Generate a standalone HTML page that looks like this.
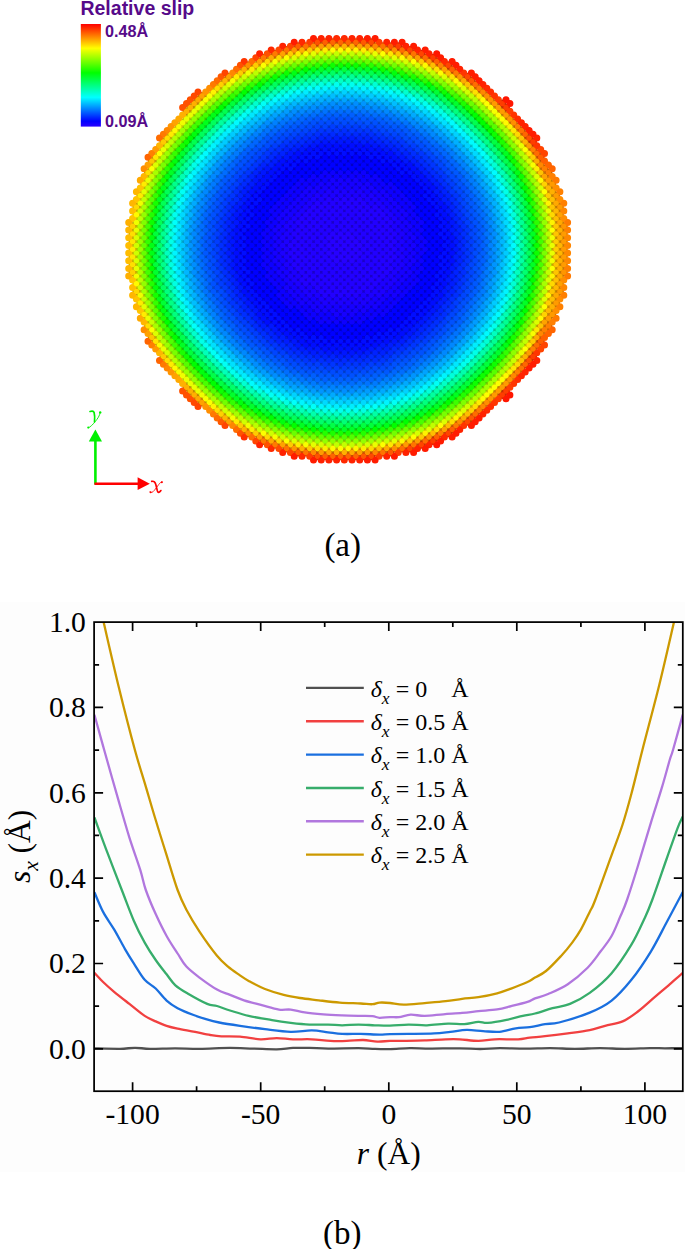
<!DOCTYPE html>
<html><head><meta charset="utf-8"><style>
html,body{margin:0;padding:0;background:#fff;}
body{width:685px;height:1249px;overflow:hidden;}
svg{display:block;}

</style></head><body>
<svg width="685" height="1249" viewBox="0 0 685 1249">
<defs><linearGradient id="cb" x1="0" y1="0" x2="0" y2="1"><stop offset="0" stop-color="#ff0000"/><stop offset="0.236" stop-color="#ffff00"/><stop offset="0.476" stop-color="#00ff00"/><stop offset="0.715" stop-color="#00ffff"/><stop offset="0.947" stop-color="#0000ff"/><stop offset="1" stop-color="#2800ff"/></linearGradient><filter id="bl" x="-5%" y="-5%" width="110%" height="110%"><feGaussianBlur stdDeviation="0.6"/></filter></defs><text x="80.45" y="14.9" font-family="Liberation Sans, sans-serif" font-weight="bold" font-size="19.5" fill="#560a8a">Relative slip</text><rect x="80.8" y="24" width="20.1" height="102.6" fill="url(#cb)"/><text x="105.1" y="37.15" font-family="Liberation Sans, sans-serif" font-weight="bold" font-size="16.2" fill="#560a8a">0.48&#197;</text><text x="105.1" y="126.8" font-family="Liberation Sans, sans-serif" font-weight="bold" font-size="16.2" fill="#560a8a">0.09&#197;</text><g filter="url(#bl)"><g stroke-width="8.0" stroke-linecap="round" fill="none"><path stroke="#1f00c6" d="M328.9 237.8h0M328.9 245.4h0M340.5 233.9h0M359.7 245.4h0M328.9 253.1h0M340.5 241.6h0M359.7 253.1h0M340.5 249.3h0M340.5 256.9h0M336.6 237.8h0M336.6 245.4h0M336.6 253.1h0M355.9 241.6h0M344.3 253.1h0M355.9 249.3h0M344.3 260.8h0M355.9 256.9h0M348.2 233.9h0M348.2 241.6h0M352.0 237.8h0M348.2 249.3h0M332.8 233.9h0M352.0 245.4h0M348.2 256.9h0M332.8 241.6h0M352.0 253.1h0M332.8 249.3h0M352.0 260.8h0M332.8 256.9h0M344.3 237.8h0M344.3 245.4h0M336.6 260.8h0"/><path stroke="#1b00c6" d="M359.7 222.4h0M328.9 230.1h0M363.6 272.3h0M325.1 295.2h0M348.2 203.3h0M375.1 245.4h0M336.6 268.4h0M359.7 230.1h0M363.6 279.9h0M352.0 199.4h0M348.2 210.9h0M375.1 253.1h0M336.6 276.1h0M359.7 237.8h0M363.6 287.6h0M352.0 207.1h0M379.0 210.9h0M348.2 218.6h0M336.6 283.7h0M332.8 203.3h0M321.2 268.4h0M317.4 279.9h0M379.0 218.6h0M336.6 291.4h0M363.6 203.3h0M332.8 210.9h0M294.2 233.9h0M321.2 276.1h0M317.4 287.6h0M379.0 226.3h0M363.6 210.9h0M332.8 218.6h0M294.2 241.6h0M359.7 260.8h0M321.2 283.7h0M390.5 268.4h0M363.6 218.6h0M332.8 226.3h0M325.1 241.6h0M294.2 249.3h0M321.2 291.4h0M313.5 253.1h0M336.6 214.8h0M340.5 264.6h0M363.6 226.3h0M325.1 249.3h0M294.2 256.9h0M313.5 260.8h0M336.6 222.4h0M340.5 272.3h0M363.6 233.9h0M325.1 256.9h0M294.2 264.6h0M371.2 279.9h0M313.5 268.4h0M375.1 207.1h0M394.4 241.6h0M336.6 230.1h0M340.5 279.9h0M382.8 253.1h0M328.9 199.4h0M325.1 264.6h0M317.4 226.3h0M371.2 287.6h0M313.5 276.1h0M394.4 249.3h0M298.1 260.8h0M305.8 260.8h0M382.8 260.8h0M359.7 199.4h0M321.2 222.4h0M325.1 272.3h0M317.4 233.9h0M313.5 283.7h0M394.4 256.9h0M298.1 268.4h0M305.8 268.4h0M382.8 268.4h0M359.7 207.1h0M321.2 230.1h0M325.1 279.9h0M317.4 241.6h0M340.5 203.3h0M355.9 287.6h0M305.8 276.1h0M386.7 226.3h0M382.8 276.1h0M359.7 214.8h0M321.2 237.8h0M290.4 245.4h0M325.1 287.6h0M367.4 260.8h0M317.4 249.3h0M390.5 222.4h0M340.5 210.9h0M302.0 233.9h0M309.7 233.9h0M355.9 295.2h0M305.8 283.7h0M386.7 233.9h0M321.2 245.4h0M290.4 253.1h0M313.5 207.1h0M367.4 268.4h0M317.4 256.9h0M390.5 230.1h0M340.5 218.6h0M302.0 241.6h0M309.7 241.6h0M386.7 241.6h0M325.1 203.3h0M321.2 253.1h0M313.5 214.8h0M367.4 276.1h0M317.4 264.6h0M390.5 237.8h0M340.5 226.3h0M302.0 249.3h0M309.7 249.3h0M386.7 249.3h0M325.1 210.9h0M321.2 260.8h0M371.2 233.9h0M313.5 222.4h0M367.4 283.7h0M317.4 272.3h0M390.5 245.4h0M352.0 268.4h0M302.0 256.9h0M309.7 256.9h0M386.7 256.9h0M348.2 279.9h0M325.1 218.6h0M371.2 241.6h0M313.5 230.1h0M367.4 291.4h0M305.8 214.8h0M390.5 253.1h0M352.0 276.1h0M302.0 264.6h0M309.7 264.6h0M382.8 214.8h0M386.7 264.6h0M348.2 287.6h0M325.1 226.3h0M371.2 249.3h0M313.5 237.8h0M336.6 199.4h0M298.1 222.4h0M305.8 222.4h0M390.5 260.8h0M352.0 283.7h0M302.0 272.3h0M309.7 272.3h0M382.8 222.4h0M386.7 272.3h0M348.2 295.2h0M325.1 233.9h0M367.4 207.1h0M371.2 256.9h0M313.5 245.4h0M332.8 279.9h0M336.6 207.1h0M298.1 230.1h0M305.8 230.1h0M352.0 291.4h0M302.0 279.9h0M309.7 279.9h0M382.8 230.1h0M367.4 214.8h0M317.4 203.3h0M371.2 264.6h0M332.8 287.6h0M298.1 237.8h0M305.8 237.8h0M382.8 237.8h0M367.4 222.4h0M317.4 210.9h0M371.2 272.3h0M332.8 295.2h0M394.4 233.9h0M298.1 245.4h0M305.8 245.4h0M382.8 245.4h0M375.1 260.8h0M344.3 268.4h0M321.2 207.1h0M367.4 230.1h0M317.4 218.6h0M352.0 214.8h0M355.9 264.6h0M298.1 253.1h0M305.8 253.1h0M348.2 226.3h0M375.1 268.4h0M344.3 276.1h0M321.2 214.8h0M367.4 237.8h0M328.9 260.8h0M352.0 222.4h0M309.7 210.9h0M355.9 272.3h0M375.1 276.1h0M344.3 283.7h0M367.4 245.4h0M328.9 268.4h0M352.0 230.1h0M302.0 218.6h0M309.7 218.6h0M355.9 279.9h0M386.7 218.6h0M379.0 233.9h0M375.1 283.7h0M344.3 291.4h0M367.4 253.1h0M359.7 268.4h0M328.9 276.1h0M302.0 226.3h0M309.7 226.3h0M344.3 199.4h0M379.0 241.6h0M371.2 210.9h0M359.7 276.1h0M328.9 283.7h0M344.3 207.1h0M379.0 249.3h0M371.2 218.6h0M359.7 283.7h0M328.9 291.4h0M355.9 203.3h0M344.3 214.8h0M379.0 256.9h0M348.2 264.6h0M371.2 226.3h0M363.6 241.6h0M359.7 291.4h0M355.9 210.9h0M375.1 214.8h0M344.3 222.4h0M379.0 264.6h0M348.2 272.3h0M340.5 287.6h0M328.9 207.1h0M363.6 249.3h0M355.9 218.6h0M375.1 222.4h0M344.3 230.1h0M379.0 272.3h0M340.5 295.2h0M328.9 214.8h0M363.6 256.9h0M332.8 264.6h0M355.9 226.3h0M375.1 230.1h0M379.0 279.9h0M328.9 222.4h0M363.6 264.6h0M332.8 272.3h0M355.9 233.9h0M375.1 237.8h0"/><path stroke="#1700c6" d="M352.0 191.8h0M402.1 264.6h0M286.6 256.9h0M290.4 260.8h0M325.1 302.9h0M379.0 203.3h0M398.2 222.4h0M286.6 264.6h0M332.8 195.6h0M290.4 268.4h0M398.2 230.1h0M363.6 195.6h0M290.4 276.1h0M398.2 237.8h0M398.2 245.4h0M282.7 237.8h0M336.6 299.1h0M317.4 295.2h0M344.3 191.8h0M282.7 245.4h0M386.7 279.9h0M390.5 276.1h0M302.0 287.6h0M309.7 287.6h0M386.7 287.6h0M321.2 299.1h0M375.1 199.4h0M390.5 283.7h0M309.7 295.2h0M328.9 191.8h0M359.7 191.8h0M290.4 222.4h0M294.2 272.3h0M286.6 226.3h0M290.4 230.1h0M294.2 279.9h0M371.2 295.2h0M340.5 195.6h0M290.4 237.8h0M313.5 291.4h0M390.5 214.8h0M394.4 264.6h0M298.1 276.1h0M344.3 299.1h0M394.4 272.3h0M298.1 283.7h0M382.8 283.7h0M325.1 195.6h0M394.4 279.9h0M355.9 302.9h0M305.8 291.4h0M382.8 291.4h0M294.2 218.6h0M382.8 207.1h0M294.2 226.3h0M336.6 191.8h0M298.1 214.8h0M367.4 299.1h0M379.0 287.6h0M317.4 195.6h0M394.4 218.6h0M379.0 295.2h0M348.2 302.9h0M394.4 226.3h0M352.0 299.1h0M321.2 199.4h0M363.6 295.2h0M332.8 302.9h0M309.7 203.3h0M363.6 302.9h0M302.0 210.9h0M386.7 210.9h0M371.2 195.6h0M398.2 253.1h0M371.2 203.3h0M398.2 260.8h0M282.7 253.1h0M375.1 291.4h0M313.5 199.4h0M355.9 195.6h0M398.2 268.4h0M328.9 299.1h0M402.1 233.9h0M359.7 299.1h0M305.8 207.1h0M402.1 241.6h0M286.6 233.9h0M402.1 249.3h0M286.6 241.6h0M340.5 302.9h0M367.4 199.4h0M348.2 195.6h0M402.1 256.9h0M286.6 249.3h0"/><path stroke="#1300c6" d="M379.0 195.6h0M398.2 214.8h0M332.8 187.9h0M402.1 272.3h0M394.4 287.6h0M405.9 260.8h0M282.7 222.4h0M286.6 272.3h0M405.9 268.4h0M282.7 230.1h0M290.4 283.7h0M344.3 184.1h0M409.8 241.6h0M317.4 302.9h0M355.9 187.9h0M375.1 191.8h0M409.8 249.3h0M402.1 218.6h0M302.0 295.2h0M386.7 295.2h0M290.4 214.8h0M321.2 306.7h0M402.1 226.3h0M286.6 218.6h0M390.5 291.4h0M340.5 187.9h0M405.9 230.1h0M371.2 302.9h0M405.9 237.8h0M313.5 299.1h0M344.3 306.7h0M405.9 245.4h0M298.1 291.4h0M294.2 210.9h0M405.9 253.1h0M382.8 199.4h0M305.8 299.1h0M363.6 187.9h0M328.9 306.7h0M394.4 210.9h0M321.2 191.8h0M348.2 310.6h0M278.9 233.9h0M309.7 195.6h0M352.0 306.7h0M278.9 241.6h0M302.0 203.3h0M386.7 203.3h0M286.6 279.9h0M278.9 249.3h0M278.9 256.9h0M390.5 207.1h0M336.6 306.7h0M313.5 191.8h0M325.1 187.9h0M282.7 260.8h0M375.1 299.1h0M398.2 276.1h0M282.7 268.4h0M305.8 199.4h0M398.2 283.7h0M298.1 207.1h0M367.4 191.8h0M294.2 287.6h0M359.7 306.7h0M348.2 187.9h0M340.5 310.6h0"/><path stroke="#0f00c6" d="M278.9 218.6h0M313.5 306.7h0M282.7 214.8h0M382.8 299.1h0M325.1 310.6h0M394.4 295.2h0M405.9 276.1h0M290.4 291.4h0M409.8 233.9h0M367.4 306.7h0M355.9 180.3h0M402.1 210.9h0M328.9 184.1h0M290.4 207.1h0M317.4 310.6h0M286.6 210.9h0M359.7 184.1h0M409.8 256.9h0M352.0 314.4h0M302.0 302.9h0M309.7 302.9h0M405.9 214.8h0M409.8 264.6h0M405.9 222.4h0M409.8 272.3h0M413.6 260.8h0M332.8 180.3h0M294.2 203.3h0M375.1 306.7h0M344.3 314.4h0M355.9 310.6h0M298.1 299.1h0M336.6 184.1h0M275.0 253.1h0M394.4 203.3h0M317.4 187.9h0M409.8 226.3h0M275.0 260.8h0M321.2 184.1h0M278.9 226.3h0M309.7 187.9h0M379.0 302.9h0M302.0 195.6h0M386.7 195.6h0M413.6 237.8h0M402.1 279.9h0M340.5 180.3h0M413.6 245.4h0M371.2 187.9h0M332.8 310.6h0M390.5 199.4h0M413.6 253.1h0M286.6 287.6h0M363.6 310.6h0M278.9 264.6h0M336.6 314.4h0M278.9 272.3h0M275.0 230.1h0M305.8 191.8h0M382.8 191.8h0M275.0 237.8h0M298.1 199.4h0M282.7 276.1h0M367.4 184.1h0M275.0 245.4h0M348.2 180.3h0M398.2 291.4h0M294.2 295.2h0M352.0 184.1h0M398.2 207.1h0"/><path stroke="#0b00c6" d="M294.2 302.9h0M282.7 207.1h0M340.5 318.2h0M271.2 241.6h0M313.5 314.4h0M271.2 249.3h0M382.8 306.7h0M371.2 180.3h0M271.2 256.9h0M344.3 176.5h0M271.2 264.6h0M405.9 283.7h0M375.1 184.1h0M402.1 203.3h0M328.9 176.5h0M290.4 299.1h0M367.4 314.4h0M286.6 203.3h0M359.7 176.5h0M267.3 237.8h0M267.3 245.4h0M405.9 207.1h0M386.7 302.9h0M267.3 253.1h0M390.5 299.1h0M309.7 310.6h0M398.2 199.4h0M413.6 268.4h0M294.2 195.6h0M271.2 226.3h0M371.2 310.6h0M413.6 276.1h0M271.2 233.9h0M278.9 279.9h0M417.5 233.9h0M363.6 180.3h0M336.6 176.5h0M417.5 241.6h0M409.8 210.9h0M394.4 195.6h0M355.9 318.2h0M305.8 306.7h0M417.5 249.3h0M317.4 180.3h0M409.8 218.6h0M328.9 314.4h0M417.5 256.9h0M359.7 314.4h0M417.5 264.6h0M275.0 268.4h0M413.6 222.4h0M290.4 199.4h0M275.0 276.1h0M302.0 187.9h0M386.7 187.9h0M413.6 230.1h0M379.0 310.6h0M348.2 318.2h0M390.5 191.8h0M402.1 287.6h0M313.5 184.1h0M332.8 318.2h0M286.6 295.2h0M325.1 180.3h0M275.0 214.8h0M275.0 222.4h0M305.8 184.1h0M298.1 191.8h0M321.2 314.4h0M282.7 283.7h0M409.8 279.9h0M352.0 176.5h0M282.7 291.4h0M278.9 210.9h0M379.0 187.9h0"/><path stroke="#0700c6" d="M302.0 180.3h0M309.7 180.3h0M325.1 318.2h0M394.4 302.9h0M305.8 314.4h0M382.8 314.4h0M355.9 172.6h0M375.1 176.5h0M402.1 195.6h0M267.3 222.4h0M271.2 272.3h0M286.6 195.6h0M267.3 230.1h0M271.2 279.9h0M405.9 291.4h0M317.4 318.2h0M348.2 172.6h0M352.0 322.1h0M302.0 310.6h0M386.7 310.6h0M271.2 210.9h0M398.2 191.8h0M390.5 306.7h0M309.7 318.2h0M294.2 187.9h0M271.2 218.6h0M379.0 180.3h0M332.8 172.6h0M282.7 199.4h0M363.6 172.6h0M371.2 318.2h0M413.6 283.7h0M409.8 203.3h0M278.9 287.6h0M375.1 314.4h0M344.3 322.1h0M278.9 295.2h0M298.1 306.7h0M321.2 176.5h0M421.3 260.8h0M328.9 322.1h0M413.6 214.8h0M290.4 191.8h0M421.3 268.4h0M359.7 322.1h0M417.5 272.3h0M417.5 279.9h0M405.9 199.4h0M275.0 283.7h0M390.5 184.1h0M340.5 172.6h0M425.2 241.6h0M313.5 176.5h0M425.2 249.3h0M263.5 233.9h0M402.1 295.2h0M325.1 172.6h0M275.0 207.1h0M263.5 241.6h0M363.6 318.2h0M263.5 249.3h0M417.5 218.6h0M286.6 302.9h0M421.3 222.4h0M290.4 306.7h0M298.1 184.1h0M263.5 256.9h0M382.8 184.1h0M417.5 226.3h0M336.6 322.1h0M421.3 230.1h0M263.5 264.6h0M367.4 176.5h0M421.3 237.8h0M394.4 187.9h0M421.3 245.4h0M267.3 260.8h0M321.2 322.1h0M278.9 203.3h0M421.3 253.1h0M267.3 268.4h0M413.6 207.1h0M398.2 299.1h0M267.3 276.1h0M409.8 287.6h0M282.7 299.1h0"/><path stroke="#0300c6" d="M267.3 283.7h0M409.8 295.2h0M259.6 253.1h0M425.2 226.3h0M267.3 291.4h0M294.2 310.6h0M409.8 302.9h0M263.5 210.9h0M340.5 325.9h0M371.2 172.6h0M425.2 233.9h0M313.5 322.1h0M263.5 218.6h0M344.3 168.8h0M355.9 165.0h0M263.5 226.3h0M375.1 168.8h0M402.1 187.9h0M429.0 230.1h0M298.1 314.4h0M275.0 199.4h0M267.3 214.8h0M325.1 325.9h0M286.6 187.9h0M429.0 237.8h0M394.4 310.6h0M305.8 322.1h0M382.8 322.1h0M328.9 168.8h0M421.3 207.1h0M429.0 245.4h0M359.7 168.8h0M429.0 253.1h0M405.9 299.1h0M367.4 322.1h0M429.0 260.8h0M417.5 287.6h0M348.2 165.0h0M348.2 325.9h0M271.2 203.3h0M398.2 184.1h0M379.0 172.6h0M352.0 329.7h0M302.0 318.2h0M386.7 318.2h0M332.8 165.0h0M282.7 191.8h0M363.6 165.0h0M409.8 195.6h0M336.6 168.8h0M371.2 325.9h0M413.6 291.4h0M413.6 299.1h0M375.1 322.1h0M321.2 168.8h0M344.3 329.7h0M267.3 207.1h0M278.9 302.9h0M355.9 325.9h0M290.4 184.1h0M398.2 306.7h0M328.9 329.7h0M386.7 180.3h0M398.2 314.4h0M282.7 306.7h0M405.9 191.8h0M421.3 276.1h0M359.7 329.7h0M390.5 176.5h0M340.5 165.0h0M259.6 260.8h0M421.3 283.7h0M259.6 268.4h0M313.5 168.8h0M275.0 291.4h0M259.6 276.1h0M379.0 318.2h0M325.1 165.0h0M275.0 299.1h0M417.5 203.3h0M294.2 180.3h0M425.2 256.9h0M417.5 210.9h0M402.1 302.9h0M421.3 214.8h0M425.2 264.6h0M332.8 325.9h0M298.1 176.5h0M305.8 176.5h0M382.8 176.5h0M402.1 310.6h0M425.2 272.3h0M271.2 287.6h0M363.6 325.9h0M286.6 310.6h0M367.4 168.8h0M425.2 279.9h0M271.2 295.2h0M290.4 314.4h0M405.9 306.7h0M394.4 180.3h0M429.0 268.4h0M336.6 329.7h0M317.4 325.9h0M259.6 222.4h0M263.5 272.3h0M255.8 233.9h0M317.4 172.6h0M278.9 195.6h0M352.0 168.8h0M259.6 230.1h0M413.6 199.4h0M263.5 279.9h0M255.8 241.6h0M259.6 237.8h0M255.8 249.3h0M390.5 314.4h0M302.0 172.6h0M309.7 172.6h0M259.6 245.4h0M432.9 249.3h0M255.8 256.9h0M425.2 218.6h0"/><path stroke="#0000c6" d="M263.5 203.3h0M432.9 256.9h0M255.8 264.6h0M371.2 165.0h0M344.3 161.1h0M429.0 214.8h0M432.9 264.6h0M251.9 222.4h0M275.0 184.1h0M267.3 299.1h0M294.2 318.2h0M409.8 310.6h0M355.9 157.3h0M371.2 333.6h0M375.1 161.1h0M402.1 180.3h0M429.0 222.4h0M432.9 272.3h0M251.9 230.1h0M421.3 191.8h0M275.0 191.8h0M294.2 325.9h0M313.5 329.7h0M286.6 180.3h0M432.9 279.9h0M251.9 237.8h0M413.6 306.7h0M328.9 161.1h0M421.3 199.4h0M298.1 322.1h0M325.1 333.6h0M394.4 318.2h0M305.8 329.7h0M382.8 329.7h0M255.8 210.9h0M394.4 325.9h0M271.2 187.9h0M259.6 207.1h0M348.2 157.3h0M432.9 210.9h0M255.8 218.6h0M248.1 233.9h0M271.2 195.6h0M367.4 329.7h0M398.2 176.5h0M432.9 218.6h0M248.1 241.6h0M417.5 295.2h0M352.0 161.1h0M379.0 165.0h0M282.7 176.5h0M432.9 226.3h0M248.1 249.3h0M417.5 302.9h0M332.8 157.3h0M348.2 333.6h0M275.0 306.7h0M282.7 184.1h0M432.9 233.9h0M248.1 256.9h0M363.6 157.3h0M248.1 264.6h0M352.0 337.4h0M302.0 325.9h0M309.7 325.9h0M409.8 187.9h0M332.8 333.6h0M336.6 161.1h0M429.0 207.1h0M436.7 253.1h0M267.3 191.8h0M425.2 287.6h0M436.7 260.8h0M267.3 199.4h0M425.2 295.2h0M286.6 172.6h0M436.7 268.4h0M290.4 176.5h0M263.5 287.6h0M375.1 329.7h0M344.3 337.4h0M405.9 176.5h0M278.9 310.6h0M263.5 295.2h0M355.9 333.6h0M359.7 161.1h0M405.9 184.1h0M390.5 168.8h0M340.5 157.3h0M440.6 241.6h0M328.9 337.4h0M440.6 249.3h0M255.8 272.3h0M398.2 322.1h0M282.7 314.4h0M313.5 161.1h0M359.7 337.4h0M417.5 187.9h0M255.8 279.9h0M325.1 157.3h0M340.5 333.6h0M421.3 291.4h0M417.5 195.6h0M255.8 287.6h0M294.2 172.6h0M421.3 299.1h0M436.7 222.4h0M259.6 283.7h0M251.9 245.4h0M379.0 325.9h0M298.1 168.8h0M305.8 168.8h0M382.8 168.8h0M436.7 230.1h0M259.6 291.4h0M251.9 253.1h0M409.8 180.3h0M436.7 237.8h0M251.9 260.8h0M367.4 161.1h0M394.4 172.6h0M436.7 245.4h0M251.9 268.4h0M402.1 318.2h0M278.9 180.3h0M363.6 333.6h0M259.6 214.8h0M413.6 184.1h0M255.8 226.3h0M251.9 276.1h0M286.6 318.2h0M317.4 165.0h0M278.9 187.9h0M271.2 302.9h0M290.4 322.1h0M405.9 314.4h0M413.6 191.8h0M429.0 276.1h0M321.2 161.1h0M336.6 337.4h0M317.4 333.6h0M429.0 283.7h0M425.2 203.3h0M321.2 329.7h0M302.0 165.0h0M309.7 165.0h0M386.7 165.0h0M432.9 241.6h0M429.0 291.4h0M386.7 325.9h0M425.2 210.9h0M263.5 195.6h0M386.7 172.6h0M390.5 322.1h0M309.7 333.6h0"/><path stroke="#0005c6" d="M240.4 241.6h0M444.4 222.4h0M321.2 345.1h0M344.3 153.5h0M251.9 214.8h0M429.0 306.7h0M248.1 279.9h0M390.5 329.7h0M309.7 341.2h0M275.0 176.5h0M240.4 249.3h0M444.4 230.1h0M355.9 149.6h0M417.5 180.3h0M436.7 199.4h0M248.1 287.6h0M390.5 337.4h0M421.3 184.1h0M240.4 256.9h0M444.4 237.8h0M240.4 264.6h0M444.4 245.4h0M267.3 306.7h0M409.8 318.2h0M371.2 341.2h0M305.8 153.5h0M244.2 253.1h0M240.4 272.3h0M444.4 253.1h0M409.8 325.9h0M313.5 337.4h0M255.8 195.6h0M244.2 260.8h0M413.6 314.4h0M259.6 191.8h0M432.9 195.6h0M255.8 203.3h0M244.2 268.4h0M355.9 341.2h0M298.1 329.7h0M413.6 322.1h0M367.4 153.5h0M278.9 325.9h0M259.6 199.4h0M398.2 161.1h0M348.2 149.6h0M432.9 203.3h0M244.2 276.1h0M298.1 337.4h0M305.8 337.4h0M382.8 337.4h0M278.9 172.6h0M398.2 168.8h0M244.2 283.7h0M394.4 333.6h0M352.0 153.5h0M379.0 157.3h0M282.7 168.8h0M332.8 149.6h0M367.4 337.4h0M363.6 149.6h0M367.4 345.1h0M440.6 279.9h0M417.5 310.6h0M379.0 333.6h0M348.2 341.2h0M421.3 314.4h0M275.0 314.4h0M429.0 191.8h0M244.2 214.8h0M440.6 287.6h0M417.5 318.2h0M379.0 341.2h0M275.0 322.1h0M429.0 199.4h0M244.2 222.4h0M248.1 272.3h0M352.0 345.1h0M267.3 184.1h0M332.8 341.2h0M402.1 165.0h0M244.2 230.1h0M290.4 161.1h0M363.6 341.2h0M375.1 153.5h0M402.1 172.6h0M286.6 165.0h0M244.2 237.8h0M290.4 168.8h0M244.2 245.4h0M328.9 153.5h0M405.9 168.8h0M425.2 302.9h0M248.1 203.3h0M436.7 276.1h0M359.7 153.5h0M425.2 310.6h0M340.5 149.6h0M248.1 210.9h0M440.6 233.9h0M436.7 283.7h0M375.1 337.4h0M344.3 345.1h0M278.9 318.2h0M248.1 218.6h0M263.5 302.9h0M436.7 291.4h0M271.2 180.3h0M313.5 153.5h0M248.1 226.3h0M263.5 310.6h0M325.1 149.6h0M328.9 345.1h0M436.7 207.1h0M440.6 256.9h0M398.2 329.7h0M294.2 165.0h0M282.7 322.1h0M359.7 345.1h0M382.8 153.5h0M436.7 214.8h0M440.6 264.6h0M340.5 341.2h0M282.7 329.7h0M267.3 314.4h0M294.2 333.6h0M298.1 161.1h0M305.8 161.1h0M382.8 161.1h0M440.6 272.3h0M432.9 287.6h0M255.8 295.2h0M409.8 172.6h0M421.3 306.7h0M444.4 260.8h0M432.9 295.2h0M255.8 302.9h0M325.1 341.2h0M444.4 268.4h0M394.4 165.0h0M336.6 153.5h0M259.6 299.1h0M317.4 149.6h0M444.4 276.1h0M413.6 176.5h0M259.6 306.7h0M317.4 157.3h0M448.2 233.9h0M402.1 325.9h0M321.2 153.5h0M425.2 187.9h0M448.2 241.6h0M440.6 210.9h0M251.9 283.7h0M286.6 325.9h0M425.2 195.6h0M448.2 249.3h0M271.2 310.6h0M290.4 329.7h0M405.9 322.1h0M302.0 157.3h0M309.7 157.3h0M386.7 157.3h0M440.6 218.6h0M251.9 291.4h0M336.6 345.1h0M240.4 226.3h0M448.2 256.9h0M271.2 318.2h0M317.4 341.2h0M263.5 187.9h0M440.6 226.3h0M251.9 199.4h0M240.4 233.9h0M321.2 337.4h0M448.2 264.6h0M390.5 161.1h0M251.9 207.1h0M429.0 299.1h0M302.0 333.6h0M371.2 157.3h0M386.7 333.6h0"/><path stroke="#000ac6" d="M448.2 272.3h0M417.5 172.6h0M302.0 341.2h0M421.3 176.5h0M386.7 341.2h0M248.1 295.2h0M298.1 153.5h0M255.8 187.9h0M259.6 184.1h0M367.4 145.8h0M236.5 230.1h0M313.5 345.1h0M278.9 165.0h0M236.5 237.8h0M448.2 218.6h0M355.9 348.9h0M236.5 245.4h0M448.2 226.3h0M352.0 145.8h0M379.0 149.6h0M282.7 161.1h0M305.8 345.1h0M425.2 180.3h0M452.1 237.8h0M244.2 291.4h0M452.1 245.4h0M240.4 218.6h0M263.5 180.3h0M429.0 184.1h0M452.1 253.1h0M251.9 191.8h0M244.2 207.1h0M348.2 348.9h0M267.3 176.5h0M344.3 145.8h0M440.6 295.2h0M259.6 314.4h0M332.8 348.9h0M402.1 333.6h0M328.9 145.8h0M363.6 348.9h0M359.7 145.8h0M286.6 333.6h0M251.9 299.1h0M432.9 187.9h0M271.2 172.6h0M375.1 345.1h0M436.7 299.1h0M294.2 157.3h0M263.5 318.2h0M398.2 337.4h0M409.8 165.0h0M340.5 348.9h0M240.4 279.9h0M267.3 322.1h0M394.4 157.3h0M336.6 145.8h0M413.6 168.8h0M432.9 302.9h0M325.1 348.9h0M321.2 145.8h0M236.5 253.1h0M444.4 283.7h0M440.6 203.3h0M236.5 260.8h0M309.7 149.6h0M236.5 268.4h0M444.4 207.1h0M290.4 337.4h0M390.5 153.5h0M405.9 329.7h0M452.1 260.8h0M371.2 149.6h0M444.4 214.8h0M275.0 168.8h0"/><path stroke="#000fc6" d="M355.9 142.0h0M436.7 191.8h0M309.7 348.9h0M456.0 241.6h0M255.8 180.3h0M236.5 214.8h0M259.6 176.5h0M456.0 249.3h0M248.1 302.9h0M236.5 222.4h0M371.2 348.9h0M448.2 210.9h0M348.2 142.0h0M344.3 352.7h0M452.1 222.4h0M413.6 329.7h0M278.9 333.6h0M452.1 230.1h0M298.1 345.1h0M436.7 306.7h0M332.8 142.0h0M382.8 345.1h0M240.4 210.9h0M263.5 172.6h0M267.3 168.8h0M232.7 241.6h0M232.7 249.3h0M421.3 322.1h0M402.1 157.3h0M417.5 325.9h0M232.7 256.9h0M275.0 329.7h0M375.1 145.8h0M286.6 157.3h0M352.0 352.7h0M232.7 264.6h0M405.9 161.1h0M248.1 195.6h0M340.5 142.0h0M251.9 306.7h0M425.2 318.2h0M325.1 142.0h0M448.2 279.9h0M429.0 314.4h0M328.9 352.7h0M359.7 352.7h0M244.2 199.4h0M232.7 233.9h0M294.2 341.2h0M409.8 333.6h0M240.4 287.6h0M255.8 310.6h0M440.6 195.6h0M432.9 310.6h0M290.4 153.5h0M394.4 341.2h0M444.4 291.4h0M302.0 149.6h0M386.7 149.6h0M236.5 276.1h0M336.6 352.7h0M271.2 325.9h0M317.4 348.9h0M452.1 268.4h0M313.5 145.8h0"/><path stroke="#0015c6" d="M452.1 276.1h0M321.2 352.7h0M456.0 233.9h0M452.1 283.7h0M302.0 348.9h0M386.7 348.9h0M236.5 207.1h0M305.8 145.8h0M382.8 145.8h0M390.5 345.1h0M448.2 203.3h0M456.0 256.9h0M278.9 157.3h0M452.1 214.8h0M456.0 264.6h0M352.0 138.1h0M425.2 172.6h0M240.4 203.3h0M363.6 142.0h0M429.0 176.5h0M251.9 184.1h0M244.2 299.1h0M444.4 199.4h0M367.4 352.7h0M344.3 138.1h0M379.0 348.9h0M255.8 318.2h0M348.2 356.6h0M456.0 226.3h0M440.6 302.9h0M248.1 187.9h0M259.6 322.1h0M232.7 272.3h0M402.1 341.2h0M432.9 180.3h0M271.2 165.0h0M286.6 341.2h0M228.8 237.8h0M228.8 245.4h0M398.2 153.5h0M294.2 149.6h0M228.8 253.1h0M448.2 287.6h0M232.7 218.6h0M244.2 191.8h0M263.5 325.9h0M232.7 226.3h0M394.4 149.6h0M336.6 138.1h0M282.7 337.4h0M413.6 161.1h0M340.5 356.6h0M317.4 142.0h0M313.5 352.7h0M440.6 187.9h0M240.4 295.2h0M444.4 299.1h0M371.2 142.0h0M275.0 161.1h0M236.5 283.7h0M405.9 337.4h0M417.5 165.0h0M436.7 184.1h0M421.3 168.8h0"/><path stroke="#001ac6" d="M236.5 291.4h0M271.2 333.6h0M317.4 356.6h0M417.5 333.6h0M255.8 172.6h0M298.1 145.8h0M259.6 168.8h0M452.1 291.4h0M448.2 195.6h0M367.4 138.1h0M248.1 310.6h0M379.0 142.0h0M456.0 272.3h0M240.4 195.6h0M228.8 260.8h0M459.8 260.8h0M456.0 279.9h0M355.9 356.6h0M413.6 337.4h0M228.8 268.4h0M263.5 165.0h0M278.9 341.2h0M251.9 176.5h0M305.8 352.7h0M436.7 314.4h0M444.4 191.8h0M286.6 149.6h0M456.0 218.6h0M421.3 329.7h0M328.9 138.1h0M275.0 337.4h0M440.6 310.6h0M359.7 138.1h0M228.8 222.4h0M332.8 356.6h0M228.8 230.1h0M459.8 230.1h0M232.7 279.9h0M363.6 356.6h0M459.8 237.8h0M452.1 207.1h0M459.8 245.4h0M251.9 314.4h0M459.8 253.1h0M425.2 325.9h0M282.7 153.5h0M375.1 352.7h0M232.7 210.9h0M429.0 322.1h0M409.8 157.3h0M448.2 295.2h0M398.2 345.1h0M267.3 329.7h0M294.2 348.9h0M321.2 138.1h0M325.1 356.6h0M309.7 142.0h0M432.9 318.2h0M405.9 153.5h0M382.8 352.7h0M390.5 145.8h0M244.2 306.7h0M290.4 345.1h0"/><path stroke="#001fc6" d="M405.9 345.1h0M236.5 299.1h0M309.7 356.6h0M390.5 352.7h0M232.7 287.6h0M348.2 134.3h0M371.2 356.6h0M425.2 165.0h0M240.4 187.9h0M332.8 134.3h0M344.3 360.4h0M459.8 268.4h0M429.0 168.8h0M298.1 352.7h0M228.8 276.1h0M459.8 276.1h0M328.9 360.4h0M463.7 241.6h0M402.1 149.6h0M456.0 210.9h0M421.3 161.1h0M463.7 249.3h0M355.9 134.3h0M375.1 138.1h0M463.7 256.9h0M248.1 180.3h0M379.0 356.6h0M255.8 325.9h0M236.5 199.4h0M228.8 214.8h0M225.0 226.3h0M352.0 360.4h0M459.8 222.4h0M225.0 233.9h0M432.9 172.6h0M259.6 329.7h0M271.2 157.3h0M225.0 241.6h0M444.4 306.7h0M452.1 199.4h0M225.0 249.3h0M398.2 145.8h0M336.6 360.4h0M225.0 256.9h0M232.7 203.3h0M225.0 264.6h0M244.2 184.1h0M363.6 134.3h0M448.2 302.9h0M267.3 161.1h0M359.7 360.4h0M440.6 180.3h0M282.7 345.1h0M409.8 341.2h0M290.4 145.8h0M240.4 302.9h0M302.0 142.0h0M386.7 142.0h0M456.0 287.6h0M394.4 348.9h0M340.5 134.3h0M275.0 153.5h0M417.5 157.3h0M436.7 176.5h0M313.5 138.1h0M325.1 134.3h0"/><path stroke="#0024c6" d="M290.4 352.7h0M305.8 138.1h0M382.8 138.1h0M448.2 187.9h0M321.2 360.4h0M302.0 356.6h0M386.7 356.6h0M452.1 299.1h0M278.9 149.6h0M413.6 153.5h0M232.7 295.2h0M248.1 318.2h0M225.0 272.3h0M375.1 360.4h0M444.4 184.1h0M263.5 333.6h0M436.7 322.1h0M228.8 283.7h0M459.8 283.7h0M344.3 130.5h0M456.0 203.3h0M221.1 253.1h0M221.1 260.8h0M236.5 191.8h0M459.8 214.8h0M463.7 264.6h0M421.3 337.4h0M463.7 272.3h0M440.6 318.2h0M402.1 348.9h0M444.4 314.4h0M294.2 142.0h0M286.6 348.9h0M282.7 145.8h0M271.2 341.2h0M251.9 322.1h0M409.8 149.6h0M425.2 333.6h0M394.4 142.0h0M429.0 329.7h0M463.7 226.3h0M221.1 237.8h0M317.4 134.3h0M463.7 233.9h0M221.1 245.4h0M340.5 364.2h0M267.3 337.4h0M313.5 360.4h0M228.8 207.1h0M225.0 218.6h0M240.4 310.6h0M456.0 295.2h0M432.9 325.9h0M371.2 134.3h0M244.2 314.4h0M367.4 360.4h0"/><path stroke="#002ac6" d="M298.1 138.1h0M259.6 161.1h0M417.5 341.2h0M367.4 130.5h0M440.6 172.6h0M425.2 157.3h0M240.4 180.3h0M352.0 130.5h0M379.0 134.3h0M232.7 302.9h0M444.4 176.5h0M309.7 134.3h0M263.5 157.3h0M251.9 168.8h0M225.0 279.9h0M355.9 364.2h0M413.6 345.1h0M278.9 348.9h0M456.0 195.6h0M402.1 142.0h0M421.3 153.5h0M398.2 352.7h0M228.8 291.4h0M459.8 291.4h0M286.6 142.0h0M328.9 130.5h0M221.1 268.4h0M255.8 165.0h0M359.7 130.5h0M348.2 364.2h0M432.9 165.0h0M271.2 149.6h0M275.0 345.1h0M452.1 191.8h0M463.7 279.9h0M332.8 364.2h0M363.6 364.2h0M232.7 195.6h0M244.2 176.5h0M221.1 222.4h0M236.5 306.7h0M429.0 161.1h0M463.7 218.6h0M221.1 230.1h0M336.6 130.5h0M267.3 153.5h0M452.1 306.7h0M448.2 310.6h0M321.2 130.5h0M467.5 230.1h0M228.8 199.4h0M225.0 210.9h0M294.2 356.6h0M248.1 172.6h0M467.5 237.8h0M405.9 145.8h0M459.8 207.1h0M467.5 245.4h0M325.1 364.2h0M390.5 138.1h0M467.5 253.1h0M305.8 360.4h0M382.8 360.4h0M436.7 168.8h0M467.5 260.8h0"/><path stroke="#002fc6" d="M405.9 352.7h0M317.4 364.2h0M352.0 368.1h0M348.2 126.6h0M413.6 145.8h0M309.7 364.2h0M463.7 287.6h0M390.5 360.4h0M371.2 364.2h0M248.1 325.9h0M217.2 226.3h0M302.0 134.3h0M344.3 368.1h0M425.2 341.2h0M225.0 287.6h0M275.0 145.8h0M328.9 368.1h0M263.5 341.2h0M436.7 329.7h0M355.9 126.6h0M359.7 368.1h0M375.1 130.5h0M282.7 352.7h0M236.5 184.1h0M228.8 299.1h0M448.2 180.3h0M221.1 276.1h0M452.1 184.1h0M379.0 364.2h0M255.8 333.6h0M221.1 283.7h0M398.2 138.1h0M467.5 268.4h0M259.6 337.4h0M440.6 325.9h0M232.7 187.9h0M467.5 276.1h0M444.4 322.1h0M332.8 126.6h0M336.6 368.1h0M221.1 214.8h0M471.4 241.6h0M463.7 210.9h0M471.4 249.3h0M251.9 329.7h0M236.5 314.4h0M471.4 256.9h0M429.0 337.4h0M467.5 222.4h0M290.4 138.1h0M225.0 203.3h0M459.8 199.4h0M409.8 348.9h0M386.7 134.3h0M217.2 233.9h0M267.3 345.1h0M217.2 241.6h0M340.5 126.6h0M298.1 360.4h0M217.2 249.3h0M240.4 318.2h0M417.5 149.6h0M456.0 302.9h0M432.9 333.6h0M394.4 356.6h0M313.5 130.5h0M217.2 256.9h0M217.2 264.6h0M244.2 322.1h0"/><path stroke="#0035c6" d="M217.2 272.3h0M305.8 130.5h0M367.4 368.1h0M382.8 130.5h0M471.4 233.9h0M217.2 279.9h0M213.4 237.8h0M394.4 134.3h0M278.9 142.0h0M417.5 348.9h0M213.4 245.4h0M275.0 352.7h0M440.6 165.0h0M302.0 364.2h0M317.4 126.6h0M386.7 364.2h0M213.4 253.1h0M463.7 295.2h0M444.4 168.8h0M217.2 218.6h0M263.5 149.6h0M251.9 161.1h0M232.7 310.6h0M456.0 187.9h0M371.2 126.6h0M225.0 295.2h0M236.5 176.5h0M459.8 299.1h0M255.8 157.3h0M228.8 306.7h0M259.6 153.5h0M432.9 157.3h0M421.3 345.1h0M294.2 134.3h0M240.4 172.6h0M282.7 138.1h0M402.1 356.6h0M221.1 207.1h0M244.2 168.8h0M467.5 283.7h0M286.6 356.6h0M409.8 142.0h0M463.7 203.3h0M290.4 360.4h0M429.0 153.5h0M363.6 126.6h0M271.2 348.9h0M321.2 368.1h0M467.5 214.8h0M471.4 264.6h0M225.0 195.6h0M471.4 272.3h0M452.1 314.4h0M228.8 191.8h0M459.8 191.8h0M448.2 318.2h0M248.1 165.0h0M313.5 368.1h0M436.7 161.1h0M456.0 310.6h0M325.1 126.6h0M471.4 226.3h0"/><path stroke="#003ac6" d="M213.4 222.4h0M298.1 130.5h0M244.2 329.7h0M213.4 230.1h0M348.2 371.9h0M467.5 207.1h0M475.2 253.1h0M425.2 149.6h0M352.0 122.8h0M475.2 260.8h0M440.6 333.6h0M217.2 210.9h0M309.7 126.6h0M375.1 368.1h0M402.1 134.3h0M344.3 122.8h0M355.9 371.9h0M421.3 145.8h0M413.6 352.7h0M278.9 356.6h0M286.6 134.3h0M225.0 302.9h0M328.9 122.8h0M436.7 337.4h0M398.2 360.4h0M359.7 122.8h0M448.2 172.6h0M459.8 306.7h0M452.1 176.5h0M475.2 230.1h0M271.2 142.0h0M475.2 237.8h0M475.2 245.4h0M255.8 341.2h0M221.1 291.4h0M240.4 325.9h0M221.1 199.4h0M332.8 371.9h0M379.0 126.6h0M259.6 345.1h0M463.7 195.6h0M363.6 371.9h0M444.4 329.7h0M467.5 291.4h0M217.2 287.6h0M336.6 122.8h0M456.0 180.3h0M267.3 145.8h0M251.9 337.4h0M236.5 322.1h0M321.2 122.8h0M228.8 184.1h0M213.4 260.8h0M213.4 268.4h0M471.4 279.9h0M405.9 138.1h0M248.1 333.6h0M340.5 371.9h0M294.2 364.2h0M390.5 130.5h0M409.8 356.6h0M325.1 371.9h0M305.8 368.1h0M232.7 180.3h0M382.8 368.1h0M471.4 218.6h0"/><path stroke="#003fc6" d="M228.8 314.4h0M367.4 122.8h0M278.9 134.3h0M317.4 371.9h0M413.6 138.1h0M440.6 157.3h0M467.5 199.4h0M352.0 375.7h0M217.2 203.3h0M221.1 299.1h0M309.7 371.9h0M444.4 161.1h0M251.9 153.5h0M475.2 268.4h0M463.7 302.9h0M302.0 126.6h0M475.2 276.1h0M371.2 371.9h0M232.7 318.2h0M479.1 241.6h0M275.0 138.1h0M344.3 375.7h0M425.2 348.9h0M479.1 249.3h0M236.5 168.8h0M375.1 122.8h0M255.8 149.6h0M263.5 348.9h0M475.2 222.4h0M471.4 287.6h0M282.7 360.4h0M398.2 130.5h0M348.2 119.0h0M240.4 165.0h0M421.3 352.7h0M432.9 341.2h0M463.7 187.9h0M244.2 161.1h0M209.6 233.9h0M332.8 119.0h0M209.6 241.6h0M209.6 249.3h0M336.6 375.7h0M286.6 364.2h0M405.9 360.4h0M209.6 256.9h0M467.5 299.1h0M209.6 264.6h0M225.0 187.9h0M290.4 130.5h0M459.8 184.1h0M248.1 157.3h0M429.0 345.1h0M390.5 368.1h0M386.7 126.6h0M452.1 322.1h0M213.4 276.1h0M448.2 325.9h0M213.4 283.7h0M340.5 119.0h0M267.3 352.7h0M417.5 142.0h0M313.5 122.8h0M471.4 210.9h0M298.1 368.1h0M221.1 191.8h0M209.6 226.3h0M394.4 364.2h0M213.4 214.8h0M456.0 318.2h0"/><path stroke="#0044c6" d="M459.8 314.4h0M394.4 126.6h0M367.4 375.7h0M467.5 191.8h0M244.2 337.4h0M425.2 142.0h0M317.4 119.0h0M217.2 195.6h0M417.5 356.6h0M275.0 360.4h0M302.0 371.9h0M263.5 142.0h0M221.1 306.7h0M463.7 310.6h0M479.1 233.9h0M475.2 283.7h0M371.2 119.0h0M436.7 153.5h0M251.9 345.1h0M355.9 119.0h0M479.1 256.9h0M328.9 375.7h0M475.2 214.8h0M479.1 264.6h0M448.2 165.0h0M259.6 145.8h0M225.0 310.6h0M359.7 375.7h0M432.9 149.6h0M452.1 168.8h0M479.1 272.3h0M471.4 295.2h0M379.0 371.9h0M282.7 130.5h0M240.4 333.6h0M409.8 134.3h0M429.0 145.8h0M363.6 119.0h0M402.1 364.2h0M456.0 172.6h0M479.1 226.3h0M267.3 138.1h0M290.4 368.1h0M225.0 180.3h0M217.2 295.2h0M271.2 356.6h0M228.8 176.5h0M459.8 176.5h0M321.2 375.7h0M209.6 272.3h0M386.7 371.9h0M236.5 329.7h0M405.9 130.5h0M205.7 237.8h0M205.7 245.4h0M205.7 253.1h0M248.1 341.2h0M213.4 291.4h0M471.4 203.3h0M232.7 172.6h0M209.6 218.6h0M325.1 119.0h0M294.2 126.6h0M213.4 207.1h0M305.8 122.8h0M382.8 122.8h0"/><path stroke="#004ac6" d="M456.0 325.9h0M479.1 279.9h0M228.8 322.1h0M459.8 322.1h0M348.2 379.5h0M352.0 115.1h0M309.7 119.0h0M332.8 379.5h0M440.6 341.2h0M344.3 115.1h0M482.9 230.1h0M475.2 291.4h0M421.3 138.1h0M236.5 161.1h0M232.7 325.9h0M482.9 237.8h0M375.1 375.7h0M213.4 199.4h0M482.9 245.4h0M475.2 207.1h0M209.6 279.9h0M355.9 379.5h0M328.9 115.1h0M278.9 364.2h0M482.9 253.1h0M209.6 287.6h0M482.9 260.8h0M263.5 356.6h0M436.7 345.1h0M398.2 368.1h0M225.0 318.2h0M448.2 333.6h0M205.7 260.8h0M240.4 157.3h0M205.7 268.4h0M379.0 119.0h0M255.8 348.9h0M432.9 348.9h0M479.1 218.6h0M259.6 352.7h0M336.6 115.1h0M444.4 337.4h0M402.1 126.6h0M467.5 306.7h0M217.2 302.9h0M286.6 126.6h0M248.1 149.6h0M205.7 222.4h0M205.7 230.1h0M359.7 115.1h0M429.0 352.7h0M390.5 122.8h0M452.1 329.7h0M271.2 134.3h0M417.5 134.3h0M471.4 195.6h0M340.5 379.5h0M294.2 371.9h0M409.8 364.2h0M313.5 375.7h0M209.6 210.9h0M221.1 184.1h0M463.7 180.3h0M413.6 360.4h0M325.1 379.5h0M244.2 153.5h0M305.8 375.7h0M298.1 122.8h0"/><path stroke="#004fc6" d="M467.5 184.1h0M482.9 268.4h0M367.4 115.1h0M413.6 130.5h0M440.6 149.6h0M479.1 287.6h0M217.2 187.9h0M321.2 115.1h0M251.9 145.8h0M302.0 119.0h0M386.7 119.0h0M221.1 314.4h0M436.7 145.8h0M482.9 222.4h0M275.0 130.5h0M463.7 318.2h0M201.9 241.6h0M425.2 356.6h0M255.8 142.0h0M448.2 157.3h0M201.9 249.3h0M452.1 161.1h0M201.9 256.9h0M282.7 368.1h0M398.2 122.8h0M471.4 302.9h0M267.3 360.4h0M205.7 276.1h0M444.4 153.5h0M479.1 210.9h0M456.0 165.0h0M363.6 379.5h0M228.8 168.8h0M405.9 368.1h0M317.4 379.5h0M205.7 214.8h0M290.4 122.8h0M475.2 199.4h0M371.2 379.5h0M209.6 203.3h0M232.7 165.0h0M213.4 299.1h0M382.8 375.7h0M394.4 371.9h0"/><path stroke="#0055c6" d="M482.9 276.1h0M244.2 345.1h0M421.3 360.4h0M486.8 249.3h0M352.0 383.4h0M417.5 364.2h0M486.8 256.9h0M309.7 379.5h0M213.4 191.8h0M201.9 233.9h0M375.1 115.1h0M475.2 299.1h0M467.5 314.4h0M344.3 383.4h0M232.7 333.6h0M259.6 138.1h0M432.9 142.0h0M209.6 295.2h0M201.9 264.6h0M278.9 126.6h0M348.2 111.3h0M486.8 241.6h0M479.1 203.3h0M332.8 111.3h0M379.0 379.5h0M263.5 134.3h0M429.0 138.1h0M205.7 283.7h0M240.4 341.2h0M482.9 214.8h0M402.1 371.9h0M225.0 172.6h0M336.6 383.4h0M459.8 168.8h0M286.6 371.9h0M201.9 226.3h0M271.2 364.2h0M217.2 310.6h0M236.5 337.4h0M390.5 375.7h0M340.5 111.3h0M471.4 187.9h0M313.5 115.1h0M221.1 176.5h0M248.1 348.9h0M463.7 172.6h0M409.8 126.6h0M298.1 375.7h0"/><path stroke="#0059c6" d="M394.4 119.0h0M436.7 352.7h0M225.0 325.9h0M367.4 383.4h0M482.9 283.7h0M479.1 295.2h0M228.8 329.7h0M459.8 329.7h0M275.0 368.1h0M302.0 379.5h0M486.8 264.6h0M440.6 348.9h0M355.9 111.3h0M251.9 352.7h0M328.9 383.4h0M359.7 383.4h0M217.2 180.3h0M201.9 272.3h0M448.2 341.2h0M486.8 226.3h0M425.2 134.3h0M282.7 122.8h0M486.8 233.9h0M471.4 310.6h0M213.4 306.7h0M363.6 111.3h0M255.8 356.6h0M205.7 291.4h0M267.3 130.5h0M456.0 333.6h0M201.9 218.6h0M205.7 207.1h0M290.4 375.7h0M444.4 345.1h0M475.2 191.8h0M405.9 122.8h0M321.2 383.4h0M209.6 195.6h0M452.1 337.4h0M325.1 111.3h0M294.2 119.0h0M305.8 115.1h0M382.8 115.1h0M413.6 368.1h0M467.5 176.5h0"/><path stroke="#005fc6" d="M225.0 165.0h0M205.7 199.4h0M228.8 161.1h0M317.4 111.3h0M201.9 279.9h0M482.9 291.4h0M198.0 253.1h0M198.0 260.8h0M471.4 180.3h0M371.2 111.3h0M259.6 360.4h0M221.1 322.1h0M486.8 272.3h0M421.3 130.5h0M236.5 153.5h0M213.4 184.1h0M463.7 325.9h0M448.2 149.6h0M467.5 322.1h0M375.1 383.4h0M278.9 371.9h0M429.0 360.4h0M486.8 218.6h0M209.6 302.9h0M263.5 364.2h0M240.4 149.6h0M398.2 375.7h0M198.0 230.1h0M479.1 195.6h0M444.4 145.8h0M198.0 237.8h0M251.9 138.1h0M198.0 245.4h0M482.9 207.1h0M432.9 356.6h0M201.9 210.9h0M286.6 119.0h0M248.1 142.0h0M452.1 153.5h0M386.7 379.5h0M390.5 115.1h0M217.2 318.2h0M271.2 126.6h0M232.7 157.3h0M244.2 145.8h0M409.8 371.9h0M313.5 383.4h0M475.2 306.7h0M298.1 115.1h0"/><path stroke="#0064c6" d="M336.6 107.5h0M440.6 142.0h0M490.6 253.1h0M394.4 379.5h0M201.9 287.6h0M479.1 302.9h0M348.2 387.2h0M309.7 111.3h0M436.7 138.1h0M332.8 387.2h0M275.0 122.8h0M198.0 268.4h0M344.3 107.5h0M417.5 126.6h0M198.0 276.1h0M486.8 279.9h0M255.8 134.3h0M425.2 364.2h0M486.8 210.9h0M198.0 222.4h0M340.5 387.2h0M282.7 375.7h0M352.0 107.5h0M379.0 111.3h0M294.2 379.5h0M267.3 368.1h0M471.4 318.2h0M213.4 314.4h0M456.0 157.3h0M482.9 199.4h0M240.4 348.9h0M490.6 260.8h0M205.7 299.1h0M459.8 161.1h0M402.1 119.0h0M475.2 184.1h0M328.9 107.5h0M359.7 107.5h0M209.6 187.9h0M236.5 345.1h0M221.1 168.8h0M463.7 165.0h0M490.6 230.1h0M232.7 341.2h0M490.6 237.8h0M355.9 387.2h0M325.1 387.2h0M490.6 245.4h0M305.8 383.4h0"/><path stroke="#006ac6" d="M382.8 383.4h0M413.6 122.8h0M205.7 191.8h0M194.2 233.9h0M225.0 333.6h0M321.2 107.5h0M228.8 337.4h0M302.0 111.3h0M459.8 337.4h0M386.7 111.3h0M482.9 299.1h0M421.3 368.1h0M471.4 172.6h0M213.4 176.5h0M221.1 329.7h0M486.8 287.6h0M259.6 130.5h0M278.9 119.0h0M217.2 172.6h0M198.0 214.8h0M398.2 115.1h0M479.1 187.9h0M209.6 310.6h0M448.2 348.9h0M263.5 126.6h0M429.0 130.5h0M201.9 203.3h0M363.6 387.2h0M490.6 268.4h0M290.4 115.1h0M456.0 341.2h0M194.2 241.6h0M490.6 276.1h0M244.2 352.7h0M194.2 249.3h0M444.4 352.7h0M405.9 375.7h0M317.4 387.2h0M194.2 256.9h0M432.9 134.3h0M271.2 371.9h0M371.2 387.2h0M490.6 222.4h0M452.1 345.1h0M248.1 356.6h0M467.5 168.8h0M475.2 314.4h0M367.4 107.5h0"/><path stroke="#006ec6" d="M225.0 157.3h0M228.8 153.5h0M194.2 226.3h0M436.7 360.4h0M201.9 295.2h0M479.1 310.6h0M379.0 387.2h0M352.0 391.0h0M417.5 371.9h0M275.0 375.7h0M205.7 306.7h0M440.6 356.6h0M402.1 379.5h0M355.9 103.6h0M286.6 379.5h0M198.0 283.7h0M344.3 391.0h0M486.8 203.3h0M467.5 329.7h0M251.9 360.4h0M198.0 207.1h0M240.4 142.0h0M348.2 103.6h0M425.2 126.6h0M332.8 103.6h0M482.9 191.8h0M201.9 195.6h0M267.3 122.8h0M255.8 364.2h0M475.2 176.5h0M236.5 145.8h0M375.1 107.5h0M336.6 391.0h0M494.5 233.9h0M209.6 180.3h0M494.5 241.6h0M194.2 264.6h0M340.5 103.6h0M494.5 249.3h0M232.7 149.6h0M309.7 387.2h0M194.2 272.3h0M217.2 325.9h0M494.5 256.9h0M390.5 383.4h0M313.5 107.5h0M490.6 214.8h0M294.2 111.3h0M463.7 333.6h0M486.8 295.2h0M409.8 119.0h0M298.1 383.4h0"/><path stroke="#0074c6" d="M413.6 375.7h0M459.8 153.5h0M494.5 226.3h0M482.9 306.7h0M421.3 122.8h0M490.6 207.1h0M259.6 368.1h0M448.2 142.0h0M198.0 291.4h0M305.8 107.5h0M217.2 165.0h0M328.9 391.0h0M479.1 180.3h0M359.7 391.0h0M282.7 115.1h0M444.4 138.1h0M456.0 149.6h0M363.6 103.6h0M471.4 325.9h0M213.4 322.1h0M432.9 364.2h0M248.1 134.3h0M405.9 115.1h0M452.1 145.8h0M290.4 383.4h0M490.6 283.7h0M321.2 391.0h0M221.1 161.1h0M463.7 157.3h0M494.5 264.6h0M325.1 103.6h0M244.2 138.1h0M494.5 272.3h0M190.3 245.4h0M382.8 107.5h0M394.4 111.3h0M205.7 184.1h0M194.2 218.6h0"/><path stroke="#0079c6" d="M278.9 379.5h0M317.4 103.6h0M494.5 218.6h0M225.0 341.2h0M367.4 391.0h0M201.9 302.9h0M228.8 345.1h0M436.7 130.5h0M371.2 103.6h0M213.4 168.8h0M417.5 119.0h0M298.1 107.5h0M467.5 161.1h0M486.8 195.6h0M236.5 352.7h0M429.0 368.1h0M263.5 371.9h0M398.2 383.4h0M251.9 130.5h0M209.6 318.2h0M409.8 379.5h0M190.3 260.8h0M286.6 111.3h0M490.6 291.4h0M271.2 119.0h0M198.0 199.4h0M302.0 387.2h0M386.7 387.2h0M190.3 230.1h0M194.2 279.9h0M190.3 237.8h0M190.3 253.1h0M313.5 391.0h0M194.2 210.9h0M232.7 348.9h0M440.6 134.3h0M475.2 322.1h0"/><path stroke="#007fc6" d="M309.7 103.6h0M209.6 172.6h0M471.4 165.0h0M348.2 394.9h0M390.5 107.5h0M459.8 345.1h0M479.1 318.2h0M275.0 115.1h0M490.6 199.4h0M498.3 237.8h0M498.3 245.4h0M255.8 126.6h0M205.7 314.4h0M498.3 253.1h0M221.1 337.4h0M198.0 299.1h0M375.1 391.0h0M425.2 371.9h0M217.2 333.6h0M194.2 287.6h0M352.0 99.8h0M379.0 103.6h0M482.9 184.1h0M201.9 187.9h0M340.5 394.9h0M294.2 387.2h0M448.2 356.6h0M267.3 375.7h0M190.3 268.4h0M475.2 168.8h0M402.1 111.3h0M344.3 99.8h0M240.4 356.6h0M456.0 348.9h0M432.9 126.6h0M244.2 360.4h0M190.3 222.4h0M498.3 260.8h0M494.5 279.9h0M452.1 352.7h0M463.7 341.2h0M486.8 302.9h0M336.6 99.8h0"/><path stroke="#0084c6" d="M305.8 391.0h0M382.8 391.0h0M494.5 210.9h0M290.4 107.5h0M498.3 230.1h0M201.9 310.6h0M421.3 375.7h0M482.9 314.4h0M332.8 394.9h0M363.6 394.9h0M440.6 364.2h0M259.6 122.8h0M444.4 360.4h0M467.5 337.4h0M251.9 368.1h0M429.0 122.8h0M282.7 383.4h0M494.5 287.6h0M325.1 394.9h0M471.4 333.6h0M190.3 276.1h0M213.4 329.7h0M394.4 387.2h0M328.9 99.8h0M486.8 187.9h0M359.7 99.8h0M198.0 191.8h0M405.9 383.4h0M232.7 142.0h0M490.6 299.1h0M479.1 172.6h0M194.2 203.3h0M498.3 268.4h0M205.7 176.5h0M248.1 364.2h0M413.6 115.1h0M228.8 145.8h0M355.9 394.9h0"/><path stroke="#0089c6" d="M494.5 203.3h0M475.2 329.7h0M298.1 391.0h0M321.2 99.8h0M436.7 368.1h0M302.0 103.6h0M386.7 103.6h0M498.3 222.4h0M417.5 379.5h0M255.8 371.9h0M286.6 387.2h0M217.2 157.3h0M367.4 99.8h0M278.9 111.3h0M240.4 134.3h0M398.2 107.5h0M425.2 119.0h0M482.9 176.5h0M194.2 295.2h0M263.5 119.0h0M456.0 142.0h0M209.6 325.9h0M236.5 138.1h0M190.3 283.7h0M317.4 394.9h0M190.3 214.8h0M221.1 153.5h0M271.2 379.5h0M186.5 233.9h0M186.5 241.6h0M186.5 249.3h0M409.8 111.3h0M186.5 256.9h0M371.2 394.9h0M186.5 264.6h0M225.0 149.6h0M498.3 276.1h0M486.8 310.6h0M459.8 145.8h0"/><path stroke="#008ec6" d="M502.2 241.6h0M248.1 126.6h0M502.2 249.3h0M502.2 256.9h0M471.4 157.3h0M498.3 214.8h0M190.3 207.1h0M213.4 161.1h0M490.6 191.8h0M313.5 99.8h0M479.1 325.9h0M275.0 383.4h0M448.2 134.3h0M259.6 375.7h0M402.1 387.2h0M467.5 153.5h0M205.7 322.1h0M502.2 233.9h0M444.4 130.5h0M201.9 180.3h0M267.3 115.1h0M186.5 272.3h0M494.5 295.2h0M375.1 99.8h0M432.9 371.9h0M452.1 138.1h0M186.5 226.3h0M463.7 149.6h0M294.2 103.6h0M309.7 394.9h0M244.2 130.5h0M390.5 391.0h0M194.2 195.6h0M198.0 306.7h0"/><path stroke="#0094c6" d="M498.3 283.7h0M232.7 356.6h0M413.6 383.4h0M209.6 165.0h0M502.2 264.6h0M225.0 348.9h0M186.5 218.6h0M421.3 115.1h0M379.0 394.9h0M228.8 352.7h0M352.0 398.7h0M355.9 96.0h0M201.9 318.2h0M305.8 99.8h0M382.8 99.8h0M440.6 126.6h0M502.2 226.3h0M348.2 96.0h0M490.6 306.7h0M282.7 107.5h0M217.2 341.2h0M236.5 360.4h0M328.9 398.7h0M251.9 122.8h0M332.8 96.0h0M429.0 375.7h0M359.7 398.7h0M498.3 207.1h0M194.2 302.9h0M475.2 161.1h0M405.9 107.5h0M190.3 291.4h0M486.8 180.3h0M198.0 184.1h0M271.2 111.3h0M336.6 398.7h0M340.5 96.0h0M290.4 391.0h0M325.1 96.0h0M482.9 322.1h0M221.1 345.1h0M394.4 103.6h0M344.3 398.7h0M494.5 195.6h0"/><path stroke="#0099c6" d="M198.0 314.4h0M486.8 318.2h0M182.6 237.8h0M498.3 291.4h0M278.9 387.2h0M182.6 245.4h0M190.3 199.4h0M186.5 210.9h0M436.7 122.8h0M367.4 398.7h0M490.6 184.1h0M502.2 272.3h0M417.5 111.3h0M459.8 352.7h0M471.4 341.2h0M502.2 218.6h0M425.2 379.5h0M467.5 345.1h0M363.6 96.0h0M263.5 379.5h0M398.2 391.0h0M452.1 360.4h0M448.2 364.2h0M409.8 387.2h0M186.5 279.9h0M286.6 103.6h0M213.4 337.4h0M255.8 119.0h0M182.6 253.1h0M240.4 364.2h0M182.6 260.8h0M456.0 356.6h0M244.2 368.1h0M479.1 165.0h0M321.2 398.7h0M302.0 394.9h0M386.7 394.9h0M205.7 168.8h0M463.7 348.9h0M317.4 96.0h0"/><path stroke="#009ec6" d="M182.6 230.1h0M475.2 337.4h0M390.5 99.8h0M232.7 134.3h0M371.2 96.0h0M209.6 333.6h0M275.0 107.5h0M221.1 145.8h0M502.2 279.9h0M259.6 115.1h0M298.1 99.8h0M444.4 368.1h0M375.1 398.7h0M482.9 168.8h0M498.3 199.4h0M506.0 253.1h0M313.5 398.7h0M402.1 103.6h0M267.3 383.4h0M494.5 302.9h0M186.5 287.6h0M432.9 119.0h0M190.3 299.1h0M182.6 268.4h0M201.9 172.6h0M194.2 187.9h0M506.0 237.8h0M506.0 245.4h0M225.0 142.0h0M228.8 138.1h0M248.1 371.9h0"/><path stroke="#00a3c6" d="M309.7 96.0h0M186.5 203.3h0M348.2 402.5h0M421.3 383.4h0M467.5 145.8h0M440.6 371.9h0M217.2 149.6h0M502.2 210.9h0M205.7 329.7h0M413.6 107.5h0M352.0 92.1h0M379.0 96.0h0M490.6 314.4h0M251.9 375.7h0M429.0 115.1h0M456.0 134.3h0M213.4 153.5h0M340.5 402.5h0M282.7 391.0h0M194.2 310.6h0M506.0 260.8h0M294.2 394.9h0M236.5 130.5h0M344.3 92.1h0M486.8 172.6h0M394.4 394.9h0M198.0 176.5h0M240.4 126.6h0M463.7 142.0h0M182.6 276.1h0M405.9 391.0h0M479.1 333.6h0M506.0 230.1h0M336.6 92.1h0M494.5 187.9h0M459.8 138.1h0M182.6 222.4h0"/><path stroke="#00a9c6" d="M290.4 99.8h0M355.9 402.5h0M305.8 398.7h0M498.3 299.1h0M302.0 96.0h0M209.6 157.3h0M471.4 149.6h0M190.3 191.8h0M490.6 176.5h0M436.7 375.7h0M178.8 241.6h0M178.8 249.3h0M255.8 379.5h0M332.8 402.5h0M363.6 402.5h0M278.9 103.6h0M425.2 111.3h0M271.2 387.2h0M263.5 111.3h0M506.0 268.4h0M325.1 402.5h0M448.2 126.6h0M382.8 398.7h0M186.5 295.2h0M452.1 130.5h0M328.9 92.1h0M359.7 92.1h0M398.2 99.8h0M506.0 222.4h0M502.2 287.6h0M244.2 122.8h0M417.5 387.2h0M201.9 325.9h0M482.9 329.7h0M182.6 214.8h0M475.2 153.5h0"/><path stroke="#00aec6" d="M248.1 119.0h0M321.2 92.1h0M198.0 322.1h0M232.7 364.2h0M486.8 325.9h0M298.1 398.7h0M386.7 96.0h0M178.8 233.9h0M225.0 356.6h0M194.2 180.3h0M178.8 256.9h0M502.2 203.3h0M178.8 264.6h0M367.4 92.1h0M286.6 394.9h0M444.4 122.8h0M498.3 191.8h0M217.2 348.9h0M506.0 276.1h0M494.5 310.6h0M213.4 345.1h0M432.9 379.5h0M190.3 306.7h0M479.1 157.3h0M506.0 214.8h0M317.4 402.5h0M182.6 283.7h0M228.8 360.4h0M409.8 103.6h0M205.7 161.1h0M267.3 107.5h0M221.1 352.7h0M371.2 402.5h0"/><path stroke="#00b4c6" d="M463.7 356.6h0M190.3 184.1h0M413.6 391.0h0M186.5 195.6h0M498.3 306.7h0M313.5 92.1h0M209.6 341.2h0M471.4 348.9h0M275.0 391.0h0M259.6 383.4h0M402.1 394.9h0M178.8 272.3h0M440.6 119.0h0M494.5 180.3h0M251.9 115.1h0M490.6 322.1h0M467.5 352.7h0M236.5 368.1h0M429.0 383.4h0M178.8 226.3h0M421.3 107.5h0M194.2 318.2h0M375.1 92.1h0M509.9 233.9h0M506.0 283.7h0M509.9 241.6h0M509.9 249.3h0M240.4 371.9h0M509.9 256.9h0M456.0 364.2h0M294.2 96.0h0M482.9 161.1h0M282.7 99.8h0M459.8 360.4h0M201.9 165.0h0M502.2 295.2h0M309.7 402.5h0M390.5 398.7h0M182.6 207.1h0"/><path stroke="#00b8c6" d="M344.3 406.4h0M405.9 99.8h0M475.2 345.1h0M436.7 115.1h0M263.5 387.2h0M221.1 138.1h0M379.0 402.5h0M352.0 406.4h0M502.2 195.6h0M305.8 92.1h0M382.8 92.1h0M217.2 142.0h0M336.6 406.4h0M348.2 88.3h0M205.7 337.4h0M332.8 88.3h0M178.8 218.6h0M452.1 368.1h0M448.2 371.9h0M355.9 88.3h0M509.9 226.3h0M486.8 165.0h0M255.8 111.3h0M198.0 168.8h0M186.5 302.9h0M271.2 103.6h0M340.5 88.3h0M506.0 207.1h0M509.9 264.6h0M290.4 398.7h0M244.2 375.7h0M182.6 291.4h0M479.1 341.2h0M225.0 134.3h0M394.4 96.0h0"/><path stroke="#00bec6" d="M509.9 218.6h0M186.5 187.9h0M425.2 387.2h0M209.6 149.6h0M174.9 260.8h0M490.6 168.8h0M328.9 406.4h0M278.9 394.9h0M232.7 126.6h0M417.5 103.6h0M463.7 134.3h0M325.1 88.3h0M194.2 172.6h0M467.5 138.1h0M178.8 279.9h0M190.3 314.4h0M174.9 237.8h0M444.4 375.7h0M498.3 184.1h0M174.9 245.4h0M174.9 253.1h0M178.8 210.9h0M213.4 145.8h0M359.7 406.4h0M398.2 398.7h0M409.8 394.9h0M248.1 379.5h0M432.9 111.3h0M494.5 318.2h0M506.0 291.4h0M509.9 272.3h0M321.2 406.4h0M302.0 402.5h0M386.7 402.5h0M182.6 199.4h0M502.2 302.9h0M201.9 333.6h0M363.6 88.3h0M482.9 337.4h0M228.8 130.5h0"/><path stroke="#00c3c6" d="M471.4 142.0h0M198.0 329.7h0M486.8 333.6h0M174.9 268.4h0M390.5 92.1h0M371.2 88.3h0M506.0 199.4h0M298.1 92.1h0M421.3 391.0h0M205.7 153.5h0M494.5 172.6h0M174.9 230.1h0M509.9 279.9h0M182.6 299.1h0M251.9 383.4h0M275.0 99.8h0M236.5 122.8h0M402.1 96.0h0M286.6 96.0h0M452.1 122.8h0M267.3 391.0h0M259.6 107.5h0M498.3 314.4h0M479.1 149.6h0M240.4 119.0h0M513.7 245.4h0M367.4 406.4h0M513.7 253.1h0M456.0 126.6h0M475.2 145.8h0M459.8 130.5h0M440.6 379.5h0M317.4 88.3h0M178.8 287.6h0"/><path stroke="#00c6c4" d="M190.3 176.5h0M375.1 406.4h0M309.7 88.3h0M502.2 187.9h0M174.9 222.4h0M413.6 99.8h0M490.6 329.7h0M217.2 356.6h0M282.7 398.7h0M294.2 402.5h0M313.5 406.4h0M194.2 325.9h0M513.7 237.8h0M186.5 310.6h0M482.9 153.5h0M201.9 157.3h0M513.7 260.8h0M429.0 107.5h0M509.9 210.9h0M221.1 360.4h0"/><path stroke="#00c6bf" d="M174.9 276.1h0M436.7 383.4h0M225.0 364.2h0M209.6 348.9h0M182.6 191.8h0M255.8 387.2h0M506.0 299.1h0M379.0 88.3h0M263.5 103.6h0M271.2 394.9h0M178.8 203.3h0M198.0 161.1h0M448.2 119.0h0M513.7 230.1h0M394.4 402.5h0M213.4 352.7h0M244.2 115.1h0M405.9 398.7h0M228.8 368.1h0"/><path stroke="#00c6ba" d="M186.5 180.3h0M463.7 364.2h0M355.9 410.2h0M232.7 371.9h0M467.5 360.4h0M348.2 410.2h0M471.4 356.6h0M174.9 214.8h0M332.8 410.2h0M278.9 96.0h0M425.2 103.6h0M444.4 115.1h0M498.3 176.5h0M352.0 84.5h0M205.7 345.1h0M513.7 268.4h0M509.9 287.6h0M344.3 84.5h0M340.5 410.2h0M486.8 157.3h0M513.7 222.4h0M305.8 406.4h0M382.8 406.4h0M494.5 325.9h0M336.6 84.5h0M502.2 310.6h0M248.1 111.3h0M290.4 92.1h0"/><path stroke="#00c6b4" d="M178.8 295.2h0M302.0 88.3h0M506.0 191.8h0M194.2 165.0h0M432.9 387.2h0M190.3 322.1h0M182.6 306.7h0M236.5 375.7h0M328.9 84.5h0M325.1 410.2h0M359.7 84.5h0M475.2 352.7h0M398.2 92.1h0M409.8 96.0h0M459.8 368.1h0M417.5 394.9h0M479.1 348.9h0M201.9 341.2h0M171.1 241.6h0M509.9 203.3h0M171.1 249.3h0M171.1 256.9h0"/><path stroke="#00c6b0" d="M171.1 264.6h0M386.7 88.3h0M490.6 161.1h0M174.9 283.7h0M440.6 111.3h0M367.4 84.5h0M363.6 410.2h0M240.4 379.5h0M259.6 391.0h0M286.6 402.5h0M513.7 276.1h0M456.0 371.9h0M171.1 233.9h0M267.3 99.8h0M482.9 345.1h0M321.2 84.5h0"/><path stroke="#00c6aa" d="M209.6 142.0h0M513.7 214.8h0M221.1 130.5h0M198.0 337.4h0M217.2 134.3h0M174.9 207.1h0M171.1 226.3h0M402.1 402.5h0M251.9 107.5h0M178.8 195.6h0M213.4 138.1h0M509.9 295.2h0M421.3 99.8h0M429.0 391.0h0M517.6 249.3h0M452.1 375.7h0M502.2 180.3h0M298.1 406.4h0M186.5 318.2h0M498.3 322.1h0M317.4 410.2h0M225.0 126.6h0M275.0 398.7h0M371.2 410.2h0"/><path stroke="#00c6a5" d="M171.1 272.3h0M436.7 107.5h0M413.6 398.7h0M313.5 84.5h0M448.2 379.5h0M182.6 184.1h0M205.7 145.8h0M494.5 165.0h0M506.0 306.7h0M513.7 283.7h0M517.6 241.6h0M517.6 256.9h0M375.1 84.5h0M486.8 341.2h0M294.2 88.3h0M282.7 92.1h0M244.2 383.4h0M228.8 122.8h0M517.6 233.9h0M390.5 406.4h0M190.3 168.8h0"/><path stroke="#00c6a0" d="M405.9 92.1h0M178.8 302.9h0M232.7 119.0h0M463.7 126.6h0M263.5 394.9h0M174.9 291.4h0M467.5 130.5h0M171.1 218.6h0M394.4 88.3h0M471.4 134.3h0M490.6 337.4h0M255.8 103.6h0M517.6 264.6h0M194.2 333.6h0M271.2 96.0h0M479.1 142.0h0M201.9 149.6h0M475.2 138.1h0M309.7 410.2h0M509.9 195.6h0"/><path stroke="#00c69b" d="M344.3 414.0h0M506.0 184.1h0M425.2 394.9h0M340.5 80.7h0M417.5 96.0h0M305.8 84.5h0M379.0 410.2h0M348.2 80.7h0M498.3 168.8h0M336.6 414.0h0M290.4 406.4h0M444.4 383.4h0M236.5 115.1h0M182.6 314.4h0M432.9 103.6h0M248.1 387.2h0M171.1 279.9h0M482.9 145.8h0M456.0 119.0h0M517.6 226.3h0M459.8 122.8h0M502.2 318.2h0M186.5 172.6h0M513.7 207.1h0"/><path stroke="#00c695" d="M328.9 414.0h0M278.9 402.5h0M359.7 414.0h0M167.2 245.4h0M398.2 406.4h0M167.2 253.1h0M382.8 84.5h0M494.5 333.6h0M213.4 360.4h0M178.8 187.9h0M190.3 329.7h0M513.7 291.4h0M509.9 302.9h0M486.8 149.6h0M217.2 364.2h0M198.0 153.5h0M355.9 80.7h0M409.8 402.5h0M174.9 199.4h0M517.6 272.3h0M332.8 80.7h0M352.0 414.0h0M440.6 387.2h0"/><path stroke="#00c691" d="M221.1 368.1h0M205.7 352.7h0M167.2 237.8h0M194.2 157.3h0M325.1 80.7h0M171.1 210.9h0M209.6 356.6h0M321.2 414.0h0M251.9 391.0h0M286.6 88.3h0M502.2 172.6h0M452.1 115.1h0M259.6 99.8h0M267.3 398.7h0M240.4 111.3h0M167.2 260.8h0M225.0 371.9h0M517.6 218.6h0M363.6 80.7h0M302.0 410.2h0M386.7 410.2h0"/><path stroke="#00c68b" d="M178.8 310.6h0M167.2 230.1h0M467.5 368.1h0M182.6 176.5h0M174.9 299.1h0M298.1 84.5h0M421.3 398.7h0M471.4 364.2h0M506.0 314.4h0M186.5 325.9h0M490.6 153.5h0M275.0 92.1h0M402.1 88.3h0M448.2 111.3h0M517.6 279.9h0M171.1 287.6h0M475.2 360.4h0M498.3 329.7h0M367.4 414.0h0M429.0 99.8h0M167.2 268.4h0M509.9 187.9h0M228.8 375.7h0M317.4 80.7h0M201.9 348.9h0M513.7 199.4h0"/><path stroke="#00c686" d="M521.4 245.4h0M167.2 222.4h0M521.4 253.1h0M390.5 84.5h0M463.7 371.9h0M232.7 379.5h0M198.0 345.1h0M436.7 391.0h0M282.7 406.4h0M494.5 157.3h0M413.6 92.1h0M190.3 161.1h0M371.2 80.7h0M313.5 414.0h0M244.2 107.5h0M517.6 210.9h0M459.8 375.7h0M479.1 356.6h0M482.9 352.7h0M521.4 237.8h0"/><path stroke="#00c681" d="M506.0 176.5h0M375.1 414.0h0M521.4 260.8h0M171.1 203.3h0M255.8 394.9h0M444.4 107.5h0M263.5 96.0h0M405.9 406.4h0M271.2 402.5h0M513.7 299.1h0M236.5 383.4h0M174.9 191.8h0M294.2 410.2h0M486.8 348.9h0M394.4 410.2h0M456.0 379.5h0M167.2 276.1h0M521.4 230.1h0M502.2 325.9h0"/><path stroke="#00c67c" d="M221.1 122.8h0M194.2 341.2h0M425.2 96.0h0M498.3 161.1h0M432.9 394.9h0M186.5 165.0h0M309.7 80.7h0M213.4 130.5h0M509.9 310.6h0M182.6 322.1h0M490.6 345.1h0M340.5 417.9h0M217.2 126.6h0M521.4 268.4h0M305.8 414.0h0M517.6 287.6h0M178.8 180.3h0M379.0 80.7h0M417.5 402.5h0M248.1 103.6h0M209.6 134.3h0"/><path stroke="#00c676" d="M167.2 214.8h0M355.9 417.9h0M205.7 138.1h0M225.0 119.0h0M348.2 417.9h0M440.6 103.6h0M278.9 88.3h0M332.8 417.9h0M352.0 76.8h0M240.4 387.2h0M259.6 398.7h0M190.3 337.4h0M344.3 76.8h0M452.1 383.4h0M163.4 249.3h0M382.8 414.0h0M171.1 295.2h0M201.9 142.0h0M517.6 203.3h0M174.9 306.7h0M336.6 76.8h0M521.4 222.4h0M513.7 191.8h0M290.4 84.5h0"/><path stroke="#00c671" d="M178.8 318.2h0M467.5 122.8h0M448.2 387.2h0M494.5 341.2h0M251.9 99.8h0M363.6 417.9h0M471.4 126.6h0M506.0 322.1h0M286.6 410.2h0M302.0 80.7h0M429.0 398.7h0M328.9 76.8h0M163.4 233.9h0M359.7 76.8h0M163.4 241.6h0M479.1 134.3h0M325.1 417.9h0M163.4 256.9h0M398.2 84.5h0M521.4 276.1h0M409.8 88.3h0M509.9 180.3h0M475.2 130.5h0M267.3 92.1h0M228.8 115.1h0M167.2 283.7h0M275.0 406.4h0M198.0 145.8h0"/><path stroke="#00c66c" d="M386.7 80.7h0M463.7 119.0h0M171.1 195.6h0M182.6 168.8h0M521.4 214.8h0M517.6 295.2h0M402.1 410.2h0M186.5 333.6h0M421.3 92.1h0M502.2 165.0h0M174.9 184.1h0M513.7 306.7h0M298.1 414.0h0M413.6 406.4h0M482.9 138.1h0M163.4 264.6h0M498.3 337.4h0M317.4 417.9h0M244.2 391.0h0M486.8 142.0h0M321.2 76.8h0M167.2 207.1h0"/><path stroke="#00c666" d="M371.2 417.9h0M232.7 111.3h0M205.7 360.4h0M194.2 149.6h0M263.5 402.5h0M525.2 241.6h0M367.4 76.8h0M209.6 364.2h0M213.4 368.1h0M436.7 99.8h0M444.4 391.0h0M390.5 414.0h0M217.2 371.9h0M521.4 283.7h0M171.1 302.9h0M163.4 272.3h0M525.2 249.3h0M525.2 256.9h0M459.8 115.1h0M163.4 226.3h0"/><path stroke="#00c662" d="M506.0 168.8h0M221.1 375.7h0M425.2 402.5h0M313.5 76.8h0M525.2 233.9h0M190.3 153.5h0M490.6 145.8h0M236.5 107.5h0M255.8 96.0h0M509.9 318.2h0M182.6 329.7h0M502.2 333.6h0M248.1 394.9h0M517.6 195.6h0M282.7 84.5h0M456.0 111.3h0M225.0 379.5h0M174.9 314.4h0M525.2 264.6h0M167.2 291.4h0M309.7 417.9h0M201.9 356.6h0"/><path stroke="#00c65c" d="M440.6 394.9h0M344.3 421.7h0M278.9 410.2h0M525.2 226.3h0M294.2 80.7h0M467.5 375.7h0M494.5 149.6h0M521.4 207.1h0M379.0 417.9h0M471.4 371.9h0M290.4 414.0h0M375.1 76.8h0M432.9 96.0h0M271.2 88.3h0M178.8 172.6h0M198.0 352.7h0M475.2 368.1h0M513.7 184.1h0M228.8 383.4h0M163.4 218.6h0M479.1 364.2h0M482.9 360.4h0M405.9 84.5h0"/><path stroke="#00c657" d="M417.5 88.3h0M463.7 379.5h0M171.1 187.9h0M251.9 398.7h0M328.9 421.7h0M359.7 421.7h0M398.2 414.0h0M394.4 80.7h0M194.2 348.9h0M186.5 157.3h0M517.6 302.9h0M167.2 199.4h0M163.4 279.9h0M336.6 421.7h0M409.8 410.2h0M240.4 103.6h0M267.3 406.4h0M486.8 356.6h0M521.4 291.4h0M352.0 421.7h0M525.2 272.3h0M452.1 107.5h0"/><path stroke="#00c652" d="M340.5 73.0h0M525.2 218.6h0M178.8 325.9h0M513.7 314.4h0M305.8 76.8h0M436.7 398.7h0M509.9 172.6h0M421.3 406.4h0M506.0 329.7h0M159.5 253.1h0M190.3 345.1h0M321.2 421.7h0M159.5 260.8h0M259.6 92.1h0M490.6 352.7h0M498.3 153.5h0M348.2 73.0h0M232.7 387.2h0M159.5 237.8h0M159.5 245.4h0M459.8 383.4h0M163.4 210.9h0M302.0 417.9h0M386.7 417.9h0M167.2 299.1h0"/><path stroke="#00c64d" d="M182.6 161.1h0M244.2 99.8h0M382.8 76.8h0M521.4 199.4h0M255.8 402.5h0M494.5 348.9h0M163.4 287.6h0M456.0 387.2h0M448.2 103.6h0M174.9 176.5h0M355.9 73.0h0M236.5 391.0h0M429.0 92.1h0M332.8 73.0h0M171.1 310.6h0M159.5 230.1h0M367.4 421.7h0M525.2 279.9h0"/><path stroke="#00c647" d="M375.1 421.7h0M517.6 187.9h0M325.1 73.0h0M205.7 130.5h0M509.9 325.9h0M282.7 414.0h0M209.6 126.6h0M432.9 402.5h0M213.4 122.8h0M186.5 341.2h0M405.9 414.0h0M275.0 84.5h0M271.2 410.2h0M502.2 157.3h0M286.6 80.7h0M159.5 268.4h0M217.2 119.0h0M294.2 417.9h0M313.5 421.7h0M529.1 245.4h0M452.1 391.0h0M529.1 253.1h0M201.9 134.3h0M363.6 73.0h0M498.3 345.1h0"/><path stroke="#00c643" d="M221.1 115.1h0M525.2 210.9h0M298.1 76.8h0M413.6 84.5h0M529.1 260.8h0M167.2 191.8h0M517.6 310.6h0M240.4 394.9h0M402.1 80.7h0M159.5 276.1h0M529.1 237.8h0M444.4 99.8h0M394.4 417.9h0M159.5 222.4h0M521.4 299.1h0M513.7 176.5h0M163.4 203.3h0M174.9 322.1h0M198.0 138.1h0M417.5 410.2h0"/><path stroke="#00c63d" d="M390.5 76.8h0M479.1 126.6h0M171.1 180.3h0M194.2 142.0h0M205.7 368.1h0M225.0 111.3h0M448.2 394.9h0M317.4 73.0h0M209.6 371.9h0M529.1 268.4h0M263.5 88.3h0M471.4 119.0h0M163.4 295.2h0M371.2 73.0h0M167.2 306.7h0M529.1 230.1h0M182.6 337.4h0M502.2 341.2h0M340.5 425.5h0M482.9 130.5h0M178.8 165.0h0M305.8 421.7h0M475.2 122.8h0M348.2 425.5h0M486.8 134.3h0M248.1 96.0h0M506.0 161.1h0M525.2 287.6h0M259.6 406.4h0"/><path stroke="#00c638" d="M201.9 364.2h0M355.9 425.5h0M467.5 115.1h0M521.4 191.8h0M217.2 379.5h0M513.7 322.1h0M440.6 96.0h0M228.8 107.5h0M425.2 88.3h0M190.3 145.8h0M490.6 138.1h0M332.8 425.5h0M213.4 375.7h0M286.6 417.9h0M529.1 222.4h0M429.0 406.4h0M159.5 214.8h0M382.8 421.7h0M198.0 360.4h0M171.1 318.2h0M244.2 398.7h0"/><path stroke="#00c633" d="M525.2 203.3h0M463.7 111.3h0M221.1 383.4h0M494.5 142.0h0M509.9 165.0h0M278.9 80.7h0M194.2 356.6h0M529.1 276.1h0M309.7 73.0h0M363.6 425.5h0M402.1 417.9h0M155.7 241.6h0M506.0 337.4h0M155.7 249.3h0M444.4 398.7h0M155.7 256.9h0M482.9 368.1h0M159.5 283.7h0M325.1 425.5h0M413.6 414.0h0M379.0 73.0h0M178.8 333.6h0M475.2 375.7h0M275.0 414.0h0M479.1 371.9h0"/><path stroke="#00c62e" d="M232.7 103.6h0M371.2 425.5h0M517.6 180.3h0M409.8 80.7h0M467.5 383.4h0M490.6 360.4h0M263.5 410.2h0M459.8 107.5h0M186.5 149.6h0M471.4 379.5h0M155.7 233.9h0M317.4 425.5h0M344.3 69.2h0M174.9 168.8h0M190.3 352.7h0M155.7 264.6h0M390.5 421.7h0M525.2 295.2h0M498.3 145.8h0M248.1 402.5h0M298.1 421.7h0M251.9 92.1h0M486.8 364.2h0M267.3 84.5h0M521.4 306.7h0M163.4 195.6h0M225.0 387.2h0M290.4 76.8h0"/><path stroke="#00c628" d="M440.6 402.5h0M425.2 410.2h0M509.9 333.6h0M167.2 184.1h0M352.0 69.2h0M155.7 226.3h0M529.1 283.7h0M494.5 356.6h0M517.6 318.2h0M436.7 92.1h0M186.5 348.9h0M163.4 302.9h0M529.1 214.8h0M398.2 76.8h0M159.5 207.1h0M463.7 387.2h0M336.6 69.2h0M174.9 329.7h0M228.8 391.0h0"/><path stroke="#00c623" d="M182.6 153.5h0M251.9 406.4h0M278.9 417.9h0M379.0 425.5h0M302.0 73.0h0M386.7 73.0h0M533.0 241.6h0M290.4 421.7h0M533.0 249.3h0M421.3 84.5h0M502.2 149.6h0M533.0 256.9h0M328.9 69.2h0M155.7 272.3h0M359.7 69.2h0M167.2 314.4h0M159.5 291.4h0M456.0 103.6h0M232.7 394.9h0M513.7 168.8h0M236.5 99.8h0M498.3 352.7h0M459.8 391.0h0M309.7 425.5h0"/><path stroke="#00c61e" d="M525.2 195.6h0M344.3 429.4h0M521.4 184.1h0M398.2 421.7h0M182.6 345.1h0M367.4 69.2h0M513.7 329.7h0M267.3 414.0h0M533.0 233.9h0M336.6 429.4h0M171.1 172.6h0M255.8 88.3h0M533.0 264.6h0M525.2 302.9h0M502.2 348.9h0M409.8 417.9h0M155.7 218.6h0M436.7 406.4h0M321.2 69.2h0M352.0 429.4h0"/><path stroke="#00c618" d="M328.9 429.4h0M155.7 279.9h0M236.5 398.7h0M529.1 291.4h0M456.0 394.9h0M240.4 96.0h0M178.8 157.3h0M282.7 76.8h0M533.0 226.3h0M171.1 325.9h0M521.4 314.4h0M529.1 207.1h0M506.0 153.5h0M452.1 99.8h0M421.3 414.0h0M302.0 425.5h0"/><path stroke="#00c614" d="M271.2 80.7h0M201.9 126.6h0M159.5 199.4h0M205.7 122.8h0M359.7 429.4h0M209.6 119.0h0M386.7 425.5h0M533.0 272.3h0M163.4 187.9h0M432.9 88.3h0"/><path stroke="#00c60e" d="M517.6 172.6h0M313.5 69.2h0M294.2 73.0h0M151.8 253.1h0M213.4 115.1h0M255.8 410.2h0M417.5 80.7h0M506.0 345.1h0M163.4 310.6h0M375.1 69.2h0M321.2 429.4h0M151.8 245.4h0M159.5 299.1h0M452.1 398.7h0M178.8 341.2h0M367.4 429.4h0M198.0 130.5h0M405.9 76.8h0"/><path stroke="#00c609" d="M201.9 371.9h0M205.7 375.7h0M509.9 157.3h0M155.7 287.6h0M394.4 73.0h0M282.7 421.7h0M167.2 176.5h0M151.8 260.8h0M432.9 410.2h0M240.4 402.5h0M517.6 325.9h0M194.2 134.3h0M174.9 161.1h0M448.2 96.0h0M217.2 111.3h0M151.8 237.8h0M155.7 210.9h0M533.0 218.6h0M209.6 379.5h0"/><path stroke="#00c604" d="M479.1 119.0h0M244.2 92.1h0M190.3 138.1h0M194.2 364.2h0M213.4 383.4h0M405.9 421.7h0M271.2 417.9h0M259.6 84.5h0M533.0 279.9h0M167.2 322.1h0M482.9 122.8h0M294.2 425.5h0M313.5 429.4h0M198.0 368.1h0M486.8 126.6h0"/><path stroke="#00c600" d="M375.1 429.4h0M305.8 69.2h0M217.2 387.2h0M509.9 341.2h0M448.2 402.5h0M490.6 130.5h0M151.8 268.4h0M525.2 187.9h0M529.1 299.1h0M151.8 230.1h0M525.2 310.6h0M429.0 84.5h0M475.2 115.1h0M394.4 425.5h0M529.1 199.4h0M417.5 417.9h0M174.9 337.4h0M221.1 107.5h0"/><path stroke="#06c600" d="M259.6 414.0h0M340.5 65.3h0M221.1 391.0h0M190.3 360.4h0M494.5 134.3h0M382.8 69.2h0M490.6 368.1h0M186.5 142.0h0M471.4 111.3h0M244.2 406.4h0M479.1 379.5h0M482.9 375.7h0M348.2 65.3h0M444.4 92.1h0M486.8 371.9h0M475.2 383.4h0M536.8 245.4h0M536.8 253.1h0"/><path stroke="#0ac600" d="M159.5 191.8h0M521.4 176.5h0M225.0 103.6h0M533.0 287.6h0M513.7 161.1h0M429.0 414.0h0M159.5 306.7h0M151.8 276.1h0M171.1 165.0h0M275.0 76.8h0M494.5 364.2h0M186.5 356.6h0M521.4 322.1h0M355.9 65.3h0M467.5 107.5h0M151.8 222.4h0M536.8 260.8h0M498.3 138.1h0M533.0 210.9h0M332.8 65.3h0M305.8 429.4h0M536.8 237.8h0M286.6 73.0h0M471.4 387.2h0"/><path stroke="#10c600" d="M444.4 406.4h0M325.1 65.3h0M155.7 295.2h0M340.5 433.2h0M513.7 337.4h0M171.1 333.6h0M182.6 145.8h0M498.3 360.4h0M155.7 203.3h0M382.8 429.4h0M163.4 180.3h0M248.1 88.3h0M348.2 433.2h0M225.0 394.9h0"/><path stroke="#15c600" d="M463.7 103.6h0M286.6 425.5h0M355.9 433.2h0M228.8 99.8h0M467.5 391.0h0M413.6 76.8h0M182.6 352.7h0M502.2 142.0h0M163.4 318.2h0M536.8 268.4h0M263.5 80.7h0M363.6 65.3h0M536.8 230.1h0M402.1 73.0h0M332.8 433.2h0M275.0 421.7h0"/><path stroke="#1ac600" d="M390.5 69.2h0M402.1 425.5h0M298.1 69.2h0M440.6 88.3h0M263.5 417.9h0M151.8 283.7h0M363.6 433.2h0M151.8 214.8h0M178.8 149.6h0M502.2 356.6h0M248.1 410.2h0M325.1 433.2h0M463.7 394.9h0M413.6 421.7h0M529.1 191.8h0M228.8 398.7h0"/><path stroke="#1fc600" d="M517.6 165.0h0M440.6 410.2h0M529.1 306.7h0M148.0 249.3h0M459.8 99.8h0M167.2 168.8h0M533.0 295.2h0M317.4 65.3h0M506.0 145.8h0M371.2 65.3h0M517.6 333.6h0M536.8 276.1h0M425.2 80.7h0M533.0 203.3h0M298.1 429.4h0M178.8 348.9h0M536.8 222.4h0"/><path stroke="#25c600" d="M506.0 352.7h0M148.0 241.6h0M425.2 417.9h0M148.0 256.9h0M525.2 180.3h0M317.4 433.2h0M390.5 429.4h0M371.2 433.2h0M167.2 329.7h0M525.2 318.2h0M232.7 402.5h0M459.8 398.7h0M232.7 96.0h0"/><path stroke="#2ac600" d="M159.5 184.1h0M148.0 233.9h0M251.9 414.0h0M148.0 264.6h0M155.7 302.9h0M159.5 314.4h0M278.9 73.0h0M155.7 195.6h0M251.9 84.5h0M174.9 153.5h0"/><path stroke="#2fc600" d="M174.9 345.1h0M509.9 149.6h0M509.9 348.9h0M309.7 65.3h0M436.7 84.5h0M151.8 291.4h0M151.8 207.1h0M456.0 402.5h0M309.7 433.2h0M536.8 283.7h0M456.0 96.0h0M379.0 65.3h0M278.9 425.5h0M267.3 76.8h0M536.8 214.8h0M290.4 69.2h0"/><path stroke="#34c600" d="M201.9 119.0h0M148.0 226.3h0M205.7 115.1h0M521.4 168.8h0M409.8 73.0h0M163.4 172.6h0M236.5 406.4h0M267.3 421.7h0M194.2 126.6h0M290.4 429.4h0M521.4 329.7h0M398.2 69.2h0M201.9 379.5h0M540.7 241.6h0M409.8 425.5h0M540.7 249.3h0M540.7 256.9h0M236.5 92.1h0M198.0 375.7h0M198.0 122.8h0M436.7 414.0h0M148.0 272.3h0M379.0 433.2h0"/><path stroke="#39c600" d="M540.7 233.9h0M205.7 383.4h0M163.4 325.9h0M513.7 153.5h0M190.3 130.5h0M398.2 429.4h0M533.0 302.9h0M209.6 111.3h0M194.2 371.9h0M171.1 157.3h0M421.3 76.8h0M344.3 61.5h0M533.0 195.6h0M540.7 264.6h0M336.6 61.5h0M209.6 387.2h0M421.3 421.7h0"/><path stroke="#3fc600" d="M255.8 417.9h0M529.1 314.4h0M344.3 437.0h0M190.3 368.1h0M186.5 134.3h0M452.1 406.4h0M513.7 345.1h0M302.0 65.3h0M213.4 391.0h0M336.6 437.0h0M148.0 218.6h0M255.8 80.7h0M171.1 341.2h0M352.0 61.5h0M213.4 107.5h0M529.1 184.1h0M452.1 92.1h0M148.0 279.9h0M352.0 437.0h0"/><path stroke="#43c600" d="M482.9 115.1h0M540.7 226.3h0M536.8 207.1h0M328.9 437.0h0M359.7 437.0h0M490.6 375.7h0M490.6 122.8h0M155.7 310.6h0M386.7 65.3h0M240.4 410.2h0M151.8 199.4h0M494.5 371.9h0M494.5 126.6h0M186.5 364.2h0M328.9 61.5h0M217.2 103.6h0M302.0 433.2h0M386.7 433.2h0M240.4 88.3h0M155.7 187.9h0M482.9 383.4h0M536.8 291.4h0M540.7 272.3h0M486.8 119.0h0M486.8 379.5h0M479.1 111.3h0M359.7 61.5h0"/><path stroke="#49c600" d="M151.8 299.1h0M217.2 394.9h0M182.6 360.4h0M321.2 61.5h0M525.2 172.6h0M182.6 138.1h0M432.9 417.9h0M498.3 368.1h0M321.2 437.0h0M498.3 130.5h0M479.1 387.2h0M525.2 325.9h0M475.2 107.5h0M475.2 391.0h0M432.9 80.7h0M517.6 157.3h0"/><path stroke="#4ec600" d="M144.1 253.1h0M517.6 341.2h0M167.2 161.1h0M367.4 61.5h0M282.7 429.4h0M448.2 410.2h0M159.5 322.1h0M144.1 245.4h0M148.0 210.9h0M448.2 88.3h0M271.2 425.5h0M282.7 69.2h0M167.2 337.4h0M502.2 364.2h0M221.1 398.7h0M502.2 134.3h0M367.4 437.0h0M148.0 287.6h0M221.1 99.8h0M271.2 73.0h0M159.5 176.5h0"/><path stroke="#53c600" d="M417.5 425.5h0M471.4 394.9h0M540.7 218.6h0M144.1 260.8h0M313.5 61.5h0M244.2 84.5h0M294.2 65.3h0M471.4 103.6h0M294.2 433.2h0M533.0 310.6h0M144.1 237.8h0M417.5 73.0h0M259.6 76.8h0M405.9 429.4h0M244.2 414.0h0M178.8 142.0h0M533.0 187.9h0M178.8 356.6h0M540.7 279.9h0M405.9 69.2h0"/><path stroke="#58c600" d="M259.6 421.7h0M144.1 268.4h0M506.0 360.4h0M225.0 96.0h0M536.8 199.4h0M375.1 437.0h0M394.4 65.3h0M467.5 398.7h0M506.0 138.1h0M144.1 230.1h0M375.1 61.5h0M467.5 99.8h0M313.5 437.0h0M536.8 299.1h0M394.4 433.2h0M225.0 402.5h0"/><path stroke="#5ec600" d="M174.9 352.7h0M151.8 306.7h0M544.5 245.4h0M444.4 414.0h0M529.1 322.1h0M163.4 165.0h0M544.5 253.1h0M163.4 333.6h0M429.0 421.7h0M521.4 161.1h0M521.4 337.4h0M444.4 84.5h0M429.0 76.8h0M529.1 176.5h0M174.9 145.8h0M151.8 191.8h0"/><path stroke="#63c600" d="M540.7 210.9h0M228.8 406.4h0M509.9 142.0h0M144.1 276.1h0M544.5 237.8h0M305.8 61.5h0M228.8 92.1h0M544.5 260.8h0M144.1 222.4h0M509.9 356.6h0M155.7 318.2h0M148.0 203.3h0M540.7 287.6h0M155.7 180.3h0M463.7 402.5h0M305.8 437.0h0M148.0 295.2h0M463.7 96.0h0"/><path stroke="#68c600" d="M340.5 57.7h0M275.0 429.4h0M544.5 230.1h0M382.8 61.5h0M340.5 440.9h0M171.1 149.6h0M275.0 69.2h0M171.1 348.9h0M348.2 57.7h0M248.1 417.9h0M382.8 437.0h0M544.5 268.4h0M248.1 80.7h0M286.6 65.3h0M348.2 440.9h0"/><path stroke="#6dc600" d="M459.8 406.4h0M332.8 440.9h0M402.1 433.2h0M440.6 417.9h0M286.6 433.2h0M513.7 145.8h0M440.6 80.7h0M459.8 92.1h0M413.6 69.2h0M263.5 425.5h0M525.2 165.0h0M513.7 352.7h0M355.9 57.7h0M263.5 73.0h0M332.8 57.7h0M525.2 333.6h0M355.9 440.9h0M413.6 429.4h0M402.1 65.3h0"/><path stroke="#72c600" d="M533.0 180.3h0M201.9 111.3h0M544.5 222.4h0M363.6 440.9h0M325.1 57.7h0M536.8 191.8h0M144.1 283.7h0M425.2 425.5h0M144.1 214.8h0M533.0 318.2h0M325.1 440.9h0M159.5 329.7h0M194.2 119.0h0M194.2 379.5h0M540.7 295.2h0M425.2 73.0h0M201.9 387.2h0M363.6 57.7h0M536.8 306.7h0M232.7 410.2h0M198.0 115.1h0M544.5 276.1h0M198.0 383.4h0M232.7 88.3h0M159.5 168.8h0M540.7 203.3h0"/><path stroke="#78c600" d="M205.7 107.5h0M298.1 61.5h0M517.6 348.9h0M186.5 371.9h0M205.7 391.0h0M186.5 126.6h0M190.3 375.7h0M190.3 122.8h0M390.5 61.5h0M140.3 241.6h0M140.3 249.3h0M140.3 256.9h0M167.2 153.5h0M390.5 437.0h0M167.2 345.1h0M298.1 437.0h0M517.6 149.6h0"/><path stroke="#7cc600" d="M148.0 302.9h0M151.8 314.4h0M251.9 421.7h0M317.4 57.7h0M209.6 103.6h0M182.6 368.1h0M148.0 195.6h0M371.2 57.7h0M182.6 130.5h0M140.3 233.9h0M317.4 440.9h0M456.0 410.2h0M140.3 264.6h0M456.0 88.3h0M251.9 76.8h0M371.2 440.9h0M236.5 84.5h0M151.8 184.1h0M209.6 394.9h0"/><path stroke="#82c600" d="M482.9 107.5h0M544.5 214.8h0M144.1 291.4h0M529.1 329.7h0M144.1 207.1h0M490.6 115.1h0M236.5 414.0h0M490.6 383.4h0M436.7 76.8h0M494.5 119.0h0M213.4 398.7h0M494.5 379.5h0M498.3 375.7h0M498.3 122.8h0M278.9 65.3h0M482.9 391.0h0M213.4 99.8h0M529.1 168.8h0M486.8 111.3h0M278.9 433.2h0M544.5 283.7h0M486.8 387.2h0M436.7 421.7h0M155.7 325.9h0M155.7 172.6h0"/><path stroke="#87c600" d="M409.8 65.3h0M163.4 157.3h0M163.4 341.2h0M309.7 57.7h0M409.8 433.2h0M452.1 414.0h0M267.3 429.4h0M521.4 153.5h0M290.4 437.0h0M178.8 134.3h0M521.4 345.1h0M309.7 440.9h0M140.3 272.3h0M479.1 394.9h0M502.2 371.9h0M267.3 69.2h0M502.2 126.6h0M290.4 61.5h0M140.3 226.3h0M452.1 84.5h0M178.8 364.2h0M479.1 103.6h0M548.4 249.3h0"/><path stroke="#8cc600" d="M421.3 429.4h0M536.8 184.1h0M475.2 99.8h0M506.0 368.1h0M506.0 130.5h0M398.2 437.0h0M217.2 402.5h0M536.8 314.4h0M421.3 69.2h0M217.2 96.0h0M540.7 302.9h0M398.2 61.5h0M174.9 360.4h0M379.0 57.7h0M174.9 138.1h0M475.2 398.7h0M548.4 241.6h0M540.7 195.6h0M379.0 440.9h0M548.4 256.9h0"/><path stroke="#91c600" d="M548.4 264.6h0M255.8 425.5h0M509.9 134.3h0M548.4 233.9h0M221.1 92.1h0M509.9 364.2h0M544.5 207.1h0M255.8 73.0h0M240.4 417.9h0M240.4 80.7h0M140.3 279.9h0M140.3 218.6h0M544.5 291.4h0"/><path stroke="#97c600" d="M148.0 310.6h0M548.4 272.3h0M471.4 402.5h0M344.3 444.7h0M144.1 199.4h0M336.6 53.8h0M471.4 96.0h0M525.2 157.3h0M548.4 226.3h0M302.0 57.7h0M171.1 142.0h0M148.0 187.9h0M448.2 417.9h0M533.0 325.9h0M525.2 341.2h0M159.5 337.4h0M344.3 53.8h0M432.9 425.5h0M336.6 444.7h0M171.1 356.6h0M302.0 440.9h0M352.0 53.8h0M221.1 406.4h0M144.1 299.1h0M448.2 80.7h0M432.9 73.0h0M159.5 161.1h0M533.0 172.6h0M352.0 444.7h0"/><path stroke="#9cc600" d="M513.7 138.1h0M151.8 322.1h0M328.9 444.7h0M359.7 444.7h0M386.7 57.7h0M513.7 360.4h0M386.7 440.9h0M151.8 176.5h0M328.9 53.8h0M359.7 53.8h0"/><path stroke="#a1c600" d="M244.2 76.8h0M225.0 88.3h0M271.2 433.2h0M321.2 53.8h0M467.5 406.4h0M140.3 287.6h0M282.7 437.0h0M467.5 92.1h0M244.2 421.7h0M282.7 61.5h0M136.4 245.4h0M136.4 253.1h0M140.3 210.9h0M271.2 65.3h0M225.0 410.2h0"/><path stroke="#a6c600" d="M548.4 279.9h0M259.6 429.4h0M517.6 356.6h0M529.1 337.4h0M548.4 218.6h0M167.2 352.7h0M136.4 260.8h0M417.5 65.3h0M259.6 69.2h0M167.2 145.8h0M405.9 437.0h0M540.7 310.6h0M321.2 444.7h0M367.4 53.8h0M417.5 433.2h0M136.4 237.8h0M529.1 161.1h0M405.9 61.5h0M540.7 187.9h0M367.4 444.7h0M517.6 142.0h0"/><path stroke="#abc600" d="M294.2 57.7h0M536.8 176.5h0M444.4 421.7h0M294.2 440.9h0M544.5 199.4h0M536.8 322.1h0M444.4 76.8h0M463.7 410.2h0M155.7 165.0h0M544.5 299.1h0M463.7 88.3h0M155.7 333.6h0"/><path stroke="#b1c600" d="M313.5 53.8h0M228.8 84.5h0M394.4 57.7h0M429.0 429.4h0M136.4 268.4h0M394.4 440.9h0M144.1 191.8h0M228.8 414.0h0M136.4 230.1h0M429.0 69.2h0M313.5 444.7h0M144.1 306.7h0"/><path stroke="#b5c600" d="M194.2 387.2h0M148.0 318.2h0M163.4 149.6h0M186.5 379.5h0M190.3 115.1h0M375.1 444.7h0M548.4 210.9h0M190.3 383.4h0M163.4 348.9h0M148.0 180.3h0M194.2 111.3h0M552.2 245.4h0M521.4 145.8h0M552.2 253.1h0M186.5 119.0h0M521.4 352.7h0M548.4 287.6h0M198.0 107.5h0M375.1 53.8h0M198.0 391.0h0"/><path stroke="#bbc600" d="M459.8 84.5h0M248.1 73.0h0M140.3 295.2h0M182.6 375.7h0M182.6 122.8h0M552.2 237.8h0M248.1 425.5h0M136.4 276.1h0M552.2 260.8h0M459.8 414.0h0M136.4 222.4h0M201.9 394.9h0M140.3 203.3h0M201.9 103.6h0"/><path stroke="#c0c600" d="M275.0 437.0h0M205.7 398.7h0M232.7 80.7h0M275.0 61.5h0M205.7 99.8h0M494.5 111.3h0M305.8 53.8h0M305.8 444.7h0M232.7 417.9h0M178.8 371.9h0M533.0 165.0h0M178.8 126.6h0M533.0 333.6h0"/><path stroke="#c5c600" d="M209.6 402.5h0M552.2 268.4h0M382.8 53.8h0M494.5 387.2h0M286.6 440.9h0M413.6 61.5h0M151.8 329.7h0M209.6 96.0h0M525.2 149.6h0M544.5 191.8h0M490.6 391.0h0M552.2 230.1h0M525.2 348.9h0M382.8 444.7h0M159.5 345.1h0M486.8 394.9h0M498.3 115.1h0M440.6 73.0h0M498.3 383.4h0M490.6 107.5h0M263.5 65.3h0M440.6 425.5h0M151.8 168.8h0M502.2 119.0h0M486.8 103.6h0M502.2 379.5h0M413.6 437.0h0M286.6 57.7h0M159.5 153.5h0M263.5 433.2h0M544.5 306.7h0"/><path stroke="#c6c300" d="M332.8 448.5h0M456.0 80.7h0M402.1 440.9h0M506.0 375.7h0M506.0 122.8h0M540.7 180.3h0M340.5 448.5h0M136.4 283.7h0M456.0 417.9h0M425.2 65.3h0M136.4 214.8h0M348.2 50.0h0M540.7 318.2h0M174.9 368.1h0M332.8 50.0h0M482.9 398.7h0M174.9 130.5h0M402.1 57.7h0M348.2 448.5h0M340.5 50.0h0M482.9 99.8h0"/><path stroke="#c6bd00" d="M509.9 126.6h0M213.4 406.4h0M552.2 276.1h0M548.4 203.3h0M552.2 222.4h0M509.9 371.9h0M355.9 50.0h0M213.4 92.1h0M548.4 295.2h0M355.9 448.5h0M425.2 433.2h0"/><path stroke="#c6b800" d="M536.8 168.8h0M325.1 50.0h0M363.6 448.5h0M251.9 429.4h0M132.6 249.3h0M171.1 134.3h0M236.5 421.7h0M140.3 302.9h0M325.1 448.5h0M298.1 53.8h0M144.1 184.1h0M171.1 364.2h0M251.9 69.2h0M479.1 402.5h0M363.6 50.0h0M140.3 195.6h0M236.5 76.8h0M298.1 444.7h0M144.1 314.4h0M479.1 96.0h0"/><path stroke="#c6b300" d="M513.7 368.1h0M155.7 341.2h0M513.7 130.5h0M529.1 153.5h0M132.6 241.6h0M529.1 345.1h0M132.6 256.9h0M390.5 53.8h0M536.8 329.7h0M390.5 444.7h0M155.7 157.3h0"/><path stroke="#c6ad00" d="M475.2 92.1h0M132.6 233.9h0M317.4 50.0h0M148.0 172.6h0M436.7 69.2h0M217.2 410.2h0M132.6 264.6h0M167.2 360.4h0M452.1 421.7h0M217.2 88.3h0M475.2 406.4h0M167.2 138.1h0M317.4 448.5h0M148.0 325.9h0M452.1 76.8h0M436.7 429.4h0"/><path stroke="#c6a800" d="M267.3 61.5h0M552.2 283.7h0M517.6 364.2h0M552.2 214.8h0M517.6 134.3h0M371.2 50.0h0M267.3 437.0h0M136.4 291.4h0M278.9 57.7h0M136.4 207.1h0M371.2 448.5h0M278.9 440.9h0"/><path stroke="#c6a300" d="M471.4 410.2h0M544.5 184.1h0M221.1 84.5h0M132.6 272.3h0M132.6 226.3h0M544.5 314.4h0M471.4 88.3h0M221.1 414.0h0"/><path stroke="#c69e00" d="M533.0 341.2h0M421.3 437.0h0M163.4 142.0h0M255.8 433.2h0M409.8 57.7h0M240.4 425.5h0M548.4 195.6h0M556.1 241.6h0M556.1 249.3h0M290.4 53.8h0M556.1 256.9h0M309.7 50.0h0M163.4 356.6h0M409.8 440.9h0M290.4 444.7h0M309.7 448.5h0M548.4 302.9h0M421.3 61.5h0M255.8 65.3h0M533.0 157.3h0M240.4 73.0h0"/><path stroke="#c69800" d="M379.0 448.5h0M398.2 53.8h0M552.2 291.4h0M151.8 337.4h0M540.7 172.6h0M556.1 264.6h0M398.2 444.7h0M556.1 272.3h0M521.4 138.1h0M556.1 226.3h0M556.1 233.9h0M379.0 50.0h0M540.7 325.9h0M521.4 360.4h0M552.2 207.1h0M151.8 161.1h0"/><path stroke="#c69300" d="M552.2 299.1h0M556.1 279.9h0M448.2 425.5h0M467.5 84.5h0M432.9 433.2h0M556.1 218.6h0M552.2 199.4h0M448.2 73.0h0M432.9 65.3h0M467.5 414.0h0"/><path stroke="#c68d00" d="M225.0 417.9h0M225.0 80.7h0M548.4 187.9h0M556.1 287.6h0M556.1 210.9h0M559.9 245.4h0M559.9 253.1h0M548.4 310.6h0"/><path stroke="#c68900" d="M244.2 69.2h0M194.2 394.9h0M336.6 46.2h0M186.5 387.2h0M552.2 306.7h0M190.3 391.0h0M302.0 50.0h0M194.2 103.6h0M559.9 268.4h0M525.2 356.6h0M186.5 111.3h0M336.6 452.4h0M190.3 107.5h0M552.2 191.8h0M244.2 429.4h0M525.2 142.0h0M559.9 230.1h0M302.0 448.5h0M352.0 46.2h0M559.9 237.8h0M559.9 260.8h0M344.3 452.4h0M344.3 46.2h0"/><path stroke="#c68300" d="M536.8 161.1h0M556.1 295.2h0M352.0 452.4h0M198.0 99.8h0M271.2 440.9h0M386.7 50.0h0M463.7 80.7h0M559.9 276.1h0M556.1 203.3h0M536.8 337.4h0M559.9 222.4h0M386.7 448.5h0M463.7 417.9h0M328.9 452.4h0M328.9 46.2h0M271.2 57.7h0M198.0 398.7h0"/><path stroke="#c67e00" d="M282.7 53.8h0M228.8 76.8h0M259.6 437.0h0M444.4 429.4h0M544.5 176.5h0M359.7 452.4h0M282.7 444.7h0M559.9 283.7h0M259.6 61.5h0M444.4 69.2h0M544.5 322.1h0M228.8 421.7h0M201.9 402.5h0M359.7 46.2h0M201.9 96.0h0M559.9 214.8h0"/><path stroke="#c67800" d="M556.1 302.9h0M529.1 145.8h0M494.5 394.9h0M506.0 115.1h0M506.0 383.4h0M321.2 46.2h0M405.9 53.8h0M529.1 352.7h0M417.5 57.7h0M502.2 387.2h0M556.1 195.6h0M494.5 103.6h0M563.8 241.6h0M559.9 291.4h0M548.4 180.3h0M563.8 249.3h0M563.8 256.9h0M563.8 264.6h0M552.2 184.1h0M405.9 444.7h0M498.3 391.0h0M321.2 452.4h0M417.5 440.9h0M502.2 111.3h0M548.4 318.2h0M563.8 233.9h0M552.2 314.4h0M498.3 107.5h0M559.9 207.1h0"/><path stroke="#c67400" d="M509.9 379.5h0M294.2 50.0h0M429.0 61.5h0M459.8 76.8h0M429.0 437.0h0M294.2 448.5h0M490.6 398.7h0M509.9 119.0h0M367.4 452.4h0M367.4 46.2h0M563.8 272.3h0M490.6 99.8h0M563.8 226.3h0"/><path stroke="#c66e00" d="M513.7 122.8h0M394.4 50.0h0M248.1 65.3h0M313.5 46.2h0M248.1 433.2h0M394.4 448.5h0M486.8 402.5h0M459.8 421.7h0M486.8 96.0h0"/><path stroke="#c66900" d="M513.7 375.7h0M540.7 165.0h0M375.1 452.4h0M540.7 333.6h0M313.5 452.4h0M482.9 406.4h0M375.1 46.2h0M482.9 92.1h0"/><path stroke="#c66300" d="M533.0 348.9h0M517.6 371.9h0M544.5 168.8h0M517.6 126.6h0M548.4 172.6h0M440.6 65.3h0M544.5 329.7h0M440.6 433.2h0M548.4 325.9h0M533.0 149.6h0"/><path stroke="#c65f00" d="M456.0 73.0h0M275.0 444.7h0M275.0 53.8h0M456.0 425.5h0M263.5 57.7h0M479.1 410.2h0M479.1 88.3h0M263.5 440.9h0"/><path stroke="#c65900" d="M286.6 448.5h0M521.4 368.1h0M521.4 130.5h0M382.8 452.4h0M305.8 46.2h0M382.8 46.2h0M413.6 53.8h0M286.6 50.0h0M305.8 452.4h0M413.6 444.7h0"/><path stroke="#c65400" d="M475.2 84.5h0M402.1 448.5h0M536.8 153.5h0M536.8 345.1h0M475.2 414.0h0M425.2 57.7h0M402.1 50.0h0M425.2 440.9h0"/><path stroke="#c64e00" d="M348.2 456.2h0M332.8 456.2h0M340.5 456.2h0M355.9 42.3h0M525.2 364.2h0M348.2 42.3h0M525.2 134.3h0M332.8 42.3h0M355.9 456.2h0M340.5 42.3h0"/><path stroke="#c64a00" d="M540.7 157.3h0M436.7 61.5h0M540.7 341.2h0M452.1 429.4h0M325.1 456.2h0M325.1 42.3h0M298.1 46.2h0M452.1 69.2h0M298.1 452.4h0M436.7 437.0h0"/><path stroke="#c64400" d="M363.6 456.2h0M363.6 42.3h0M471.4 417.9h0M390.5 46.2h0M471.4 80.7h0M390.5 452.4h0"/><path stroke="#c63f00" d="M529.1 138.1h0M317.4 42.3h0M317.4 456.2h0M529.1 360.4h0"/><path stroke="#c63900" d="M371.2 42.3h0M467.5 76.8h0M371.2 456.2h0M467.5 421.7h0"/><path stroke="#c63500" d="M448.2 433.2h0M409.8 50.0h0M421.3 444.7h0M409.8 448.5h0M421.3 53.8h0M448.2 65.3h0"/><path stroke="#c62f00" d="M533.0 356.6h0M432.9 440.9h0M506.0 107.5h0M506.0 391.0h0M502.2 394.9h0M502.2 103.6h0M432.9 57.7h0M533.0 142.0h0M398.2 46.2h0"/></g><g stroke-width="7.0" stroke-linecap="round" fill="none"><path stroke="#ffc400" d="M140.3 310.6h0M136.4 299.1h0M132.6 218.6h0M140.3 187.9h0M136.4 199.4h0M132.6 279.9h0"/><path stroke="#ffbd00" d="M132.6 287.6h0M128.7 260.8h0M128.7 237.8h0M128.7 245.4h0M128.7 253.1h0M132.6 210.9h0"/><path stroke="#ffb600" d="M132.6 295.2h0M159.5 352.7h0M128.7 268.4h0M136.4 306.7h0M159.5 145.8h0M128.7 230.1h0M132.6 203.3h0M144.1 176.5h0M144.1 322.1h0M136.4 191.8h0"/><path stroke="#ffb000" d="M128.7 276.1h0M182.6 115.1h0M128.7 222.4h0M182.6 383.4h0"/><path stroke="#ffa900" d="M140.3 180.3h0M140.3 318.2h0M178.8 379.5h0M178.8 119.0h0"/><path stroke="#ffa200" d="M148.0 165.0h0M148.0 333.6h0M174.9 375.7h0M174.9 122.8h0"/><path stroke="#ff9b00" d="M155.7 348.9h0M155.7 149.6h0"/><path stroke="#ff9500" d="M205.7 92.1h0M171.1 371.9h0M171.1 126.6h0M205.7 406.4h0"/><path stroke="#ff8e00" d="M209.6 410.2h0M556.1 310.6h0M209.6 88.3h0M144.1 168.8h0M559.9 299.1h0M563.8 279.9h0M563.8 218.6h0M556.1 187.9h0M144.1 329.7h0M559.9 199.4h0"/><path stroke="#ff8700" d="M232.7 73.0h0M567.6 237.8h0M567.6 245.4h0M567.6 253.1h0M167.2 368.1h0M167.2 130.5h0M563.8 287.6h0M563.8 210.9h0M232.7 425.5h0M567.6 260.8h0"/><path stroke="#ff8000" d="M567.6 268.4h0M151.8 345.1h0M567.6 230.1h0M563.8 295.2h0M559.9 306.7h0M552.2 176.5h0M151.8 153.5h0M563.8 203.3h0M559.9 191.8h0M552.2 322.1h0"/><path stroke="#ff7a00" d="M163.4 134.3h0M567.6 276.1h0M556.1 318.2h0M213.4 414.0h0M567.6 222.4h0M163.4 364.2h0M213.4 84.5h0M556.1 180.3h0"/><path stroke="#ff6c00" d="M159.5 138.1h0M251.9 437.0h0M236.5 429.4h0M217.2 417.9h0M251.9 61.5h0M236.5 69.2h0M217.2 80.7h0"/><path stroke="#ff6500" d="M159.5 360.4h0M548.4 165.0h0M552.2 168.8h0M148.0 157.3h0M148.0 341.2h0M548.4 333.6h0M552.2 329.7h0"/><path stroke="#ff5f00" d="M544.5 161.1h0M544.5 337.4h0"/><path stroke="#ff5800" d="M221.1 76.8h0M221.1 421.7h0"/><path stroke="#ff5100" d="M267.3 53.8h0M240.4 433.2h0M186.5 394.9h0M190.3 398.7h0M182.6 107.5h0M182.6 391.0h0M267.3 444.7h0M186.5 103.6h0M190.3 99.8h0M240.4 65.3h0"/><path stroke="#ff4a00" d="M194.2 402.5h0M194.2 96.0h0M278.9 50.0h0M278.9 448.5h0"/><path stroke="#ff4400" d="M255.8 440.9h0M198.0 92.1h0M540.7 149.6h0M290.4 46.2h0M540.7 348.9h0M225.0 73.0h0M198.0 406.4h0M544.5 153.5h0M290.4 452.4h0M225.0 425.5h0M544.5 345.1h0M255.8 57.7h0"/><path stroke="#ff3d00" d="M379.0 456.2h0M509.9 387.2h0M309.7 42.3h0M509.9 111.3h0M379.0 42.3h0M498.3 398.7h0M309.7 456.2h0M498.3 99.8h0M398.2 452.4h0"/><path stroke="#ff3600" d="M513.7 383.4h0M494.5 402.5h0M463.7 73.0h0M536.8 145.8h0M494.5 96.0h0M513.7 115.1h0M536.8 352.7h0M463.7 425.5h0M244.2 61.5h0"/><path stroke="#ff2f00" d="M517.6 119.0h0M517.6 379.5h0M490.6 92.1h0M244.2 437.0h0M490.6 406.4h0"/><path stroke="#ff2900" d="M336.6 38.5h0M486.8 88.3h0M271.2 448.5h0M444.4 437.0h0M302.0 42.3h0M444.4 61.5h0M486.8 410.2h0M302.0 456.2h0M344.3 38.5h0M344.3 460.0h0M271.2 50.0h0"/><path stroke="#ff2200" d="M282.7 46.2h0M429.0 53.8h0M459.8 69.2h0M259.6 444.7h0M336.6 460.0h0M536.8 360.4h0M321.2 38.5h0M405.9 452.4h0M405.9 46.2h0M386.7 42.3h0M521.4 375.7h0M536.8 138.1h0M417.5 50.0h0M521.4 122.8h0M359.7 460.0h0M429.0 444.7h0M525.2 371.9h0M525.2 126.6h0M352.0 38.5h0M352.0 460.0h0M321.2 460.0h0M417.5 448.5h0M386.7 456.2h0M459.8 429.4h0M482.9 414.0h0M259.6 53.8h0M328.9 38.5h0M328.9 460.0h0M359.7 38.5h0M482.9 84.5h0M282.7 452.4h0"/><path stroke="#ff1b00" d="M456.0 65.3h0M529.1 130.5h0M475.2 76.8h0M394.4 42.3h0M533.0 364.2h0M471.4 425.5h0M456.0 433.2h0M313.5 38.5h0M294.2 456.2h0M313.5 460.0h0M452.1 437.0h0M440.6 57.7h0M394.4 456.2h0M413.6 46.2h0M425.2 50.0h0M367.4 38.5h0M367.4 460.0h0M475.2 421.7h0M471.4 73.0h0M402.1 42.3h0M479.1 417.9h0M440.6 440.9h0M452.1 61.5h0M375.1 38.5h0M533.0 134.3h0M375.1 460.0h0M479.1 80.7h0M425.2 448.5h0M413.6 452.4h0M529.1 368.1h0M294.2 42.3h0"/><path stroke="#ff1400" d="M436.7 444.7h0M509.9 394.9h0M509.9 103.6h0M506.0 99.8h0M436.7 53.8h0M506.0 398.7h0"/></g><g stroke-width="5.4" stroke-linecap="round" fill="none"><path stroke="#2800ff" d="M328.9 237.8h0M328.9 245.4h0M340.5 233.9h0M359.7 245.4h0M328.9 253.1h0M340.5 241.6h0M359.7 253.1h0M340.5 249.3h0M340.5 256.9h0M336.6 237.8h0M336.6 245.4h0M336.6 253.1h0M355.9 241.6h0M344.3 253.1h0M355.9 249.3h0M344.3 260.8h0M355.9 256.9h0M348.2 233.9h0M348.2 241.6h0M352.0 237.8h0M348.2 249.3h0M332.8 233.9h0M352.0 245.4h0M348.2 256.9h0M332.8 241.6h0M352.0 253.1h0M332.8 249.3h0M352.0 260.8h0M332.8 256.9h0M344.3 237.8h0M344.3 245.4h0M336.6 260.8h0"/><path stroke="#2300ff" d="M359.7 222.4h0M328.9 230.1h0M363.6 272.3h0M325.1 295.2h0M348.2 203.3h0M375.1 245.4h0M336.6 268.4h0M359.7 230.1h0M363.6 279.9h0M352.0 199.4h0M348.2 210.9h0M375.1 253.1h0M336.6 276.1h0M359.7 237.8h0M363.6 287.6h0M352.0 207.1h0M379.0 210.9h0M348.2 218.6h0M336.6 283.7h0M332.8 203.3h0M321.2 268.4h0M317.4 279.9h0M379.0 218.6h0M336.6 291.4h0M363.6 203.3h0M332.8 210.9h0M294.2 233.9h0M321.2 276.1h0M317.4 287.6h0M379.0 226.3h0M363.6 210.9h0M332.8 218.6h0M294.2 241.6h0M359.7 260.8h0M321.2 283.7h0M390.5 268.4h0M363.6 218.6h0M332.8 226.3h0M325.1 241.6h0M294.2 249.3h0M321.2 291.4h0M313.5 253.1h0M336.6 214.8h0M340.5 264.6h0M363.6 226.3h0M325.1 249.3h0M294.2 256.9h0M313.5 260.8h0M336.6 222.4h0M340.5 272.3h0M363.6 233.9h0M325.1 256.9h0M294.2 264.6h0M371.2 279.9h0M313.5 268.4h0M375.1 207.1h0M394.4 241.6h0M336.6 230.1h0M340.5 279.9h0M382.8 253.1h0M328.9 199.4h0M325.1 264.6h0M317.4 226.3h0M371.2 287.6h0M313.5 276.1h0M394.4 249.3h0M298.1 260.8h0M305.8 260.8h0M382.8 260.8h0M359.7 199.4h0M321.2 222.4h0M325.1 272.3h0M317.4 233.9h0M313.5 283.7h0M394.4 256.9h0M298.1 268.4h0M305.8 268.4h0M382.8 268.4h0M359.7 207.1h0M321.2 230.1h0M325.1 279.9h0M317.4 241.6h0M340.5 203.3h0M355.9 287.6h0M305.8 276.1h0M386.7 226.3h0M382.8 276.1h0M359.7 214.8h0M321.2 237.8h0M290.4 245.4h0M325.1 287.6h0M367.4 260.8h0M317.4 249.3h0M390.5 222.4h0M340.5 210.9h0M302.0 233.9h0M309.7 233.9h0M355.9 295.2h0M305.8 283.7h0M386.7 233.9h0M321.2 245.4h0M290.4 253.1h0M313.5 207.1h0M367.4 268.4h0M317.4 256.9h0M390.5 230.1h0M340.5 218.6h0M302.0 241.6h0M309.7 241.6h0M386.7 241.6h0M325.1 203.3h0M321.2 253.1h0M313.5 214.8h0M367.4 276.1h0M317.4 264.6h0M390.5 237.8h0M340.5 226.3h0M302.0 249.3h0M309.7 249.3h0M386.7 249.3h0M325.1 210.9h0M321.2 260.8h0M371.2 233.9h0M313.5 222.4h0M367.4 283.7h0M317.4 272.3h0M390.5 245.4h0M352.0 268.4h0M302.0 256.9h0M309.7 256.9h0M386.7 256.9h0M348.2 279.9h0M325.1 218.6h0M371.2 241.6h0M313.5 230.1h0M367.4 291.4h0M305.8 214.8h0M390.5 253.1h0M352.0 276.1h0M302.0 264.6h0M309.7 264.6h0M382.8 214.8h0M386.7 264.6h0M348.2 287.6h0M325.1 226.3h0M371.2 249.3h0M313.5 237.8h0M336.6 199.4h0M298.1 222.4h0M305.8 222.4h0M390.5 260.8h0M352.0 283.7h0M302.0 272.3h0M309.7 272.3h0M382.8 222.4h0M386.7 272.3h0M348.2 295.2h0M325.1 233.9h0M367.4 207.1h0M371.2 256.9h0M313.5 245.4h0M332.8 279.9h0M336.6 207.1h0M298.1 230.1h0M305.8 230.1h0M352.0 291.4h0M302.0 279.9h0M309.7 279.9h0M382.8 230.1h0M367.4 214.8h0M317.4 203.3h0M371.2 264.6h0M332.8 287.6h0M298.1 237.8h0M305.8 237.8h0M382.8 237.8h0M367.4 222.4h0M317.4 210.9h0M371.2 272.3h0M332.8 295.2h0M394.4 233.9h0M298.1 245.4h0M305.8 245.4h0M382.8 245.4h0M375.1 260.8h0M344.3 268.4h0M321.2 207.1h0M367.4 230.1h0M317.4 218.6h0M352.0 214.8h0M355.9 264.6h0M298.1 253.1h0M305.8 253.1h0M348.2 226.3h0M375.1 268.4h0M344.3 276.1h0M321.2 214.8h0M367.4 237.8h0M328.9 260.8h0M352.0 222.4h0M309.7 210.9h0M355.9 272.3h0M375.1 276.1h0M344.3 283.7h0M367.4 245.4h0M328.9 268.4h0M352.0 230.1h0M302.0 218.6h0M309.7 218.6h0M355.9 279.9h0M386.7 218.6h0M379.0 233.9h0M375.1 283.7h0M344.3 291.4h0M367.4 253.1h0M359.7 268.4h0M328.9 276.1h0M302.0 226.3h0M309.7 226.3h0M344.3 199.4h0M379.0 241.6h0M371.2 210.9h0M359.7 276.1h0M328.9 283.7h0M344.3 207.1h0M379.0 249.3h0M371.2 218.6h0M359.7 283.7h0M328.9 291.4h0M355.9 203.3h0M344.3 214.8h0M379.0 256.9h0M348.2 264.6h0M371.2 226.3h0M363.6 241.6h0M359.7 291.4h0M355.9 210.9h0M375.1 214.8h0M344.3 222.4h0M379.0 264.6h0M348.2 272.3h0M340.5 287.6h0M328.9 207.1h0M363.6 249.3h0M355.9 218.6h0M375.1 222.4h0M344.3 230.1h0M379.0 272.3h0M340.5 295.2h0M328.9 214.8h0M363.6 256.9h0M332.8 264.6h0M355.9 226.3h0M375.1 230.1h0M379.0 279.9h0M328.9 222.4h0M363.6 264.6h0M332.8 272.3h0M355.9 233.9h0M375.1 237.8h0"/><path stroke="#1e00ff" d="M352.0 191.8h0M402.1 264.6h0M286.6 256.9h0M290.4 260.8h0M325.1 302.9h0M379.0 203.3h0M398.2 222.4h0M286.6 264.6h0M332.8 195.6h0M290.4 268.4h0M398.2 230.1h0M363.6 195.6h0M290.4 276.1h0M398.2 237.8h0M398.2 245.4h0M282.7 237.8h0M336.6 299.1h0M317.4 295.2h0M344.3 191.8h0M282.7 245.4h0M386.7 279.9h0M390.5 276.1h0M302.0 287.6h0M309.7 287.6h0M386.7 287.6h0M321.2 299.1h0M375.1 199.4h0M390.5 283.7h0M309.7 295.2h0M328.9 191.8h0M359.7 191.8h0M290.4 222.4h0M294.2 272.3h0M286.6 226.3h0M290.4 230.1h0M294.2 279.9h0M371.2 295.2h0M340.5 195.6h0M290.4 237.8h0M313.5 291.4h0M390.5 214.8h0M394.4 264.6h0M298.1 276.1h0M344.3 299.1h0M394.4 272.3h0M298.1 283.7h0M382.8 283.7h0M325.1 195.6h0M394.4 279.9h0M355.9 302.9h0M305.8 291.4h0M382.8 291.4h0M294.2 218.6h0M382.8 207.1h0M294.2 226.3h0M336.6 191.8h0M298.1 214.8h0M367.4 299.1h0M379.0 287.6h0M317.4 195.6h0M394.4 218.6h0M379.0 295.2h0M348.2 302.9h0M394.4 226.3h0M352.0 299.1h0M321.2 199.4h0M363.6 295.2h0M332.8 302.9h0M309.7 203.3h0M363.6 302.9h0M302.0 210.9h0M386.7 210.9h0M371.2 195.6h0M398.2 253.1h0M371.2 203.3h0M398.2 260.8h0M282.7 253.1h0M375.1 291.4h0M313.5 199.4h0M355.9 195.6h0M398.2 268.4h0M328.9 299.1h0M402.1 233.9h0M359.7 299.1h0M305.8 207.1h0M402.1 241.6h0M286.6 233.9h0M402.1 249.3h0M286.6 241.6h0M340.5 302.9h0M367.4 199.4h0M348.2 195.6h0M402.1 256.9h0M286.6 249.3h0"/><path stroke="#1900ff" d="M379.0 195.6h0M398.2 214.8h0M332.8 187.9h0M402.1 272.3h0M394.4 287.6h0M405.9 260.8h0M282.7 222.4h0M286.6 272.3h0M405.9 268.4h0M282.7 230.1h0M290.4 283.7h0M344.3 184.1h0M409.8 241.6h0M317.4 302.9h0M355.9 187.9h0M375.1 191.8h0M409.8 249.3h0M402.1 218.6h0M302.0 295.2h0M386.7 295.2h0M290.4 214.8h0M321.2 306.7h0M402.1 226.3h0M286.6 218.6h0M390.5 291.4h0M340.5 187.9h0M405.9 230.1h0M371.2 302.9h0M405.9 237.8h0M313.5 299.1h0M344.3 306.7h0M405.9 245.4h0M298.1 291.4h0M294.2 210.9h0M405.9 253.1h0M382.8 199.4h0M305.8 299.1h0M363.6 187.9h0M328.9 306.7h0M394.4 210.9h0M321.2 191.8h0M348.2 310.6h0M278.9 233.9h0M309.7 195.6h0M352.0 306.7h0M278.9 241.6h0M302.0 203.3h0M386.7 203.3h0M286.6 279.9h0M278.9 249.3h0M278.9 256.9h0M390.5 207.1h0M336.6 306.7h0M313.5 191.8h0M325.1 187.9h0M282.7 260.8h0M375.1 299.1h0M398.2 276.1h0M282.7 268.4h0M305.8 199.4h0M398.2 283.7h0M298.1 207.1h0M367.4 191.8h0M294.2 287.6h0M359.7 306.7h0M348.2 187.9h0M340.5 310.6h0"/><path stroke="#1400ff" d="M278.9 218.6h0M313.5 306.7h0M282.7 214.8h0M382.8 299.1h0M325.1 310.6h0M394.4 295.2h0M405.9 276.1h0M290.4 291.4h0M409.8 233.9h0M367.4 306.7h0M355.9 180.3h0M402.1 210.9h0M328.9 184.1h0M290.4 207.1h0M317.4 310.6h0M286.6 210.9h0M359.7 184.1h0M409.8 256.9h0M352.0 314.4h0M302.0 302.9h0M309.7 302.9h0M405.9 214.8h0M409.8 264.6h0M405.9 222.4h0M409.8 272.3h0M413.6 260.8h0M332.8 180.3h0M294.2 203.3h0M375.1 306.7h0M344.3 314.4h0M355.9 310.6h0M298.1 299.1h0M336.6 184.1h0M275.0 253.1h0M394.4 203.3h0M317.4 187.9h0M409.8 226.3h0M275.0 260.8h0M321.2 184.1h0M278.9 226.3h0M309.7 187.9h0M379.0 302.9h0M302.0 195.6h0M386.7 195.6h0M413.6 237.8h0M402.1 279.9h0M340.5 180.3h0M413.6 245.4h0M371.2 187.9h0M332.8 310.6h0M390.5 199.4h0M413.6 253.1h0M286.6 287.6h0M363.6 310.6h0M278.9 264.6h0M336.6 314.4h0M278.9 272.3h0M275.0 230.1h0M305.8 191.8h0M382.8 191.8h0M275.0 237.8h0M298.1 199.4h0M282.7 276.1h0M367.4 184.1h0M275.0 245.4h0M348.2 180.3h0M398.2 291.4h0M294.2 295.2h0M352.0 184.1h0M398.2 207.1h0"/><path stroke="#0f00ff" d="M294.2 302.9h0M282.7 207.1h0M340.5 318.2h0M271.2 241.6h0M313.5 314.4h0M271.2 249.3h0M382.8 306.7h0M371.2 180.3h0M271.2 256.9h0M344.3 176.5h0M271.2 264.6h0M405.9 283.7h0M375.1 184.1h0M402.1 203.3h0M328.9 176.5h0M290.4 299.1h0M367.4 314.4h0M286.6 203.3h0M359.7 176.5h0M267.3 237.8h0M267.3 245.4h0M405.9 207.1h0M386.7 302.9h0M267.3 253.1h0M390.5 299.1h0M309.7 310.6h0M398.2 199.4h0M413.6 268.4h0M294.2 195.6h0M271.2 226.3h0M371.2 310.6h0M413.6 276.1h0M271.2 233.9h0M278.9 279.9h0M417.5 233.9h0M363.6 180.3h0M336.6 176.5h0M417.5 241.6h0M409.8 210.9h0M394.4 195.6h0M355.9 318.2h0M305.8 306.7h0M417.5 249.3h0M317.4 180.3h0M409.8 218.6h0M328.9 314.4h0M417.5 256.9h0M359.7 314.4h0M417.5 264.6h0M275.0 268.4h0M413.6 222.4h0M290.4 199.4h0M275.0 276.1h0M302.0 187.9h0M386.7 187.9h0M413.6 230.1h0M379.0 310.6h0M348.2 318.2h0M390.5 191.8h0M402.1 287.6h0M313.5 184.1h0M332.8 318.2h0M286.6 295.2h0M325.1 180.3h0M275.0 214.8h0M275.0 222.4h0M305.8 184.1h0M298.1 191.8h0M321.2 314.4h0M282.7 283.7h0M409.8 279.9h0M352.0 176.5h0M282.7 291.4h0M278.9 210.9h0M379.0 187.9h0"/><path stroke="#0a00ff" d="M302.0 180.3h0M309.7 180.3h0M325.1 318.2h0M394.4 302.9h0M305.8 314.4h0M382.8 314.4h0M355.9 172.6h0M375.1 176.5h0M402.1 195.6h0M267.3 222.4h0M271.2 272.3h0M286.6 195.6h0M267.3 230.1h0M271.2 279.9h0M405.9 291.4h0M317.4 318.2h0M348.2 172.6h0M352.0 322.1h0M302.0 310.6h0M386.7 310.6h0M271.2 210.9h0M398.2 191.8h0M390.5 306.7h0M309.7 318.2h0M294.2 187.9h0M271.2 218.6h0M379.0 180.3h0M332.8 172.6h0M282.7 199.4h0M363.6 172.6h0M371.2 318.2h0M413.6 283.7h0M409.8 203.3h0M278.9 287.6h0M375.1 314.4h0M344.3 322.1h0M278.9 295.2h0M298.1 306.7h0M321.2 176.5h0M421.3 260.8h0M328.9 322.1h0M413.6 214.8h0M290.4 191.8h0M421.3 268.4h0M359.7 322.1h0M417.5 272.3h0M417.5 279.9h0M405.9 199.4h0M275.0 283.7h0M390.5 184.1h0M340.5 172.6h0M425.2 241.6h0M313.5 176.5h0M425.2 249.3h0M263.5 233.9h0M402.1 295.2h0M325.1 172.6h0M275.0 207.1h0M263.5 241.6h0M363.6 318.2h0M263.5 249.3h0M417.5 218.6h0M286.6 302.9h0M421.3 222.4h0M290.4 306.7h0M298.1 184.1h0M263.5 256.9h0M382.8 184.1h0M417.5 226.3h0M336.6 322.1h0M421.3 230.1h0M263.5 264.6h0M367.4 176.5h0M421.3 237.8h0M394.4 187.9h0M421.3 245.4h0M267.3 260.8h0M321.2 322.1h0M278.9 203.3h0M421.3 253.1h0M267.3 268.4h0M413.6 207.1h0M398.2 299.1h0M267.3 276.1h0M409.8 287.6h0M282.7 299.1h0"/><path stroke="#0500ff" d="M267.3 283.7h0M409.8 295.2h0M259.6 253.1h0M425.2 226.3h0M267.3 291.4h0M294.2 310.6h0M409.8 302.9h0M263.5 210.9h0M340.5 325.9h0M371.2 172.6h0M425.2 233.9h0M313.5 322.1h0M263.5 218.6h0M344.3 168.8h0M355.9 165.0h0M263.5 226.3h0M375.1 168.8h0M402.1 187.9h0M429.0 230.1h0M298.1 314.4h0M275.0 199.4h0M267.3 214.8h0M325.1 325.9h0M286.6 187.9h0M429.0 237.8h0M394.4 310.6h0M305.8 322.1h0M382.8 322.1h0M328.9 168.8h0M421.3 207.1h0M429.0 245.4h0M359.7 168.8h0M429.0 253.1h0M405.9 299.1h0M367.4 322.1h0M429.0 260.8h0M417.5 287.6h0M348.2 165.0h0M348.2 325.9h0M271.2 203.3h0M398.2 184.1h0M379.0 172.6h0M352.0 329.7h0M302.0 318.2h0M386.7 318.2h0M332.8 165.0h0M282.7 191.8h0M363.6 165.0h0M409.8 195.6h0M336.6 168.8h0M371.2 325.9h0M413.6 291.4h0M413.6 299.1h0M375.1 322.1h0M321.2 168.8h0M344.3 329.7h0M267.3 207.1h0M278.9 302.9h0M355.9 325.9h0M290.4 184.1h0M398.2 306.7h0M328.9 329.7h0M386.7 180.3h0M398.2 314.4h0M282.7 306.7h0M405.9 191.8h0M421.3 276.1h0M359.7 329.7h0M390.5 176.5h0M340.5 165.0h0M259.6 260.8h0M421.3 283.7h0M259.6 268.4h0M313.5 168.8h0M275.0 291.4h0M259.6 276.1h0M379.0 318.2h0M325.1 165.0h0M275.0 299.1h0M417.5 203.3h0M294.2 180.3h0M425.2 256.9h0M417.5 210.9h0M402.1 302.9h0M421.3 214.8h0M425.2 264.6h0M332.8 325.9h0M298.1 176.5h0M305.8 176.5h0M382.8 176.5h0M402.1 310.6h0M425.2 272.3h0M271.2 287.6h0M363.6 325.9h0M286.6 310.6h0M367.4 168.8h0M425.2 279.9h0M271.2 295.2h0M290.4 314.4h0M405.9 306.7h0M394.4 180.3h0M429.0 268.4h0M336.6 329.7h0M317.4 325.9h0M259.6 222.4h0M263.5 272.3h0M255.8 233.9h0M317.4 172.6h0M278.9 195.6h0M352.0 168.8h0M259.6 230.1h0M413.6 199.4h0M263.5 279.9h0M255.8 241.6h0M259.6 237.8h0M255.8 249.3h0M390.5 314.4h0M302.0 172.6h0M309.7 172.6h0M259.6 245.4h0M432.9 249.3h0M255.8 256.9h0M425.2 218.6h0"/><path stroke="#0000ff" d="M263.5 203.3h0M432.9 256.9h0M255.8 264.6h0M371.2 165.0h0M344.3 161.1h0M429.0 214.8h0M432.9 264.6h0M251.9 222.4h0M275.0 184.1h0M267.3 299.1h0M294.2 318.2h0M409.8 310.6h0M355.9 157.3h0M371.2 333.6h0M375.1 161.1h0M402.1 180.3h0M429.0 222.4h0M432.9 272.3h0M251.9 230.1h0M421.3 191.8h0M275.0 191.8h0M294.2 325.9h0M313.5 329.7h0M286.6 180.3h0M432.9 279.9h0M251.9 237.8h0M413.6 306.7h0M328.9 161.1h0M421.3 199.4h0M298.1 322.1h0M325.1 333.6h0M394.4 318.2h0M305.8 329.7h0M382.8 329.7h0M255.8 210.9h0M394.4 325.9h0M271.2 187.9h0M259.6 207.1h0M348.2 157.3h0M432.9 210.9h0M255.8 218.6h0M248.1 233.9h0M271.2 195.6h0M367.4 329.7h0M398.2 176.5h0M432.9 218.6h0M248.1 241.6h0M417.5 295.2h0M352.0 161.1h0M379.0 165.0h0M282.7 176.5h0M432.9 226.3h0M248.1 249.3h0M417.5 302.9h0M332.8 157.3h0M348.2 333.6h0M275.0 306.7h0M282.7 184.1h0M432.9 233.9h0M248.1 256.9h0M363.6 157.3h0M248.1 264.6h0M352.0 337.4h0M302.0 325.9h0M309.7 325.9h0M409.8 187.9h0M332.8 333.6h0M336.6 161.1h0M429.0 207.1h0M436.7 253.1h0M267.3 191.8h0M425.2 287.6h0M436.7 260.8h0M267.3 199.4h0M425.2 295.2h0M286.6 172.6h0M436.7 268.4h0M290.4 176.5h0M263.5 287.6h0M375.1 329.7h0M344.3 337.4h0M405.9 176.5h0M278.9 310.6h0M263.5 295.2h0M355.9 333.6h0M359.7 161.1h0M405.9 184.1h0M390.5 168.8h0M340.5 157.3h0M440.6 241.6h0M328.9 337.4h0M440.6 249.3h0M255.8 272.3h0M398.2 322.1h0M282.7 314.4h0M313.5 161.1h0M359.7 337.4h0M417.5 187.9h0M255.8 279.9h0M325.1 157.3h0M340.5 333.6h0M421.3 291.4h0M417.5 195.6h0M255.8 287.6h0M294.2 172.6h0M421.3 299.1h0M436.7 222.4h0M259.6 283.7h0M251.9 245.4h0M379.0 325.9h0M298.1 168.8h0M305.8 168.8h0M382.8 168.8h0M436.7 230.1h0M259.6 291.4h0M251.9 253.1h0M409.8 180.3h0M436.7 237.8h0M251.9 260.8h0M367.4 161.1h0M394.4 172.6h0M436.7 245.4h0M251.9 268.4h0M402.1 318.2h0M278.9 180.3h0M363.6 333.6h0M259.6 214.8h0M413.6 184.1h0M255.8 226.3h0M251.9 276.1h0M286.6 318.2h0M317.4 165.0h0M278.9 187.9h0M271.2 302.9h0M290.4 322.1h0M405.9 314.4h0M413.6 191.8h0M429.0 276.1h0M321.2 161.1h0M336.6 337.4h0M317.4 333.6h0M429.0 283.7h0M425.2 203.3h0M321.2 329.7h0M302.0 165.0h0M309.7 165.0h0M386.7 165.0h0M432.9 241.6h0M429.0 291.4h0M386.7 325.9h0M425.2 210.9h0M263.5 195.6h0M386.7 172.6h0M390.5 322.1h0M309.7 333.6h0"/><path stroke="#0007ff" d="M240.4 241.6h0M444.4 222.4h0M321.2 345.1h0M344.3 153.5h0M251.9 214.8h0M429.0 306.7h0M248.1 279.9h0M390.5 329.7h0M309.7 341.2h0M275.0 176.5h0M240.4 249.3h0M444.4 230.1h0M355.9 149.6h0M417.5 180.3h0M436.7 199.4h0M248.1 287.6h0M390.5 337.4h0M421.3 184.1h0M240.4 256.9h0M444.4 237.8h0M240.4 264.6h0M444.4 245.4h0M267.3 306.7h0M409.8 318.2h0M371.2 341.2h0M305.8 153.5h0M244.2 253.1h0M240.4 272.3h0M444.4 253.1h0M409.8 325.9h0M313.5 337.4h0M255.8 195.6h0M244.2 260.8h0M413.6 314.4h0M259.6 191.8h0M432.9 195.6h0M255.8 203.3h0M244.2 268.4h0M355.9 341.2h0M298.1 329.7h0M413.6 322.1h0M367.4 153.5h0M278.9 325.9h0M259.6 199.4h0M398.2 161.1h0M348.2 149.6h0M432.9 203.3h0M244.2 276.1h0M298.1 337.4h0M305.8 337.4h0M382.8 337.4h0M278.9 172.6h0M398.2 168.8h0M244.2 283.7h0M394.4 333.6h0M352.0 153.5h0M379.0 157.3h0M282.7 168.8h0M332.8 149.6h0M367.4 337.4h0M363.6 149.6h0M367.4 345.1h0M440.6 279.9h0M417.5 310.6h0M379.0 333.6h0M348.2 341.2h0M421.3 314.4h0M275.0 314.4h0M429.0 191.8h0M244.2 214.8h0M440.6 287.6h0M417.5 318.2h0M379.0 341.2h0M275.0 322.1h0M429.0 199.4h0M244.2 222.4h0M248.1 272.3h0M352.0 345.1h0M267.3 184.1h0M332.8 341.2h0M402.1 165.0h0M244.2 230.1h0M290.4 161.1h0M363.6 341.2h0M375.1 153.5h0M402.1 172.6h0M286.6 165.0h0M244.2 237.8h0M290.4 168.8h0M244.2 245.4h0M328.9 153.5h0M405.9 168.8h0M425.2 302.9h0M248.1 203.3h0M436.7 276.1h0M359.7 153.5h0M425.2 310.6h0M340.5 149.6h0M248.1 210.9h0M440.6 233.9h0M436.7 283.7h0M375.1 337.4h0M344.3 345.1h0M278.9 318.2h0M248.1 218.6h0M263.5 302.9h0M436.7 291.4h0M271.2 180.3h0M313.5 153.5h0M248.1 226.3h0M263.5 310.6h0M325.1 149.6h0M328.9 345.1h0M436.7 207.1h0M440.6 256.9h0M398.2 329.7h0M294.2 165.0h0M282.7 322.1h0M359.7 345.1h0M382.8 153.5h0M436.7 214.8h0M440.6 264.6h0M340.5 341.2h0M282.7 329.7h0M267.3 314.4h0M294.2 333.6h0M298.1 161.1h0M305.8 161.1h0M382.8 161.1h0M440.6 272.3h0M432.9 287.6h0M255.8 295.2h0M409.8 172.6h0M421.3 306.7h0M444.4 260.8h0M432.9 295.2h0M255.8 302.9h0M325.1 341.2h0M444.4 268.4h0M394.4 165.0h0M336.6 153.5h0M259.6 299.1h0M317.4 149.6h0M444.4 276.1h0M413.6 176.5h0M259.6 306.7h0M317.4 157.3h0M448.2 233.9h0M402.1 325.9h0M321.2 153.5h0M425.2 187.9h0M448.2 241.6h0M440.6 210.9h0M251.9 283.7h0M286.6 325.9h0M425.2 195.6h0M448.2 249.3h0M271.2 310.6h0M290.4 329.7h0M405.9 322.1h0M302.0 157.3h0M309.7 157.3h0M386.7 157.3h0M440.6 218.6h0M251.9 291.4h0M336.6 345.1h0M240.4 226.3h0M448.2 256.9h0M271.2 318.2h0M317.4 341.2h0M263.5 187.9h0M440.6 226.3h0M251.9 199.4h0M240.4 233.9h0M321.2 337.4h0M448.2 264.6h0M390.5 161.1h0M251.9 207.1h0M429.0 299.1h0M302.0 333.6h0M371.2 157.3h0M386.7 333.6h0"/><path stroke="#000eff" d="M448.2 272.3h0M417.5 172.6h0M302.0 341.2h0M421.3 176.5h0M386.7 341.2h0M248.1 295.2h0M298.1 153.5h0M255.8 187.9h0M259.6 184.1h0M367.4 145.8h0M236.5 230.1h0M313.5 345.1h0M278.9 165.0h0M236.5 237.8h0M448.2 218.6h0M355.9 348.9h0M236.5 245.4h0M448.2 226.3h0M352.0 145.8h0M379.0 149.6h0M282.7 161.1h0M305.8 345.1h0M425.2 180.3h0M452.1 237.8h0M244.2 291.4h0M452.1 245.4h0M240.4 218.6h0M263.5 180.3h0M429.0 184.1h0M452.1 253.1h0M251.9 191.8h0M244.2 207.1h0M348.2 348.9h0M267.3 176.5h0M344.3 145.8h0M440.6 295.2h0M259.6 314.4h0M332.8 348.9h0M402.1 333.6h0M328.9 145.8h0M363.6 348.9h0M359.7 145.8h0M286.6 333.6h0M251.9 299.1h0M432.9 187.9h0M271.2 172.6h0M375.1 345.1h0M436.7 299.1h0M294.2 157.3h0M263.5 318.2h0M398.2 337.4h0M409.8 165.0h0M340.5 348.9h0M240.4 279.9h0M267.3 322.1h0M394.4 157.3h0M336.6 145.8h0M413.6 168.8h0M432.9 302.9h0M325.1 348.9h0M321.2 145.8h0M236.5 253.1h0M444.4 283.7h0M440.6 203.3h0M236.5 260.8h0M309.7 149.6h0M236.5 268.4h0M444.4 207.1h0M290.4 337.4h0M390.5 153.5h0M405.9 329.7h0M452.1 260.8h0M371.2 149.6h0M444.4 214.8h0M275.0 168.8h0"/><path stroke="#0014ff" d="M355.9 142.0h0M436.7 191.8h0M309.7 348.9h0M456.0 241.6h0M255.8 180.3h0M236.5 214.8h0M259.6 176.5h0M456.0 249.3h0M248.1 302.9h0M236.5 222.4h0M371.2 348.9h0M448.2 210.9h0M348.2 142.0h0M344.3 352.7h0M452.1 222.4h0M413.6 329.7h0M278.9 333.6h0M452.1 230.1h0M298.1 345.1h0M436.7 306.7h0M332.8 142.0h0M382.8 345.1h0M240.4 210.9h0M263.5 172.6h0M267.3 168.8h0M232.7 241.6h0M232.7 249.3h0M421.3 322.1h0M402.1 157.3h0M417.5 325.9h0M232.7 256.9h0M275.0 329.7h0M375.1 145.8h0M286.6 157.3h0M352.0 352.7h0M232.7 264.6h0M405.9 161.1h0M248.1 195.6h0M340.5 142.0h0M251.9 306.7h0M425.2 318.2h0M325.1 142.0h0M448.2 279.9h0M429.0 314.4h0M328.9 352.7h0M359.7 352.7h0M244.2 199.4h0M232.7 233.9h0M294.2 341.2h0M409.8 333.6h0M240.4 287.6h0M255.8 310.6h0M440.6 195.6h0M432.9 310.6h0M290.4 153.5h0M394.4 341.2h0M444.4 291.4h0M302.0 149.6h0M386.7 149.6h0M236.5 276.1h0M336.6 352.7h0M271.2 325.9h0M317.4 348.9h0M452.1 268.4h0M313.5 145.8h0"/><path stroke="#001bff" d="M452.1 276.1h0M321.2 352.7h0M456.0 233.9h0M452.1 283.7h0M302.0 348.9h0M386.7 348.9h0M236.5 207.1h0M305.8 145.8h0M382.8 145.8h0M390.5 345.1h0M448.2 203.3h0M456.0 256.9h0M278.9 157.3h0M452.1 214.8h0M456.0 264.6h0M352.0 138.1h0M425.2 172.6h0M240.4 203.3h0M363.6 142.0h0M429.0 176.5h0M251.9 184.1h0M244.2 299.1h0M444.4 199.4h0M367.4 352.7h0M344.3 138.1h0M379.0 348.9h0M255.8 318.2h0M348.2 356.6h0M456.0 226.3h0M440.6 302.9h0M248.1 187.9h0M259.6 322.1h0M232.7 272.3h0M402.1 341.2h0M432.9 180.3h0M271.2 165.0h0M286.6 341.2h0M228.8 237.8h0M228.8 245.4h0M398.2 153.5h0M294.2 149.6h0M228.8 253.1h0M448.2 287.6h0M232.7 218.6h0M244.2 191.8h0M263.5 325.9h0M232.7 226.3h0M394.4 149.6h0M336.6 138.1h0M282.7 337.4h0M413.6 161.1h0M340.5 356.6h0M317.4 142.0h0M313.5 352.7h0M440.6 187.9h0M240.4 295.2h0M444.4 299.1h0M371.2 142.0h0M275.0 161.1h0M236.5 283.7h0M405.9 337.4h0M417.5 165.0h0M436.7 184.1h0M421.3 168.8h0"/><path stroke="#0022ff" d="M236.5 291.4h0M271.2 333.6h0M317.4 356.6h0M417.5 333.6h0M255.8 172.6h0M298.1 145.8h0M259.6 168.8h0M452.1 291.4h0M448.2 195.6h0M367.4 138.1h0M248.1 310.6h0M379.0 142.0h0M456.0 272.3h0M240.4 195.6h0M228.8 260.8h0M459.8 260.8h0M456.0 279.9h0M355.9 356.6h0M413.6 337.4h0M228.8 268.4h0M263.5 165.0h0M278.9 341.2h0M251.9 176.5h0M305.8 352.7h0M436.7 314.4h0M444.4 191.8h0M286.6 149.6h0M456.0 218.6h0M421.3 329.7h0M328.9 138.1h0M275.0 337.4h0M440.6 310.6h0M359.7 138.1h0M228.8 222.4h0M332.8 356.6h0M228.8 230.1h0M459.8 230.1h0M232.7 279.9h0M363.6 356.6h0M459.8 237.8h0M452.1 207.1h0M459.8 245.4h0M251.9 314.4h0M459.8 253.1h0M425.2 325.9h0M282.7 153.5h0M375.1 352.7h0M232.7 210.9h0M429.0 322.1h0M409.8 157.3h0M448.2 295.2h0M398.2 345.1h0M267.3 329.7h0M294.2 348.9h0M321.2 138.1h0M325.1 356.6h0M309.7 142.0h0M432.9 318.2h0M405.9 153.5h0M382.8 352.7h0M390.5 145.8h0M244.2 306.7h0M290.4 345.1h0"/><path stroke="#0029ff" d="M405.9 345.1h0M236.5 299.1h0M309.7 356.6h0M390.5 352.7h0M232.7 287.6h0M348.2 134.3h0M371.2 356.6h0M425.2 165.0h0M240.4 187.9h0M332.8 134.3h0M344.3 360.4h0M459.8 268.4h0M429.0 168.8h0M298.1 352.7h0M228.8 276.1h0M459.8 276.1h0M328.9 360.4h0M463.7 241.6h0M402.1 149.6h0M456.0 210.9h0M421.3 161.1h0M463.7 249.3h0M355.9 134.3h0M375.1 138.1h0M463.7 256.9h0M248.1 180.3h0M379.0 356.6h0M255.8 325.9h0M236.5 199.4h0M228.8 214.8h0M225.0 226.3h0M352.0 360.4h0M459.8 222.4h0M225.0 233.9h0M432.9 172.6h0M259.6 329.7h0M271.2 157.3h0M225.0 241.6h0M444.4 306.7h0M452.1 199.4h0M225.0 249.3h0M398.2 145.8h0M336.6 360.4h0M225.0 256.9h0M232.7 203.3h0M225.0 264.6h0M244.2 184.1h0M363.6 134.3h0M448.2 302.9h0M267.3 161.1h0M359.7 360.4h0M440.6 180.3h0M282.7 345.1h0M409.8 341.2h0M290.4 145.8h0M240.4 302.9h0M302.0 142.0h0M386.7 142.0h0M456.0 287.6h0M394.4 348.9h0M340.5 134.3h0M275.0 153.5h0M417.5 157.3h0M436.7 176.5h0M313.5 138.1h0M325.1 134.3h0"/><path stroke="#002fff" d="M290.4 352.7h0M305.8 138.1h0M382.8 138.1h0M448.2 187.9h0M321.2 360.4h0M302.0 356.6h0M386.7 356.6h0M452.1 299.1h0M278.9 149.6h0M413.6 153.5h0M232.7 295.2h0M248.1 318.2h0M225.0 272.3h0M375.1 360.4h0M444.4 184.1h0M263.5 333.6h0M436.7 322.1h0M228.8 283.7h0M459.8 283.7h0M344.3 130.5h0M456.0 203.3h0M221.1 253.1h0M221.1 260.8h0M236.5 191.8h0M459.8 214.8h0M463.7 264.6h0M421.3 337.4h0M463.7 272.3h0M440.6 318.2h0M402.1 348.9h0M444.4 314.4h0M294.2 142.0h0M286.6 348.9h0M282.7 145.8h0M271.2 341.2h0M251.9 322.1h0M409.8 149.6h0M425.2 333.6h0M394.4 142.0h0M429.0 329.7h0M463.7 226.3h0M221.1 237.8h0M317.4 134.3h0M463.7 233.9h0M221.1 245.4h0M340.5 364.2h0M267.3 337.4h0M313.5 360.4h0M228.8 207.1h0M225.0 218.6h0M240.4 310.6h0M456.0 295.2h0M432.9 325.9h0M371.2 134.3h0M244.2 314.4h0M367.4 360.4h0"/><path stroke="#0036ff" d="M298.1 138.1h0M259.6 161.1h0M417.5 341.2h0M367.4 130.5h0M440.6 172.6h0M425.2 157.3h0M240.4 180.3h0M352.0 130.5h0M379.0 134.3h0M232.7 302.9h0M444.4 176.5h0M309.7 134.3h0M263.5 157.3h0M251.9 168.8h0M225.0 279.9h0M355.9 364.2h0M413.6 345.1h0M278.9 348.9h0M456.0 195.6h0M402.1 142.0h0M421.3 153.5h0M398.2 352.7h0M228.8 291.4h0M459.8 291.4h0M286.6 142.0h0M328.9 130.5h0M221.1 268.4h0M255.8 165.0h0M359.7 130.5h0M348.2 364.2h0M432.9 165.0h0M271.2 149.6h0M275.0 345.1h0M452.1 191.8h0M463.7 279.9h0M332.8 364.2h0M363.6 364.2h0M232.7 195.6h0M244.2 176.5h0M221.1 222.4h0M236.5 306.7h0M429.0 161.1h0M463.7 218.6h0M221.1 230.1h0M336.6 130.5h0M267.3 153.5h0M452.1 306.7h0M448.2 310.6h0M321.2 130.5h0M467.5 230.1h0M228.8 199.4h0M225.0 210.9h0M294.2 356.6h0M248.1 172.6h0M467.5 237.8h0M405.9 145.8h0M459.8 207.1h0M467.5 245.4h0M325.1 364.2h0M390.5 138.1h0M467.5 253.1h0M305.8 360.4h0M382.8 360.4h0M436.7 168.8h0M467.5 260.8h0"/><path stroke="#003dff" d="M405.9 352.7h0M317.4 364.2h0M352.0 368.1h0M348.2 126.6h0M413.6 145.8h0M309.7 364.2h0M463.7 287.6h0M390.5 360.4h0M371.2 364.2h0M248.1 325.9h0M217.2 226.3h0M302.0 134.3h0M344.3 368.1h0M425.2 341.2h0M225.0 287.6h0M275.0 145.8h0M328.9 368.1h0M263.5 341.2h0M436.7 329.7h0M355.9 126.6h0M359.7 368.1h0M375.1 130.5h0M282.7 352.7h0M236.5 184.1h0M228.8 299.1h0M448.2 180.3h0M221.1 276.1h0M452.1 184.1h0M379.0 364.2h0M255.8 333.6h0M221.1 283.7h0M398.2 138.1h0M467.5 268.4h0M259.6 337.4h0M440.6 325.9h0M232.7 187.9h0M467.5 276.1h0M444.4 322.1h0M332.8 126.6h0M336.6 368.1h0M221.1 214.8h0M471.4 241.6h0M463.7 210.9h0M471.4 249.3h0M251.9 329.7h0M236.5 314.4h0M471.4 256.9h0M429.0 337.4h0M467.5 222.4h0M290.4 138.1h0M225.0 203.3h0M459.8 199.4h0M409.8 348.9h0M386.7 134.3h0M217.2 233.9h0M267.3 345.1h0M217.2 241.6h0M340.5 126.6h0M298.1 360.4h0M217.2 249.3h0M240.4 318.2h0M417.5 149.6h0M456.0 302.9h0M432.9 333.6h0M394.4 356.6h0M313.5 130.5h0M217.2 256.9h0M217.2 264.6h0M244.2 322.1h0"/><path stroke="#0044ff" d="M217.2 272.3h0M305.8 130.5h0M367.4 368.1h0M382.8 130.5h0M471.4 233.9h0M217.2 279.9h0M213.4 237.8h0M394.4 134.3h0M278.9 142.0h0M417.5 348.9h0M213.4 245.4h0M275.0 352.7h0M440.6 165.0h0M302.0 364.2h0M317.4 126.6h0M386.7 364.2h0M213.4 253.1h0M463.7 295.2h0M444.4 168.8h0M217.2 218.6h0M263.5 149.6h0M251.9 161.1h0M232.7 310.6h0M456.0 187.9h0M371.2 126.6h0M225.0 295.2h0M236.5 176.5h0M459.8 299.1h0M255.8 157.3h0M228.8 306.7h0M259.6 153.5h0M432.9 157.3h0M421.3 345.1h0M294.2 134.3h0M240.4 172.6h0M282.7 138.1h0M402.1 356.6h0M221.1 207.1h0M244.2 168.8h0M467.5 283.7h0M286.6 356.6h0M409.8 142.0h0M463.7 203.3h0M290.4 360.4h0M429.0 153.5h0M363.6 126.6h0M271.2 348.9h0M321.2 368.1h0M467.5 214.8h0M471.4 264.6h0M225.0 195.6h0M471.4 272.3h0M452.1 314.4h0M228.8 191.8h0M459.8 191.8h0M448.2 318.2h0M248.1 165.0h0M313.5 368.1h0M436.7 161.1h0M456.0 310.6h0M325.1 126.6h0M471.4 226.3h0"/><path stroke="#004bff" d="M213.4 222.4h0M298.1 130.5h0M244.2 329.7h0M213.4 230.1h0M348.2 371.9h0M467.5 207.1h0M475.2 253.1h0M425.2 149.6h0M352.0 122.8h0M475.2 260.8h0M440.6 333.6h0M217.2 210.9h0M309.7 126.6h0M375.1 368.1h0M402.1 134.3h0M344.3 122.8h0M355.9 371.9h0M421.3 145.8h0M413.6 352.7h0M278.9 356.6h0M286.6 134.3h0M225.0 302.9h0M328.9 122.8h0M436.7 337.4h0M398.2 360.4h0M359.7 122.8h0M448.2 172.6h0M459.8 306.7h0M452.1 176.5h0M475.2 230.1h0M271.2 142.0h0M475.2 237.8h0M475.2 245.4h0M255.8 341.2h0M221.1 291.4h0M240.4 325.9h0M221.1 199.4h0M332.8 371.9h0M379.0 126.6h0M259.6 345.1h0M463.7 195.6h0M363.6 371.9h0M444.4 329.7h0M467.5 291.4h0M217.2 287.6h0M336.6 122.8h0M456.0 180.3h0M267.3 145.8h0M251.9 337.4h0M236.5 322.1h0M321.2 122.8h0M228.8 184.1h0M213.4 260.8h0M213.4 268.4h0M471.4 279.9h0M405.9 138.1h0M248.1 333.6h0M340.5 371.9h0M294.2 364.2h0M390.5 130.5h0M409.8 356.6h0M325.1 371.9h0M305.8 368.1h0M232.7 180.3h0M382.8 368.1h0M471.4 218.6h0"/><path stroke="#0051ff" d="M228.8 314.4h0M367.4 122.8h0M278.9 134.3h0M317.4 371.9h0M413.6 138.1h0M440.6 157.3h0M467.5 199.4h0M352.0 375.7h0M217.2 203.3h0M221.1 299.1h0M309.7 371.9h0M444.4 161.1h0M251.9 153.5h0M475.2 268.4h0M463.7 302.9h0M302.0 126.6h0M475.2 276.1h0M371.2 371.9h0M232.7 318.2h0M479.1 241.6h0M275.0 138.1h0M344.3 375.7h0M425.2 348.9h0M479.1 249.3h0M236.5 168.8h0M375.1 122.8h0M255.8 149.6h0M263.5 348.9h0M475.2 222.4h0M471.4 287.6h0M282.7 360.4h0M398.2 130.5h0M348.2 119.0h0M240.4 165.0h0M421.3 352.7h0M432.9 341.2h0M463.7 187.9h0M244.2 161.1h0M209.6 233.9h0M332.8 119.0h0M209.6 241.6h0M209.6 249.3h0M336.6 375.7h0M286.6 364.2h0M405.9 360.4h0M209.6 256.9h0M467.5 299.1h0M209.6 264.6h0M225.0 187.9h0M290.4 130.5h0M459.8 184.1h0M248.1 157.3h0M429.0 345.1h0M390.5 368.1h0M386.7 126.6h0M452.1 322.1h0M213.4 276.1h0M448.2 325.9h0M213.4 283.7h0M340.5 119.0h0M267.3 352.7h0M417.5 142.0h0M313.5 122.8h0M471.4 210.9h0M298.1 368.1h0M221.1 191.8h0M209.6 226.3h0M394.4 364.2h0M213.4 214.8h0M456.0 318.2h0"/><path stroke="#0058ff" d="M459.8 314.4h0M394.4 126.6h0M367.4 375.7h0M467.5 191.8h0M244.2 337.4h0M425.2 142.0h0M317.4 119.0h0M217.2 195.6h0M417.5 356.6h0M275.0 360.4h0M302.0 371.9h0M263.5 142.0h0M221.1 306.7h0M463.7 310.6h0M479.1 233.9h0M475.2 283.7h0M371.2 119.0h0M436.7 153.5h0M251.9 345.1h0M355.9 119.0h0M479.1 256.9h0M328.9 375.7h0M475.2 214.8h0M479.1 264.6h0M448.2 165.0h0M259.6 145.8h0M225.0 310.6h0M359.7 375.7h0M432.9 149.6h0M452.1 168.8h0M479.1 272.3h0M471.4 295.2h0M379.0 371.9h0M282.7 130.5h0M240.4 333.6h0M409.8 134.3h0M429.0 145.8h0M363.6 119.0h0M402.1 364.2h0M456.0 172.6h0M479.1 226.3h0M267.3 138.1h0M290.4 368.1h0M225.0 180.3h0M217.2 295.2h0M271.2 356.6h0M228.8 176.5h0M459.8 176.5h0M321.2 375.7h0M209.6 272.3h0M386.7 371.9h0M236.5 329.7h0M405.9 130.5h0M205.7 237.8h0M205.7 245.4h0M205.7 253.1h0M248.1 341.2h0M213.4 291.4h0M471.4 203.3h0M232.7 172.6h0M209.6 218.6h0M325.1 119.0h0M294.2 126.6h0M213.4 207.1h0M305.8 122.8h0M382.8 122.8h0"/><path stroke="#005fff" d="M456.0 325.9h0M479.1 279.9h0M228.8 322.1h0M459.8 322.1h0M348.2 379.5h0M352.0 115.1h0M309.7 119.0h0M332.8 379.5h0M440.6 341.2h0M344.3 115.1h0M482.9 230.1h0M475.2 291.4h0M421.3 138.1h0M236.5 161.1h0M232.7 325.9h0M482.9 237.8h0M375.1 375.7h0M213.4 199.4h0M482.9 245.4h0M475.2 207.1h0M209.6 279.9h0M355.9 379.5h0M328.9 115.1h0M278.9 364.2h0M482.9 253.1h0M209.6 287.6h0M482.9 260.8h0M263.5 356.6h0M436.7 345.1h0M398.2 368.1h0M225.0 318.2h0M448.2 333.6h0M205.7 260.8h0M240.4 157.3h0M205.7 268.4h0M379.0 119.0h0M255.8 348.9h0M432.9 348.9h0M479.1 218.6h0M259.6 352.7h0M336.6 115.1h0M444.4 337.4h0M402.1 126.6h0M467.5 306.7h0M217.2 302.9h0M286.6 126.6h0M248.1 149.6h0M205.7 222.4h0M205.7 230.1h0M359.7 115.1h0M429.0 352.7h0M390.5 122.8h0M452.1 329.7h0M271.2 134.3h0M417.5 134.3h0M471.4 195.6h0M340.5 379.5h0M294.2 371.9h0M409.8 364.2h0M313.5 375.7h0M209.6 210.9h0M221.1 184.1h0M463.7 180.3h0M413.6 360.4h0M325.1 379.5h0M244.2 153.5h0M305.8 375.7h0M298.1 122.8h0"/><path stroke="#0066ff" d="M467.5 184.1h0M482.9 268.4h0M367.4 115.1h0M413.6 130.5h0M440.6 149.6h0M479.1 287.6h0M217.2 187.9h0M321.2 115.1h0M251.9 145.8h0M302.0 119.0h0M386.7 119.0h0M221.1 314.4h0M436.7 145.8h0M482.9 222.4h0M275.0 130.5h0M463.7 318.2h0M201.9 241.6h0M425.2 356.6h0M255.8 142.0h0M448.2 157.3h0M201.9 249.3h0M452.1 161.1h0M201.9 256.9h0M282.7 368.1h0M398.2 122.8h0M471.4 302.9h0M267.3 360.4h0M205.7 276.1h0M444.4 153.5h0M479.1 210.9h0M456.0 165.0h0M363.6 379.5h0M228.8 168.8h0M405.9 368.1h0M317.4 379.5h0M205.7 214.8h0M290.4 122.8h0M475.2 199.4h0M371.2 379.5h0M209.6 203.3h0M232.7 165.0h0M213.4 299.1h0M382.8 375.7h0M394.4 371.9h0"/><path stroke="#006dff" d="M482.9 276.1h0M244.2 345.1h0M421.3 360.4h0M486.8 249.3h0M352.0 383.4h0M417.5 364.2h0M486.8 256.9h0M309.7 379.5h0M213.4 191.8h0M201.9 233.9h0M375.1 115.1h0M475.2 299.1h0M467.5 314.4h0M344.3 383.4h0M232.7 333.6h0M259.6 138.1h0M432.9 142.0h0M209.6 295.2h0M201.9 264.6h0M278.9 126.6h0M348.2 111.3h0M486.8 241.6h0M479.1 203.3h0M332.8 111.3h0M379.0 379.5h0M263.5 134.3h0M429.0 138.1h0M205.7 283.7h0M240.4 341.2h0M482.9 214.8h0M402.1 371.9h0M225.0 172.6h0M336.6 383.4h0M459.8 168.8h0M286.6 371.9h0M201.9 226.3h0M271.2 364.2h0M217.2 310.6h0M236.5 337.4h0M390.5 375.7h0M340.5 111.3h0M471.4 187.9h0M313.5 115.1h0M221.1 176.5h0M248.1 348.9h0M463.7 172.6h0M409.8 126.6h0M298.1 375.7h0"/><path stroke="#0073ff" d="M394.4 119.0h0M436.7 352.7h0M225.0 325.9h0M367.4 383.4h0M482.9 283.7h0M479.1 295.2h0M228.8 329.7h0M459.8 329.7h0M275.0 368.1h0M302.0 379.5h0M486.8 264.6h0M440.6 348.9h0M355.9 111.3h0M251.9 352.7h0M328.9 383.4h0M359.7 383.4h0M217.2 180.3h0M201.9 272.3h0M448.2 341.2h0M486.8 226.3h0M425.2 134.3h0M282.7 122.8h0M486.8 233.9h0M471.4 310.6h0M213.4 306.7h0M363.6 111.3h0M255.8 356.6h0M205.7 291.4h0M267.3 130.5h0M456.0 333.6h0M201.9 218.6h0M205.7 207.1h0M290.4 375.7h0M444.4 345.1h0M475.2 191.8h0M405.9 122.8h0M321.2 383.4h0M209.6 195.6h0M452.1 337.4h0M325.1 111.3h0M294.2 119.0h0M305.8 115.1h0M382.8 115.1h0M413.6 368.1h0M467.5 176.5h0"/><path stroke="#007aff" d="M225.0 165.0h0M205.7 199.4h0M228.8 161.1h0M317.4 111.3h0M201.9 279.9h0M482.9 291.4h0M198.0 253.1h0M198.0 260.8h0M471.4 180.3h0M371.2 111.3h0M259.6 360.4h0M221.1 322.1h0M486.8 272.3h0M421.3 130.5h0M236.5 153.5h0M213.4 184.1h0M463.7 325.9h0M448.2 149.6h0M467.5 322.1h0M375.1 383.4h0M278.9 371.9h0M429.0 360.4h0M486.8 218.6h0M209.6 302.9h0M263.5 364.2h0M240.4 149.6h0M398.2 375.7h0M198.0 230.1h0M479.1 195.6h0M444.4 145.8h0M198.0 237.8h0M251.9 138.1h0M198.0 245.4h0M482.9 207.1h0M432.9 356.6h0M201.9 210.9h0M286.6 119.0h0M248.1 142.0h0M452.1 153.5h0M386.7 379.5h0M390.5 115.1h0M217.2 318.2h0M271.2 126.6h0M232.7 157.3h0M244.2 145.8h0M409.8 371.9h0M313.5 383.4h0M475.2 306.7h0M298.1 115.1h0"/><path stroke="#0081ff" d="M336.6 107.5h0M440.6 142.0h0M490.6 253.1h0M394.4 379.5h0M201.9 287.6h0M479.1 302.9h0M348.2 387.2h0M309.7 111.3h0M436.7 138.1h0M332.8 387.2h0M275.0 122.8h0M198.0 268.4h0M344.3 107.5h0M417.5 126.6h0M198.0 276.1h0M486.8 279.9h0M255.8 134.3h0M425.2 364.2h0M486.8 210.9h0M198.0 222.4h0M340.5 387.2h0M282.7 375.7h0M352.0 107.5h0M379.0 111.3h0M294.2 379.5h0M267.3 368.1h0M471.4 318.2h0M213.4 314.4h0M456.0 157.3h0M482.9 199.4h0M240.4 348.9h0M490.6 260.8h0M205.7 299.1h0M459.8 161.1h0M402.1 119.0h0M475.2 184.1h0M328.9 107.5h0M359.7 107.5h0M209.6 187.9h0M236.5 345.1h0M221.1 168.8h0M463.7 165.0h0M490.6 230.1h0M232.7 341.2h0M490.6 237.8h0M355.9 387.2h0M325.1 387.2h0M490.6 245.4h0M305.8 383.4h0"/><path stroke="#0088ff" d="M382.8 383.4h0M413.6 122.8h0M205.7 191.8h0M194.2 233.9h0M225.0 333.6h0M321.2 107.5h0M228.8 337.4h0M302.0 111.3h0M459.8 337.4h0M386.7 111.3h0M482.9 299.1h0M421.3 368.1h0M471.4 172.6h0M213.4 176.5h0M221.1 329.7h0M486.8 287.6h0M259.6 130.5h0M278.9 119.0h0M217.2 172.6h0M198.0 214.8h0M398.2 115.1h0M479.1 187.9h0M209.6 310.6h0M448.2 348.9h0M263.5 126.6h0M429.0 130.5h0M201.9 203.3h0M363.6 387.2h0M490.6 268.4h0M290.4 115.1h0M456.0 341.2h0M194.2 241.6h0M490.6 276.1h0M244.2 352.7h0M194.2 249.3h0M444.4 352.7h0M405.9 375.7h0M317.4 387.2h0M194.2 256.9h0M432.9 134.3h0M271.2 371.9h0M371.2 387.2h0M490.6 222.4h0M452.1 345.1h0M248.1 356.6h0M467.5 168.8h0M475.2 314.4h0M367.4 107.5h0"/><path stroke="#008eff" d="M225.0 157.3h0M228.8 153.5h0M194.2 226.3h0M436.7 360.4h0M201.9 295.2h0M479.1 310.6h0M379.0 387.2h0M352.0 391.0h0M417.5 371.9h0M275.0 375.7h0M205.7 306.7h0M440.6 356.6h0M402.1 379.5h0M355.9 103.6h0M286.6 379.5h0M198.0 283.7h0M344.3 391.0h0M486.8 203.3h0M467.5 329.7h0M251.9 360.4h0M198.0 207.1h0M240.4 142.0h0M348.2 103.6h0M425.2 126.6h0M332.8 103.6h0M482.9 191.8h0M201.9 195.6h0M267.3 122.8h0M255.8 364.2h0M475.2 176.5h0M236.5 145.8h0M375.1 107.5h0M336.6 391.0h0M494.5 233.9h0M209.6 180.3h0M494.5 241.6h0M194.2 264.6h0M340.5 103.6h0M494.5 249.3h0M232.7 149.6h0M309.7 387.2h0M194.2 272.3h0M217.2 325.9h0M494.5 256.9h0M390.5 383.4h0M313.5 107.5h0M490.6 214.8h0M294.2 111.3h0M463.7 333.6h0M486.8 295.2h0M409.8 119.0h0M298.1 383.4h0"/><path stroke="#0095ff" d="M413.6 375.7h0M459.8 153.5h0M494.5 226.3h0M482.9 306.7h0M421.3 122.8h0M490.6 207.1h0M259.6 368.1h0M448.2 142.0h0M198.0 291.4h0M305.8 107.5h0M217.2 165.0h0M328.9 391.0h0M479.1 180.3h0M359.7 391.0h0M282.7 115.1h0M444.4 138.1h0M456.0 149.6h0M363.6 103.6h0M471.4 325.9h0M213.4 322.1h0M432.9 364.2h0M248.1 134.3h0M405.9 115.1h0M452.1 145.8h0M290.4 383.4h0M490.6 283.7h0M321.2 391.0h0M221.1 161.1h0M463.7 157.3h0M494.5 264.6h0M325.1 103.6h0M244.2 138.1h0M494.5 272.3h0M190.3 245.4h0M382.8 107.5h0M394.4 111.3h0M205.7 184.1h0M194.2 218.6h0"/><path stroke="#009cff" d="M278.9 379.5h0M317.4 103.6h0M494.5 218.6h0M225.0 341.2h0M367.4 391.0h0M201.9 302.9h0M228.8 345.1h0M436.7 130.5h0M371.2 103.6h0M213.4 168.8h0M417.5 119.0h0M298.1 107.5h0M467.5 161.1h0M486.8 195.6h0M236.5 352.7h0M429.0 368.1h0M263.5 371.9h0M398.2 383.4h0M251.9 130.5h0M209.6 318.2h0M409.8 379.5h0M190.3 260.8h0M286.6 111.3h0M490.6 291.4h0M271.2 119.0h0M198.0 199.4h0M302.0 387.2h0M386.7 387.2h0M190.3 230.1h0M194.2 279.9h0M190.3 237.8h0M190.3 253.1h0M313.5 391.0h0M194.2 210.9h0M232.7 348.9h0M440.6 134.3h0M475.2 322.1h0"/><path stroke="#00a3ff" d="M309.7 103.6h0M209.6 172.6h0M471.4 165.0h0M348.2 394.9h0M390.5 107.5h0M459.8 345.1h0M479.1 318.2h0M275.0 115.1h0M490.6 199.4h0M498.3 237.8h0M498.3 245.4h0M255.8 126.6h0M205.7 314.4h0M498.3 253.1h0M221.1 337.4h0M198.0 299.1h0M375.1 391.0h0M425.2 371.9h0M217.2 333.6h0M194.2 287.6h0M352.0 99.8h0M379.0 103.6h0M482.9 184.1h0M201.9 187.9h0M340.5 394.9h0M294.2 387.2h0M448.2 356.6h0M267.3 375.7h0M190.3 268.4h0M475.2 168.8h0M402.1 111.3h0M344.3 99.8h0M240.4 356.6h0M456.0 348.9h0M432.9 126.6h0M244.2 360.4h0M190.3 222.4h0M498.3 260.8h0M494.5 279.9h0M452.1 352.7h0M463.7 341.2h0M486.8 302.9h0M336.6 99.8h0"/><path stroke="#00aaff" d="M305.8 391.0h0M382.8 391.0h0M494.5 210.9h0M290.4 107.5h0M498.3 230.1h0M201.9 310.6h0M421.3 375.7h0M482.9 314.4h0M332.8 394.9h0M363.6 394.9h0M440.6 364.2h0M259.6 122.8h0M444.4 360.4h0M467.5 337.4h0M251.9 368.1h0M429.0 122.8h0M282.7 383.4h0M494.5 287.6h0M325.1 394.9h0M471.4 333.6h0M190.3 276.1h0M213.4 329.7h0M394.4 387.2h0M328.9 99.8h0M486.8 187.9h0M359.7 99.8h0M198.0 191.8h0M405.9 383.4h0M232.7 142.0h0M490.6 299.1h0M479.1 172.6h0M194.2 203.3h0M498.3 268.4h0M205.7 176.5h0M248.1 364.2h0M413.6 115.1h0M228.8 145.8h0M355.9 394.9h0"/><path stroke="#00b0ff" d="M494.5 203.3h0M475.2 329.7h0M298.1 391.0h0M321.2 99.8h0M436.7 368.1h0M302.0 103.6h0M386.7 103.6h0M498.3 222.4h0M417.5 379.5h0M255.8 371.9h0M286.6 387.2h0M217.2 157.3h0M367.4 99.8h0M278.9 111.3h0M240.4 134.3h0M398.2 107.5h0M425.2 119.0h0M482.9 176.5h0M194.2 295.2h0M263.5 119.0h0M456.0 142.0h0M209.6 325.9h0M236.5 138.1h0M190.3 283.7h0M317.4 394.9h0M190.3 214.8h0M221.1 153.5h0M271.2 379.5h0M186.5 233.9h0M186.5 241.6h0M186.5 249.3h0M409.8 111.3h0M186.5 256.9h0M371.2 394.9h0M186.5 264.6h0M225.0 149.6h0M498.3 276.1h0M486.8 310.6h0M459.8 145.8h0"/><path stroke="#00b7ff" d="M502.2 241.6h0M248.1 126.6h0M502.2 249.3h0M502.2 256.9h0M471.4 157.3h0M498.3 214.8h0M190.3 207.1h0M213.4 161.1h0M490.6 191.8h0M313.5 99.8h0M479.1 325.9h0M275.0 383.4h0M448.2 134.3h0M259.6 375.7h0M402.1 387.2h0M467.5 153.5h0M205.7 322.1h0M502.2 233.9h0M444.4 130.5h0M201.9 180.3h0M267.3 115.1h0M186.5 272.3h0M494.5 295.2h0M375.1 99.8h0M432.9 371.9h0M452.1 138.1h0M186.5 226.3h0M463.7 149.6h0M294.2 103.6h0M309.7 394.9h0M244.2 130.5h0M390.5 391.0h0M194.2 195.6h0M198.0 306.7h0"/><path stroke="#00beff" d="M498.3 283.7h0M232.7 356.6h0M413.6 383.4h0M209.6 165.0h0M502.2 264.6h0M225.0 348.9h0M186.5 218.6h0M421.3 115.1h0M379.0 394.9h0M228.8 352.7h0M352.0 398.7h0M355.9 96.0h0M201.9 318.2h0M305.8 99.8h0M382.8 99.8h0M440.6 126.6h0M502.2 226.3h0M348.2 96.0h0M490.6 306.7h0M282.7 107.5h0M217.2 341.2h0M236.5 360.4h0M328.9 398.7h0M251.9 122.8h0M332.8 96.0h0M429.0 375.7h0M359.7 398.7h0M498.3 207.1h0M194.2 302.9h0M475.2 161.1h0M405.9 107.5h0M190.3 291.4h0M486.8 180.3h0M198.0 184.1h0M271.2 111.3h0M336.6 398.7h0M340.5 96.0h0M290.4 391.0h0M325.1 96.0h0M482.9 322.1h0M221.1 345.1h0M394.4 103.6h0M344.3 398.7h0M494.5 195.6h0"/><path stroke="#00c5ff" d="M198.0 314.4h0M486.8 318.2h0M182.6 237.8h0M498.3 291.4h0M278.9 387.2h0M182.6 245.4h0M190.3 199.4h0M186.5 210.9h0M436.7 122.8h0M367.4 398.7h0M490.6 184.1h0M502.2 272.3h0M417.5 111.3h0M459.8 352.7h0M471.4 341.2h0M502.2 218.6h0M425.2 379.5h0M467.5 345.1h0M363.6 96.0h0M263.5 379.5h0M398.2 391.0h0M452.1 360.4h0M448.2 364.2h0M409.8 387.2h0M186.5 279.9h0M286.6 103.6h0M213.4 337.4h0M255.8 119.0h0M182.6 253.1h0M240.4 364.2h0M182.6 260.8h0M456.0 356.6h0M244.2 368.1h0M479.1 165.0h0M321.2 398.7h0M302.0 394.9h0M386.7 394.9h0M205.7 168.8h0M463.7 348.9h0M317.4 96.0h0"/><path stroke="#00cbff" d="M182.6 230.1h0M475.2 337.4h0M390.5 99.8h0M232.7 134.3h0M371.2 96.0h0M209.6 333.6h0M275.0 107.5h0M221.1 145.8h0M502.2 279.9h0M259.6 115.1h0M298.1 99.8h0M444.4 368.1h0M375.1 398.7h0M482.9 168.8h0M498.3 199.4h0M506.0 253.1h0M313.5 398.7h0M402.1 103.6h0M267.3 383.4h0M494.5 302.9h0M186.5 287.6h0M432.9 119.0h0M190.3 299.1h0M182.6 268.4h0M201.9 172.6h0M194.2 187.9h0M506.0 237.8h0M506.0 245.4h0M225.0 142.0h0M228.8 138.1h0M248.1 371.9h0"/><path stroke="#00d2ff" d="M309.7 96.0h0M186.5 203.3h0M348.2 402.5h0M421.3 383.4h0M467.5 145.8h0M440.6 371.9h0M217.2 149.6h0M502.2 210.9h0M205.7 329.7h0M413.6 107.5h0M352.0 92.1h0M379.0 96.0h0M490.6 314.4h0M251.9 375.7h0M429.0 115.1h0M456.0 134.3h0M213.4 153.5h0M340.5 402.5h0M282.7 391.0h0M194.2 310.6h0M506.0 260.8h0M294.2 394.9h0M236.5 130.5h0M344.3 92.1h0M486.8 172.6h0M394.4 394.9h0M198.0 176.5h0M240.4 126.6h0M463.7 142.0h0M182.6 276.1h0M405.9 391.0h0M479.1 333.6h0M506.0 230.1h0M336.6 92.1h0M494.5 187.9h0M459.8 138.1h0M182.6 222.4h0"/><path stroke="#00d9ff" d="M290.4 99.8h0M355.9 402.5h0M305.8 398.7h0M498.3 299.1h0M302.0 96.0h0M209.6 157.3h0M471.4 149.6h0M190.3 191.8h0M490.6 176.5h0M436.7 375.7h0M178.8 241.6h0M178.8 249.3h0M255.8 379.5h0M332.8 402.5h0M363.6 402.5h0M278.9 103.6h0M425.2 111.3h0M271.2 387.2h0M263.5 111.3h0M506.0 268.4h0M325.1 402.5h0M448.2 126.6h0M382.8 398.7h0M186.5 295.2h0M452.1 130.5h0M328.9 92.1h0M359.7 92.1h0M398.2 99.8h0M506.0 222.4h0M502.2 287.6h0M244.2 122.8h0M417.5 387.2h0M201.9 325.9h0M482.9 329.7h0M182.6 214.8h0M475.2 153.5h0"/><path stroke="#00e0ff" d="M248.1 119.0h0M321.2 92.1h0M198.0 322.1h0M232.7 364.2h0M486.8 325.9h0M298.1 398.7h0M386.7 96.0h0M178.8 233.9h0M225.0 356.6h0M194.2 180.3h0M178.8 256.9h0M502.2 203.3h0M178.8 264.6h0M367.4 92.1h0M286.6 394.9h0M444.4 122.8h0M498.3 191.8h0M217.2 348.9h0M506.0 276.1h0M494.5 310.6h0M213.4 345.1h0M432.9 379.5h0M190.3 306.7h0M479.1 157.3h0M506.0 214.8h0M317.4 402.5h0M182.6 283.7h0M228.8 360.4h0M409.8 103.6h0M205.7 161.1h0M267.3 107.5h0M221.1 352.7h0M371.2 402.5h0"/><path stroke="#00e7ff" d="M463.7 356.6h0M190.3 184.1h0M413.6 391.0h0M186.5 195.6h0M498.3 306.7h0M313.5 92.1h0M209.6 341.2h0M471.4 348.9h0M275.0 391.0h0M259.6 383.4h0M402.1 394.9h0M178.8 272.3h0M440.6 119.0h0M494.5 180.3h0M251.9 115.1h0M490.6 322.1h0M467.5 352.7h0M236.5 368.1h0M429.0 383.4h0M178.8 226.3h0M421.3 107.5h0M194.2 318.2h0M375.1 92.1h0M509.9 233.9h0M506.0 283.7h0M509.9 241.6h0M509.9 249.3h0M240.4 371.9h0M509.9 256.9h0M456.0 364.2h0M294.2 96.0h0M482.9 161.1h0M282.7 99.8h0M459.8 360.4h0M201.9 165.0h0M502.2 295.2h0M309.7 402.5h0M390.5 398.7h0M182.6 207.1h0"/><path stroke="#00edff" d="M344.3 406.4h0M405.9 99.8h0M475.2 345.1h0M436.7 115.1h0M263.5 387.2h0M221.1 138.1h0M379.0 402.5h0M352.0 406.4h0M502.2 195.6h0M305.8 92.1h0M382.8 92.1h0M217.2 142.0h0M336.6 406.4h0M348.2 88.3h0M205.7 337.4h0M332.8 88.3h0M178.8 218.6h0M452.1 368.1h0M448.2 371.9h0M355.9 88.3h0M509.9 226.3h0M486.8 165.0h0M255.8 111.3h0M198.0 168.8h0M186.5 302.9h0M271.2 103.6h0M340.5 88.3h0M506.0 207.1h0M509.9 264.6h0M290.4 398.7h0M244.2 375.7h0M182.6 291.4h0M479.1 341.2h0M225.0 134.3h0M394.4 96.0h0"/><path stroke="#00f4ff" d="M509.9 218.6h0M186.5 187.9h0M425.2 387.2h0M209.6 149.6h0M174.9 260.8h0M490.6 168.8h0M328.9 406.4h0M278.9 394.9h0M232.7 126.6h0M417.5 103.6h0M463.7 134.3h0M325.1 88.3h0M194.2 172.6h0M467.5 138.1h0M178.8 279.9h0M190.3 314.4h0M174.9 237.8h0M444.4 375.7h0M498.3 184.1h0M174.9 245.4h0M174.9 253.1h0M178.8 210.9h0M213.4 145.8h0M359.7 406.4h0M398.2 398.7h0M409.8 394.9h0M248.1 379.5h0M432.9 111.3h0M494.5 318.2h0M506.0 291.4h0M509.9 272.3h0M321.2 406.4h0M302.0 402.5h0M386.7 402.5h0M182.6 199.4h0M502.2 302.9h0M201.9 333.6h0M363.6 88.3h0M482.9 337.4h0M228.8 130.5h0"/><path stroke="#00fbff" d="M471.4 142.0h0M198.0 329.7h0M486.8 333.6h0M174.9 268.4h0M390.5 92.1h0M371.2 88.3h0M506.0 199.4h0M298.1 92.1h0M421.3 391.0h0M205.7 153.5h0M494.5 172.6h0M174.9 230.1h0M509.9 279.9h0M182.6 299.1h0M251.9 383.4h0M275.0 99.8h0M236.5 122.8h0M402.1 96.0h0M286.6 96.0h0M452.1 122.8h0M267.3 391.0h0M259.6 107.5h0M498.3 314.4h0M479.1 149.6h0M240.4 119.0h0M513.7 245.4h0M367.4 406.4h0M513.7 253.1h0M456.0 126.6h0M475.2 145.8h0M459.8 130.5h0M440.6 379.5h0M317.4 88.3h0M178.8 287.6h0"/><path stroke="#00fffc" d="M190.3 176.5h0M375.1 406.4h0M309.7 88.3h0M502.2 187.9h0M174.9 222.4h0M413.6 99.8h0M490.6 329.7h0M217.2 356.6h0M282.7 398.7h0M294.2 402.5h0M313.5 406.4h0M194.2 325.9h0M513.7 237.8h0M186.5 310.6h0M482.9 153.5h0M201.9 157.3h0M513.7 260.8h0M429.0 107.5h0M509.9 210.9h0M221.1 360.4h0"/><path stroke="#00fff6" d="M174.9 276.1h0M436.7 383.4h0M225.0 364.2h0M209.6 348.9h0M182.6 191.8h0M255.8 387.2h0M506.0 299.1h0M379.0 88.3h0M263.5 103.6h0M271.2 394.9h0M178.8 203.3h0M198.0 161.1h0M448.2 119.0h0M513.7 230.1h0M394.4 402.5h0M213.4 352.7h0M244.2 115.1h0M405.9 398.7h0M228.8 368.1h0"/><path stroke="#00ffef" d="M186.5 180.3h0M463.7 364.2h0M355.9 410.2h0M232.7 371.9h0M467.5 360.4h0M348.2 410.2h0M471.4 356.6h0M174.9 214.8h0M332.8 410.2h0M278.9 96.0h0M425.2 103.6h0M444.4 115.1h0M498.3 176.5h0M352.0 84.5h0M205.7 345.1h0M513.7 268.4h0M509.9 287.6h0M344.3 84.5h0M340.5 410.2h0M486.8 157.3h0M513.7 222.4h0M305.8 406.4h0M382.8 406.4h0M494.5 325.9h0M336.6 84.5h0M502.2 310.6h0M248.1 111.3h0M290.4 92.1h0"/><path stroke="#00ffe8" d="M178.8 295.2h0M302.0 88.3h0M506.0 191.8h0M194.2 165.0h0M432.9 387.2h0M190.3 322.1h0M182.6 306.7h0M236.5 375.7h0M328.9 84.5h0M325.1 410.2h0M359.7 84.5h0M475.2 352.7h0M398.2 92.1h0M409.8 96.0h0M459.8 368.1h0M417.5 394.9h0M479.1 348.9h0M201.9 341.2h0M171.1 241.6h0M509.9 203.3h0M171.1 249.3h0M171.1 256.9h0"/><path stroke="#00ffe2" d="M171.1 264.6h0M386.7 88.3h0M490.6 161.1h0M174.9 283.7h0M440.6 111.3h0M367.4 84.5h0M363.6 410.2h0M240.4 379.5h0M259.6 391.0h0M286.6 402.5h0M513.7 276.1h0M456.0 371.9h0M171.1 233.9h0M267.3 99.8h0M482.9 345.1h0M321.2 84.5h0"/><path stroke="#00ffdb" d="M209.6 142.0h0M513.7 214.8h0M221.1 130.5h0M198.0 337.4h0M217.2 134.3h0M174.9 207.1h0M171.1 226.3h0M402.1 402.5h0M251.9 107.5h0M178.8 195.6h0M213.4 138.1h0M509.9 295.2h0M421.3 99.8h0M429.0 391.0h0M517.6 249.3h0M452.1 375.7h0M502.2 180.3h0M298.1 406.4h0M186.5 318.2h0M498.3 322.1h0M317.4 410.2h0M225.0 126.6h0M275.0 398.7h0M371.2 410.2h0"/><path stroke="#00ffd4" d="M171.1 272.3h0M436.7 107.5h0M413.6 398.7h0M313.5 84.5h0M448.2 379.5h0M182.6 184.1h0M205.7 145.8h0M494.5 165.0h0M506.0 306.7h0M513.7 283.7h0M517.6 241.6h0M517.6 256.9h0M375.1 84.5h0M486.8 341.2h0M294.2 88.3h0M282.7 92.1h0M244.2 383.4h0M228.8 122.8h0M517.6 233.9h0M390.5 406.4h0M190.3 168.8h0"/><path stroke="#00ffce" d="M405.9 92.1h0M178.8 302.9h0M232.7 119.0h0M463.7 126.6h0M263.5 394.9h0M174.9 291.4h0M467.5 130.5h0M171.1 218.6h0M394.4 88.3h0M471.4 134.3h0M490.6 337.4h0M255.8 103.6h0M517.6 264.6h0M194.2 333.6h0M271.2 96.0h0M479.1 142.0h0M201.9 149.6h0M475.2 138.1h0M309.7 410.2h0M509.9 195.6h0"/><path stroke="#00ffc7" d="M344.3 414.0h0M506.0 184.1h0M425.2 394.9h0M340.5 80.7h0M417.5 96.0h0M305.8 84.5h0M379.0 410.2h0M348.2 80.7h0M498.3 168.8h0M336.6 414.0h0M290.4 406.4h0M444.4 383.4h0M236.5 115.1h0M182.6 314.4h0M432.9 103.6h0M248.1 387.2h0M171.1 279.9h0M482.9 145.8h0M456.0 119.0h0M517.6 226.3h0M459.8 122.8h0M502.2 318.2h0M186.5 172.6h0M513.7 207.1h0"/><path stroke="#00ffc0" d="M328.9 414.0h0M278.9 402.5h0M359.7 414.0h0M167.2 245.4h0M398.2 406.4h0M167.2 253.1h0M382.8 84.5h0M494.5 333.6h0M213.4 360.4h0M178.8 187.9h0M190.3 329.7h0M513.7 291.4h0M509.9 302.9h0M486.8 149.6h0M217.2 364.2h0M198.0 153.5h0M355.9 80.7h0M409.8 402.5h0M174.9 199.4h0M517.6 272.3h0M332.8 80.7h0M352.0 414.0h0M440.6 387.2h0"/><path stroke="#00ffba" d="M221.1 368.1h0M205.7 352.7h0M167.2 237.8h0M194.2 157.3h0M325.1 80.7h0M171.1 210.9h0M209.6 356.6h0M321.2 414.0h0M251.9 391.0h0M286.6 88.3h0M502.2 172.6h0M452.1 115.1h0M259.6 99.8h0M267.3 398.7h0M240.4 111.3h0M167.2 260.8h0M225.0 371.9h0M517.6 218.6h0M363.6 80.7h0M302.0 410.2h0M386.7 410.2h0"/><path stroke="#00ffb3" d="M178.8 310.6h0M167.2 230.1h0M467.5 368.1h0M182.6 176.5h0M174.9 299.1h0M298.1 84.5h0M421.3 398.7h0M471.4 364.2h0M506.0 314.4h0M186.5 325.9h0M490.6 153.5h0M275.0 92.1h0M402.1 88.3h0M448.2 111.3h0M517.6 279.9h0M171.1 287.6h0M475.2 360.4h0M498.3 329.7h0M367.4 414.0h0M429.0 99.8h0M167.2 268.4h0M509.9 187.9h0M228.8 375.7h0M317.4 80.7h0M201.9 348.9h0M513.7 199.4h0"/><path stroke="#00ffac" d="M521.4 245.4h0M167.2 222.4h0M521.4 253.1h0M390.5 84.5h0M463.7 371.9h0M232.7 379.5h0M198.0 345.1h0M436.7 391.0h0M282.7 406.4h0M494.5 157.3h0M413.6 92.1h0M190.3 161.1h0M371.2 80.7h0M313.5 414.0h0M244.2 107.5h0M517.6 210.9h0M459.8 375.7h0M479.1 356.6h0M482.9 352.7h0M521.4 237.8h0"/><path stroke="#00ffa6" d="M506.0 176.5h0M375.1 414.0h0M521.4 260.8h0M171.1 203.3h0M255.8 394.9h0M444.4 107.5h0M263.5 96.0h0M405.9 406.4h0M271.2 402.5h0M513.7 299.1h0M236.5 383.4h0M174.9 191.8h0M294.2 410.2h0M486.8 348.9h0M394.4 410.2h0M456.0 379.5h0M167.2 276.1h0M521.4 230.1h0M502.2 325.9h0"/><path stroke="#00ff9f" d="M221.1 122.8h0M194.2 341.2h0M425.2 96.0h0M498.3 161.1h0M432.9 394.9h0M186.5 165.0h0M309.7 80.7h0M213.4 130.5h0M509.9 310.6h0M182.6 322.1h0M490.6 345.1h0M340.5 417.9h0M217.2 126.6h0M521.4 268.4h0M305.8 414.0h0M517.6 287.6h0M178.8 180.3h0M379.0 80.7h0M417.5 402.5h0M248.1 103.6h0M209.6 134.3h0"/><path stroke="#00ff98" d="M167.2 214.8h0M355.9 417.9h0M205.7 138.1h0M225.0 119.0h0M348.2 417.9h0M440.6 103.6h0M278.9 88.3h0M332.8 417.9h0M352.0 76.8h0M240.4 387.2h0M259.6 398.7h0M190.3 337.4h0M344.3 76.8h0M452.1 383.4h0M163.4 249.3h0M382.8 414.0h0M171.1 295.2h0M201.9 142.0h0M517.6 203.3h0M174.9 306.7h0M336.6 76.8h0M521.4 222.4h0M513.7 191.8h0M290.4 84.5h0"/><path stroke="#00ff92" d="M178.8 318.2h0M467.5 122.8h0M448.2 387.2h0M494.5 341.2h0M251.9 99.8h0M363.6 417.9h0M471.4 126.6h0M506.0 322.1h0M286.6 410.2h0M302.0 80.7h0M429.0 398.7h0M328.9 76.8h0M163.4 233.9h0M359.7 76.8h0M163.4 241.6h0M479.1 134.3h0M325.1 417.9h0M163.4 256.9h0M398.2 84.5h0M521.4 276.1h0M409.8 88.3h0M509.9 180.3h0M475.2 130.5h0M267.3 92.1h0M228.8 115.1h0M167.2 283.7h0M275.0 406.4h0M198.0 145.8h0"/><path stroke="#00ff8b" d="M386.7 80.7h0M463.7 119.0h0M171.1 195.6h0M182.6 168.8h0M521.4 214.8h0M517.6 295.2h0M402.1 410.2h0M186.5 333.6h0M421.3 92.1h0M502.2 165.0h0M174.9 184.1h0M513.7 306.7h0M298.1 414.0h0M413.6 406.4h0M482.9 138.1h0M163.4 264.6h0M498.3 337.4h0M317.4 417.9h0M244.2 391.0h0M486.8 142.0h0M321.2 76.8h0M167.2 207.1h0"/><path stroke="#00ff84" d="M371.2 417.9h0M232.7 111.3h0M205.7 360.4h0M194.2 149.6h0M263.5 402.5h0M525.2 241.6h0M367.4 76.8h0M209.6 364.2h0M213.4 368.1h0M436.7 99.8h0M444.4 391.0h0M390.5 414.0h0M217.2 371.9h0M521.4 283.7h0M171.1 302.9h0M163.4 272.3h0M525.2 249.3h0M525.2 256.9h0M459.8 115.1h0M163.4 226.3h0"/><path stroke="#00ff7e" d="M506.0 168.8h0M221.1 375.7h0M425.2 402.5h0M313.5 76.8h0M525.2 233.9h0M190.3 153.5h0M490.6 145.8h0M236.5 107.5h0M255.8 96.0h0M509.9 318.2h0M182.6 329.7h0M502.2 333.6h0M248.1 394.9h0M517.6 195.6h0M282.7 84.5h0M456.0 111.3h0M225.0 379.5h0M174.9 314.4h0M525.2 264.6h0M167.2 291.4h0M309.7 417.9h0M201.9 356.6h0"/><path stroke="#00ff77" d="M440.6 394.9h0M344.3 421.7h0M278.9 410.2h0M525.2 226.3h0M294.2 80.7h0M467.5 375.7h0M494.5 149.6h0M521.4 207.1h0M379.0 417.9h0M471.4 371.9h0M290.4 414.0h0M375.1 76.8h0M432.9 96.0h0M271.2 88.3h0M178.8 172.6h0M198.0 352.7h0M475.2 368.1h0M513.7 184.1h0M228.8 383.4h0M163.4 218.6h0M479.1 364.2h0M482.9 360.4h0M405.9 84.5h0"/><path stroke="#00ff70" d="M417.5 88.3h0M463.7 379.5h0M171.1 187.9h0M251.9 398.7h0M328.9 421.7h0M359.7 421.7h0M398.2 414.0h0M394.4 80.7h0M194.2 348.9h0M186.5 157.3h0M517.6 302.9h0M167.2 199.4h0M163.4 279.9h0M336.6 421.7h0M409.8 410.2h0M240.4 103.6h0M267.3 406.4h0M486.8 356.6h0M521.4 291.4h0M352.0 421.7h0M525.2 272.3h0M452.1 107.5h0"/><path stroke="#00ff6a" d="M340.5 73.0h0M525.2 218.6h0M178.8 325.9h0M513.7 314.4h0M305.8 76.8h0M436.7 398.7h0M509.9 172.6h0M421.3 406.4h0M506.0 329.7h0M159.5 253.1h0M190.3 345.1h0M321.2 421.7h0M159.5 260.8h0M259.6 92.1h0M490.6 352.7h0M498.3 153.5h0M348.2 73.0h0M232.7 387.2h0M159.5 237.8h0M159.5 245.4h0M459.8 383.4h0M163.4 210.9h0M302.0 417.9h0M386.7 417.9h0M167.2 299.1h0"/><path stroke="#00ff63" d="M182.6 161.1h0M244.2 99.8h0M382.8 76.8h0M521.4 199.4h0M255.8 402.5h0M494.5 348.9h0M163.4 287.6h0M456.0 387.2h0M448.2 103.6h0M174.9 176.5h0M355.9 73.0h0M236.5 391.0h0M429.0 92.1h0M332.8 73.0h0M171.1 310.6h0M159.5 230.1h0M367.4 421.7h0M525.2 279.9h0"/><path stroke="#00ff5c" d="M375.1 421.7h0M517.6 187.9h0M325.1 73.0h0M205.7 130.5h0M509.9 325.9h0M282.7 414.0h0M209.6 126.6h0M432.9 402.5h0M213.4 122.8h0M186.5 341.2h0M405.9 414.0h0M275.0 84.5h0M271.2 410.2h0M502.2 157.3h0M286.6 80.7h0M159.5 268.4h0M217.2 119.0h0M294.2 417.9h0M313.5 421.7h0M529.1 245.4h0M452.1 391.0h0M529.1 253.1h0M201.9 134.3h0M363.6 73.0h0M498.3 345.1h0"/><path stroke="#00ff56" d="M221.1 115.1h0M525.2 210.9h0M298.1 76.8h0M413.6 84.5h0M529.1 260.8h0M167.2 191.8h0M517.6 310.6h0M240.4 394.9h0M402.1 80.7h0M159.5 276.1h0M529.1 237.8h0M444.4 99.8h0M394.4 417.9h0M159.5 222.4h0M521.4 299.1h0M513.7 176.5h0M163.4 203.3h0M174.9 322.1h0M198.0 138.1h0M417.5 410.2h0"/><path stroke="#00ff4f" d="M390.5 76.8h0M479.1 126.6h0M171.1 180.3h0M194.2 142.0h0M205.7 368.1h0M225.0 111.3h0M448.2 394.9h0M317.4 73.0h0M209.6 371.9h0M529.1 268.4h0M263.5 88.3h0M471.4 119.0h0M163.4 295.2h0M371.2 73.0h0M167.2 306.7h0M529.1 230.1h0M182.6 337.4h0M502.2 341.2h0M340.5 425.5h0M482.9 130.5h0M178.8 165.0h0M305.8 421.7h0M475.2 122.8h0M348.2 425.5h0M486.8 134.3h0M248.1 96.0h0M506.0 161.1h0M525.2 287.6h0M259.6 406.4h0"/><path stroke="#00ff48" d="M201.9 364.2h0M355.9 425.5h0M467.5 115.1h0M521.4 191.8h0M217.2 379.5h0M513.7 322.1h0M440.6 96.0h0M228.8 107.5h0M425.2 88.3h0M190.3 145.8h0M490.6 138.1h0M332.8 425.5h0M213.4 375.7h0M286.6 417.9h0M529.1 222.4h0M429.0 406.4h0M159.5 214.8h0M382.8 421.7h0M198.0 360.4h0M171.1 318.2h0M244.2 398.7h0"/><path stroke="#00ff42" d="M525.2 203.3h0M463.7 111.3h0M221.1 383.4h0M494.5 142.0h0M509.9 165.0h0M278.9 80.7h0M194.2 356.6h0M529.1 276.1h0M309.7 73.0h0M363.6 425.5h0M402.1 417.9h0M155.7 241.6h0M506.0 337.4h0M155.7 249.3h0M444.4 398.7h0M155.7 256.9h0M482.9 368.1h0M159.5 283.7h0M325.1 425.5h0M413.6 414.0h0M379.0 73.0h0M178.8 333.6h0M475.2 375.7h0M275.0 414.0h0M479.1 371.9h0"/><path stroke="#00ff3b" d="M232.7 103.6h0M371.2 425.5h0M517.6 180.3h0M409.8 80.7h0M467.5 383.4h0M490.6 360.4h0M263.5 410.2h0M459.8 107.5h0M186.5 149.6h0M471.4 379.5h0M155.7 233.9h0M317.4 425.5h0M344.3 69.2h0M174.9 168.8h0M190.3 352.7h0M155.7 264.6h0M390.5 421.7h0M525.2 295.2h0M498.3 145.8h0M248.1 402.5h0M298.1 421.7h0M251.9 92.1h0M486.8 364.2h0M267.3 84.5h0M521.4 306.7h0M163.4 195.6h0M225.0 387.2h0M290.4 76.8h0"/><path stroke="#00ff34" d="M440.6 402.5h0M425.2 410.2h0M509.9 333.6h0M167.2 184.1h0M352.0 69.2h0M155.7 226.3h0M529.1 283.7h0M494.5 356.6h0M517.6 318.2h0M436.7 92.1h0M186.5 348.9h0M163.4 302.9h0M529.1 214.8h0M398.2 76.8h0M159.5 207.1h0M463.7 387.2h0M336.6 69.2h0M174.9 329.7h0M228.8 391.0h0"/><path stroke="#00ff2e" d="M182.6 153.5h0M251.9 406.4h0M278.9 417.9h0M379.0 425.5h0M302.0 73.0h0M386.7 73.0h0M533.0 241.6h0M290.4 421.7h0M533.0 249.3h0M421.3 84.5h0M502.2 149.6h0M533.0 256.9h0M328.9 69.2h0M155.7 272.3h0M359.7 69.2h0M167.2 314.4h0M159.5 291.4h0M456.0 103.6h0M232.7 394.9h0M513.7 168.8h0M236.5 99.8h0M498.3 352.7h0M459.8 391.0h0M309.7 425.5h0"/><path stroke="#00ff27" d="M525.2 195.6h0M344.3 429.4h0M521.4 184.1h0M398.2 421.7h0M182.6 345.1h0M367.4 69.2h0M513.7 329.7h0M267.3 414.0h0M533.0 233.9h0M336.6 429.4h0M171.1 172.6h0M255.8 88.3h0M533.0 264.6h0M525.2 302.9h0M502.2 348.9h0M409.8 417.9h0M155.7 218.6h0M436.7 406.4h0M321.2 69.2h0M352.0 429.4h0"/><path stroke="#00ff20" d="M328.9 429.4h0M155.7 279.9h0M236.5 398.7h0M529.1 291.4h0M456.0 394.9h0M240.4 96.0h0M178.8 157.3h0M282.7 76.8h0M533.0 226.3h0M171.1 325.9h0M521.4 314.4h0M529.1 207.1h0M506.0 153.5h0M452.1 99.8h0M421.3 414.0h0M302.0 425.5h0"/><path stroke="#00ff1a" d="M271.2 80.7h0M201.9 126.6h0M159.5 199.4h0M205.7 122.8h0M359.7 429.4h0M209.6 119.0h0M386.7 425.5h0M533.0 272.3h0M163.4 187.9h0M432.9 88.3h0"/><path stroke="#00ff13" d="M517.6 172.6h0M313.5 69.2h0M294.2 73.0h0M151.8 253.1h0M213.4 115.1h0M255.8 410.2h0M417.5 80.7h0M506.0 345.1h0M163.4 310.6h0M375.1 69.2h0M321.2 429.4h0M151.8 245.4h0M159.5 299.1h0M452.1 398.7h0M178.8 341.2h0M367.4 429.4h0M198.0 130.5h0M405.9 76.8h0"/><path stroke="#00ff0c" d="M201.9 371.9h0M205.7 375.7h0M509.9 157.3h0M155.7 287.6h0M394.4 73.0h0M282.7 421.7h0M167.2 176.5h0M151.8 260.8h0M432.9 410.2h0M240.4 402.5h0M517.6 325.9h0M194.2 134.3h0M174.9 161.1h0M448.2 96.0h0M217.2 111.3h0M151.8 237.8h0M155.7 210.9h0M533.0 218.6h0M209.6 379.5h0"/><path stroke="#00ff06" d="M479.1 119.0h0M244.2 92.1h0M190.3 138.1h0M194.2 364.2h0M213.4 383.4h0M405.9 421.7h0M271.2 417.9h0M259.6 84.5h0M533.0 279.9h0M167.2 322.1h0M482.9 122.8h0M294.2 425.5h0M313.5 429.4h0M198.0 368.1h0M486.8 126.6h0"/><path stroke="#01ff00" d="M375.1 429.4h0M305.8 69.2h0M217.2 387.2h0M509.9 341.2h0M448.2 402.5h0M490.6 130.5h0M151.8 268.4h0M525.2 187.9h0M529.1 299.1h0M151.8 230.1h0M525.2 310.6h0M429.0 84.5h0M475.2 115.1h0M394.4 425.5h0M529.1 199.4h0M417.5 417.9h0M174.9 337.4h0M221.1 107.5h0"/><path stroke="#08ff00" d="M259.6 414.0h0M340.5 65.3h0M221.1 391.0h0M190.3 360.4h0M494.5 134.3h0M382.8 69.2h0M490.6 368.1h0M186.5 142.0h0M471.4 111.3h0M244.2 406.4h0M479.1 379.5h0M482.9 375.7h0M348.2 65.3h0M444.4 92.1h0M486.8 371.9h0M475.2 383.4h0M536.8 245.4h0M536.8 253.1h0"/><path stroke="#0eff00" d="M159.5 191.8h0M521.4 176.5h0M225.0 103.6h0M533.0 287.6h0M513.7 161.1h0M429.0 414.0h0M159.5 306.7h0M151.8 276.1h0M171.1 165.0h0M275.0 76.8h0M494.5 364.2h0M186.5 356.6h0M521.4 322.1h0M355.9 65.3h0M467.5 107.5h0M151.8 222.4h0M536.8 260.8h0M498.3 138.1h0M533.0 210.9h0M332.8 65.3h0M305.8 429.4h0M536.8 237.8h0M286.6 73.0h0M471.4 387.2h0"/><path stroke="#15ff00" d="M444.4 406.4h0M325.1 65.3h0M155.7 295.2h0M340.5 433.2h0M513.7 337.4h0M171.1 333.6h0M182.6 145.8h0M498.3 360.4h0M155.7 203.3h0M382.8 429.4h0M163.4 180.3h0M248.1 88.3h0M348.2 433.2h0M225.0 394.9h0"/><path stroke="#1cff00" d="M463.7 103.6h0M286.6 425.5h0M355.9 433.2h0M228.8 99.8h0M467.5 391.0h0M413.6 76.8h0M182.6 352.7h0M502.2 142.0h0M163.4 318.2h0M536.8 268.4h0M263.5 80.7h0M363.6 65.3h0M536.8 230.1h0M402.1 73.0h0M332.8 433.2h0M275.0 421.7h0"/><path stroke="#22ff00" d="M390.5 69.2h0M402.1 425.5h0M298.1 69.2h0M440.6 88.3h0M263.5 417.9h0M151.8 283.7h0M363.6 433.2h0M151.8 214.8h0M178.8 149.6h0M502.2 356.6h0M248.1 410.2h0M325.1 433.2h0M463.7 394.9h0M413.6 421.7h0M529.1 191.8h0M228.8 398.7h0"/><path stroke="#29ff00" d="M517.6 165.0h0M440.6 410.2h0M529.1 306.7h0M148.0 249.3h0M459.8 99.8h0M167.2 168.8h0M533.0 295.2h0M317.4 65.3h0M506.0 145.8h0M371.2 65.3h0M517.6 333.6h0M536.8 276.1h0M425.2 80.7h0M533.0 203.3h0M298.1 429.4h0M178.8 348.9h0M536.8 222.4h0"/><path stroke="#30ff00" d="M506.0 352.7h0M148.0 241.6h0M425.2 417.9h0M148.0 256.9h0M525.2 180.3h0M317.4 433.2h0M390.5 429.4h0M371.2 433.2h0M167.2 329.7h0M525.2 318.2h0M232.7 402.5h0M459.8 398.7h0M232.7 96.0h0"/><path stroke="#36ff00" d="M159.5 184.1h0M148.0 233.9h0M251.9 414.0h0M148.0 264.6h0M155.7 302.9h0M159.5 314.4h0M278.9 73.0h0M155.7 195.6h0M251.9 84.5h0M174.9 153.5h0"/><path stroke="#3dff00" d="M174.9 345.1h0M509.9 149.6h0M509.9 348.9h0M309.7 65.3h0M436.7 84.5h0M151.8 291.4h0M151.8 207.1h0M456.0 402.5h0M309.7 433.2h0M536.8 283.7h0M456.0 96.0h0M379.0 65.3h0M278.9 425.5h0M267.3 76.8h0M536.8 214.8h0M290.4 69.2h0"/><path stroke="#43ff00" d="M201.9 119.0h0M148.0 226.3h0M205.7 115.1h0M521.4 168.8h0M409.8 73.0h0M163.4 172.6h0M236.5 406.4h0M267.3 421.7h0M194.2 126.6h0M290.4 429.4h0M521.4 329.7h0M398.2 69.2h0M201.9 379.5h0M540.7 241.6h0M409.8 425.5h0M540.7 249.3h0M540.7 256.9h0M236.5 92.1h0M198.0 375.7h0M198.0 122.8h0M436.7 414.0h0M148.0 272.3h0M379.0 433.2h0"/><path stroke="#4aff00" d="M540.7 233.9h0M205.7 383.4h0M163.4 325.9h0M513.7 153.5h0M190.3 130.5h0M398.2 429.4h0M533.0 302.9h0M209.6 111.3h0M194.2 371.9h0M171.1 157.3h0M421.3 76.8h0M344.3 61.5h0M533.0 195.6h0M540.7 264.6h0M336.6 61.5h0M209.6 387.2h0M421.3 421.7h0"/><path stroke="#51ff00" d="M255.8 417.9h0M529.1 314.4h0M344.3 437.0h0M190.3 368.1h0M186.5 134.3h0M452.1 406.4h0M513.7 345.1h0M302.0 65.3h0M213.4 391.0h0M336.6 437.0h0M148.0 218.6h0M255.8 80.7h0M171.1 341.2h0M352.0 61.5h0M213.4 107.5h0M529.1 184.1h0M452.1 92.1h0M148.0 279.9h0M352.0 437.0h0"/><path stroke="#57ff00" d="M482.9 115.1h0M540.7 226.3h0M536.8 207.1h0M328.9 437.0h0M359.7 437.0h0M490.6 375.7h0M490.6 122.8h0M155.7 310.6h0M386.7 65.3h0M240.4 410.2h0M151.8 199.4h0M494.5 371.9h0M494.5 126.6h0M186.5 364.2h0M328.9 61.5h0M217.2 103.6h0M302.0 433.2h0M386.7 433.2h0M240.4 88.3h0M155.7 187.9h0M482.9 383.4h0M536.8 291.4h0M540.7 272.3h0M486.8 119.0h0M486.8 379.5h0M479.1 111.3h0M359.7 61.5h0"/><path stroke="#5eff00" d="M151.8 299.1h0M217.2 394.9h0M182.6 360.4h0M321.2 61.5h0M525.2 172.6h0M182.6 138.1h0M432.9 417.9h0M498.3 368.1h0M321.2 437.0h0M498.3 130.5h0M479.1 387.2h0M525.2 325.9h0M475.2 107.5h0M475.2 391.0h0M432.9 80.7h0M517.6 157.3h0"/><path stroke="#65ff00" d="M144.1 253.1h0M517.6 341.2h0M167.2 161.1h0M367.4 61.5h0M282.7 429.4h0M448.2 410.2h0M159.5 322.1h0M144.1 245.4h0M148.0 210.9h0M448.2 88.3h0M271.2 425.5h0M282.7 69.2h0M167.2 337.4h0M502.2 364.2h0M221.1 398.7h0M502.2 134.3h0M367.4 437.0h0M148.0 287.6h0M221.1 99.8h0M271.2 73.0h0M159.5 176.5h0"/><path stroke="#6bff00" d="M417.5 425.5h0M471.4 394.9h0M540.7 218.6h0M144.1 260.8h0M313.5 61.5h0M244.2 84.5h0M294.2 65.3h0M471.4 103.6h0M294.2 433.2h0M533.0 310.6h0M144.1 237.8h0M417.5 73.0h0M259.6 76.8h0M405.9 429.4h0M244.2 414.0h0M178.8 142.0h0M533.0 187.9h0M178.8 356.6h0M540.7 279.9h0M405.9 69.2h0"/><path stroke="#72ff00" d="M259.6 421.7h0M144.1 268.4h0M506.0 360.4h0M225.0 96.0h0M536.8 199.4h0M375.1 437.0h0M394.4 65.3h0M467.5 398.7h0M506.0 138.1h0M144.1 230.1h0M375.1 61.5h0M467.5 99.8h0M313.5 437.0h0M536.8 299.1h0M394.4 433.2h0M225.0 402.5h0"/><path stroke="#79ff00" d="M174.9 352.7h0M151.8 306.7h0M544.5 245.4h0M444.4 414.0h0M529.1 322.1h0M163.4 165.0h0M544.5 253.1h0M163.4 333.6h0M429.0 421.7h0M521.4 161.1h0M521.4 337.4h0M444.4 84.5h0M429.0 76.8h0M529.1 176.5h0M174.9 145.8h0M151.8 191.8h0"/><path stroke="#7fff00" d="M540.7 210.9h0M228.8 406.4h0M509.9 142.0h0M144.1 276.1h0M544.5 237.8h0M305.8 61.5h0M228.8 92.1h0M544.5 260.8h0M144.1 222.4h0M509.9 356.6h0M155.7 318.2h0M148.0 203.3h0M540.7 287.6h0M155.7 180.3h0M463.7 402.5h0M305.8 437.0h0M148.0 295.2h0M463.7 96.0h0"/><path stroke="#86ff00" d="M340.5 57.7h0M275.0 429.4h0M544.5 230.1h0M382.8 61.5h0M340.5 440.9h0M171.1 149.6h0M275.0 69.2h0M171.1 348.9h0M348.2 57.7h0M248.1 417.9h0M382.8 437.0h0M544.5 268.4h0M248.1 80.7h0M286.6 65.3h0M348.2 440.9h0"/><path stroke="#8dff00" d="M459.8 406.4h0M332.8 440.9h0M402.1 433.2h0M440.6 417.9h0M286.6 433.2h0M513.7 145.8h0M440.6 80.7h0M459.8 92.1h0M413.6 69.2h0M263.5 425.5h0M525.2 165.0h0M513.7 352.7h0M355.9 57.7h0M263.5 73.0h0M332.8 57.7h0M525.2 333.6h0M355.9 440.9h0M413.6 429.4h0M402.1 65.3h0"/><path stroke="#93ff00" d="M533.0 180.3h0M201.9 111.3h0M544.5 222.4h0M363.6 440.9h0M325.1 57.7h0M536.8 191.8h0M144.1 283.7h0M425.2 425.5h0M144.1 214.8h0M533.0 318.2h0M325.1 440.9h0M159.5 329.7h0M194.2 119.0h0M194.2 379.5h0M540.7 295.2h0M425.2 73.0h0M201.9 387.2h0M363.6 57.7h0M536.8 306.7h0M232.7 410.2h0M198.0 115.1h0M544.5 276.1h0M198.0 383.4h0M232.7 88.3h0M159.5 168.8h0M540.7 203.3h0"/><path stroke="#9aff00" d="M205.7 107.5h0M298.1 61.5h0M517.6 348.9h0M186.5 371.9h0M205.7 391.0h0M186.5 126.6h0M190.3 375.7h0M190.3 122.8h0M390.5 61.5h0M140.3 241.6h0M140.3 249.3h0M140.3 256.9h0M167.2 153.5h0M390.5 437.0h0M167.2 345.1h0M298.1 437.0h0M517.6 149.6h0"/><path stroke="#a0ff00" d="M148.0 302.9h0M151.8 314.4h0M251.9 421.7h0M317.4 57.7h0M209.6 103.6h0M182.6 368.1h0M148.0 195.6h0M371.2 57.7h0M182.6 130.5h0M140.3 233.9h0M317.4 440.9h0M456.0 410.2h0M140.3 264.6h0M456.0 88.3h0M251.9 76.8h0M371.2 440.9h0M236.5 84.5h0M151.8 184.1h0M209.6 394.9h0"/><path stroke="#a7ff00" d="M482.9 107.5h0M544.5 214.8h0M144.1 291.4h0M529.1 329.7h0M144.1 207.1h0M490.6 115.1h0M236.5 414.0h0M490.6 383.4h0M436.7 76.8h0M494.5 119.0h0M213.4 398.7h0M494.5 379.5h0M498.3 375.7h0M498.3 122.8h0M278.9 65.3h0M482.9 391.0h0M213.4 99.8h0M529.1 168.8h0M486.8 111.3h0M278.9 433.2h0M544.5 283.7h0M486.8 387.2h0M436.7 421.7h0M155.7 325.9h0M155.7 172.6h0"/><path stroke="#aeff00" d="M409.8 65.3h0M163.4 157.3h0M163.4 341.2h0M309.7 57.7h0M409.8 433.2h0M452.1 414.0h0M267.3 429.4h0M521.4 153.5h0M290.4 437.0h0M178.8 134.3h0M521.4 345.1h0M309.7 440.9h0M140.3 272.3h0M479.1 394.9h0M502.2 371.9h0M267.3 69.2h0M502.2 126.6h0M290.4 61.5h0M140.3 226.3h0M452.1 84.5h0M178.8 364.2h0M479.1 103.6h0M548.4 249.3h0"/><path stroke="#b4ff00" d="M421.3 429.4h0M536.8 184.1h0M475.2 99.8h0M506.0 368.1h0M506.0 130.5h0M398.2 437.0h0M217.2 402.5h0M536.8 314.4h0M421.3 69.2h0M217.2 96.0h0M540.7 302.9h0M398.2 61.5h0M174.9 360.4h0M379.0 57.7h0M174.9 138.1h0M475.2 398.7h0M548.4 241.6h0M540.7 195.6h0M379.0 440.9h0M548.4 256.9h0"/><path stroke="#bbff00" d="M548.4 264.6h0M255.8 425.5h0M509.9 134.3h0M548.4 233.9h0M221.1 92.1h0M509.9 364.2h0M544.5 207.1h0M255.8 73.0h0M240.4 417.9h0M240.4 80.7h0M140.3 279.9h0M140.3 218.6h0M544.5 291.4h0"/><path stroke="#c2ff00" d="M148.0 310.6h0M548.4 272.3h0M471.4 402.5h0M344.3 444.7h0M144.1 199.4h0M336.6 53.8h0M471.4 96.0h0M525.2 157.3h0M548.4 226.3h0M302.0 57.7h0M171.1 142.0h0M148.0 187.9h0M448.2 417.9h0M533.0 325.9h0M525.2 341.2h0M159.5 337.4h0M344.3 53.8h0M432.9 425.5h0M336.6 444.7h0M171.1 356.6h0M302.0 440.9h0M352.0 53.8h0M221.1 406.4h0M144.1 299.1h0M448.2 80.7h0M432.9 73.0h0M159.5 161.1h0M533.0 172.6h0M352.0 444.7h0"/><path stroke="#c8ff00" d="M513.7 138.1h0M151.8 322.1h0M328.9 444.7h0M359.7 444.7h0M386.7 57.7h0M513.7 360.4h0M386.7 440.9h0M151.8 176.5h0M328.9 53.8h0M359.7 53.8h0"/><path stroke="#cfff00" d="M244.2 76.8h0M225.0 88.3h0M271.2 433.2h0M321.2 53.8h0M467.5 406.4h0M140.3 287.6h0M282.7 437.0h0M467.5 92.1h0M244.2 421.7h0M282.7 61.5h0M136.4 245.4h0M136.4 253.1h0M140.3 210.9h0M271.2 65.3h0M225.0 410.2h0"/><path stroke="#d6ff00" d="M548.4 279.9h0M259.6 429.4h0M517.6 356.6h0M529.1 337.4h0M548.4 218.6h0M167.2 352.7h0M136.4 260.8h0M417.5 65.3h0M259.6 69.2h0M167.2 145.8h0M405.9 437.0h0M540.7 310.6h0M321.2 444.7h0M367.4 53.8h0M417.5 433.2h0M136.4 237.8h0M529.1 161.1h0M405.9 61.5h0M540.7 187.9h0M367.4 444.7h0M517.6 142.0h0"/><path stroke="#dcff00" d="M294.2 57.7h0M536.8 176.5h0M444.4 421.7h0M294.2 440.9h0M544.5 199.4h0M536.8 322.1h0M444.4 76.8h0M463.7 410.2h0M155.7 165.0h0M544.5 299.1h0M463.7 88.3h0M155.7 333.6h0"/><path stroke="#e3ff00" d="M313.5 53.8h0M228.8 84.5h0M394.4 57.7h0M429.0 429.4h0M136.4 268.4h0M394.4 440.9h0M144.1 191.8h0M228.8 414.0h0M136.4 230.1h0M429.0 69.2h0M313.5 444.7h0M144.1 306.7h0"/><path stroke="#e9ff00" d="M194.2 387.2h0M148.0 318.2h0M163.4 149.6h0M186.5 379.5h0M190.3 115.1h0M375.1 444.7h0M548.4 210.9h0M190.3 383.4h0M163.4 348.9h0M148.0 180.3h0M194.2 111.3h0M552.2 245.4h0M521.4 145.8h0M552.2 253.1h0M186.5 119.0h0M521.4 352.7h0M548.4 287.6h0M198.0 107.5h0M375.1 53.8h0M198.0 391.0h0"/><path stroke="#f0ff00" d="M459.8 84.5h0M248.1 73.0h0M140.3 295.2h0M182.6 375.7h0M182.6 122.8h0M552.2 237.8h0M248.1 425.5h0M136.4 276.1h0M552.2 260.8h0M459.8 414.0h0M136.4 222.4h0M201.9 394.9h0M140.3 203.3h0M201.9 103.6h0"/><path stroke="#f7ff00" d="M275.0 437.0h0M205.7 398.7h0M232.7 80.7h0M275.0 61.5h0M205.7 99.8h0M494.5 111.3h0M305.8 53.8h0M305.8 444.7h0M232.7 417.9h0M178.8 371.9h0M533.0 165.0h0M178.8 126.6h0M533.0 333.6h0"/><path stroke="#fdff00" d="M209.6 402.5h0M552.2 268.4h0M382.8 53.8h0M494.5 387.2h0M286.6 440.9h0M413.6 61.5h0M151.8 329.7h0M209.6 96.0h0M525.2 149.6h0M544.5 191.8h0M490.6 391.0h0M552.2 230.1h0M525.2 348.9h0M382.8 444.7h0M159.5 345.1h0M486.8 394.9h0M498.3 115.1h0M440.6 73.0h0M498.3 383.4h0M490.6 107.5h0M263.5 65.3h0M440.6 425.5h0M151.8 168.8h0M502.2 119.0h0M486.8 103.6h0M502.2 379.5h0M413.6 437.0h0M286.6 57.7h0M159.5 153.5h0M263.5 433.2h0M544.5 306.7h0"/><path stroke="#fffa00" d="M332.8 448.5h0M456.0 80.7h0M402.1 440.9h0M506.0 375.7h0M506.0 122.8h0M540.7 180.3h0M340.5 448.5h0M136.4 283.7h0M456.0 417.9h0M425.2 65.3h0M136.4 214.8h0M348.2 50.0h0M540.7 318.2h0M174.9 368.1h0M332.8 50.0h0M482.9 398.7h0M174.9 130.5h0M402.1 57.7h0M348.2 448.5h0M340.5 50.0h0M482.9 99.8h0"/><path stroke="#fff300" d="M509.9 126.6h0M213.4 406.4h0M552.2 276.1h0M548.4 203.3h0M552.2 222.4h0M509.9 371.9h0M355.9 50.0h0M213.4 92.1h0M548.4 295.2h0M355.9 448.5h0M425.2 433.2h0"/><path stroke="#ffec00" d="M536.8 168.8h0M325.1 50.0h0M363.6 448.5h0M251.9 429.4h0M132.6 249.3h0M171.1 134.3h0M236.5 421.7h0M140.3 302.9h0M325.1 448.5h0M298.1 53.8h0M144.1 184.1h0M171.1 364.2h0M251.9 69.2h0M479.1 402.5h0M363.6 50.0h0M140.3 195.6h0M236.5 76.8h0M298.1 444.7h0M144.1 314.4h0M479.1 96.0h0"/><path stroke="#ffe600" d="M513.7 368.1h0M155.7 341.2h0M513.7 130.5h0M529.1 153.5h0M132.6 241.6h0M529.1 345.1h0M132.6 256.9h0M390.5 53.8h0M536.8 329.7h0M390.5 444.7h0M155.7 157.3h0"/><path stroke="#ffdf00" d="M475.2 92.1h0M132.6 233.9h0M317.4 50.0h0M148.0 172.6h0M436.7 69.2h0M217.2 410.2h0M132.6 264.6h0M167.2 360.4h0M452.1 421.7h0M217.2 88.3h0M475.2 406.4h0M167.2 138.1h0M317.4 448.5h0M148.0 325.9h0M452.1 76.8h0M436.7 429.4h0"/><path stroke="#ffd800" d="M267.3 61.5h0M552.2 283.7h0M517.6 364.2h0M552.2 214.8h0M517.6 134.3h0M371.2 50.0h0M267.3 437.0h0M136.4 291.4h0M278.9 57.7h0M136.4 207.1h0M371.2 448.5h0M278.9 440.9h0"/><path stroke="#ffd100" d="M471.4 410.2h0M544.5 184.1h0M221.1 84.5h0M132.6 272.3h0M132.6 226.3h0M544.5 314.4h0M471.4 88.3h0M221.1 414.0h0"/><path stroke="#ffcb00" d="M533.0 341.2h0M421.3 437.0h0M163.4 142.0h0M255.8 433.2h0M409.8 57.7h0M240.4 425.5h0M548.4 195.6h0M556.1 241.6h0M556.1 249.3h0M290.4 53.8h0M556.1 256.9h0M309.7 50.0h0M163.4 356.6h0M409.8 440.9h0M290.4 444.7h0M309.7 448.5h0M548.4 302.9h0M421.3 61.5h0M255.8 65.3h0M533.0 157.3h0M240.4 73.0h0"/><path stroke="#ffc400" d="M379.0 448.5h0M398.2 53.8h0M552.2 291.4h0M151.8 337.4h0M540.7 172.6h0M556.1 264.6h0M398.2 444.7h0M556.1 272.3h0M140.3 310.6h0M521.4 138.1h0M556.1 226.3h0M136.4 299.1h0M132.6 218.6h0M556.1 233.9h0M379.0 50.0h0M540.7 325.9h0M521.4 360.4h0M552.2 207.1h0M140.3 187.9h0M151.8 161.1h0M136.4 199.4h0M132.6 279.9h0"/><path stroke="#ffbd00" d="M132.6 287.6h0M128.7 260.8h0M552.2 299.1h0M556.1 279.9h0M448.2 425.5h0M467.5 84.5h0M128.7 237.8h0M128.7 245.4h0M128.7 253.1h0M432.9 433.2h0M556.1 218.6h0M132.6 210.9h0M552.2 199.4h0M448.2 73.0h0M432.9 65.3h0M467.5 414.0h0"/><path stroke="#ffb600" d="M225.0 417.9h0M132.6 295.2h0M159.5 352.7h0M225.0 80.7h0M548.4 187.9h0M128.7 268.4h0M136.4 306.7h0M159.5 145.8h0M556.1 287.6h0M128.7 230.1h0M556.1 210.9h0M132.6 203.3h0M144.1 176.5h0M559.9 245.4h0M559.9 253.1h0M548.4 310.6h0M144.1 322.1h0M136.4 191.8h0"/><path stroke="#ffb000" d="M244.2 69.2h0M194.2 394.9h0M336.6 46.2h0M128.7 276.1h0M186.5 387.2h0M552.2 306.7h0M190.3 391.0h0M302.0 50.0h0M194.2 103.6h0M182.6 115.1h0M128.7 222.4h0M559.9 268.4h0M182.6 383.4h0M525.2 356.6h0M186.5 111.3h0M336.6 452.4h0M190.3 107.5h0M552.2 191.8h0M244.2 429.4h0M525.2 142.0h0M559.9 230.1h0M302.0 448.5h0M352.0 46.2h0M559.9 237.8h0M559.9 260.8h0M344.3 452.4h0M344.3 46.2h0"/><path stroke="#ffa900" d="M536.8 161.1h0M556.1 295.2h0M352.0 452.4h0M140.3 180.3h0M198.0 99.8h0M271.2 440.9h0M386.7 50.0h0M463.7 80.7h0M559.9 276.1h0M140.3 318.2h0M556.1 203.3h0M536.8 337.4h0M178.8 379.5h0M559.9 222.4h0M386.7 448.5h0M463.7 417.9h0M328.9 452.4h0M328.9 46.2h0M271.2 57.7h0M178.8 119.0h0M198.0 398.7h0"/><path stroke="#ffa200" d="M282.7 53.8h0M228.8 76.8h0M259.6 437.0h0M444.4 429.4h0M544.5 176.5h0M359.7 452.4h0M282.7 444.7h0M559.9 283.7h0M259.6 61.5h0M444.4 69.2h0M544.5 322.1h0M228.8 421.7h0M148.0 165.0h0M148.0 333.6h0M174.9 375.7h0M174.9 122.8h0M201.9 402.5h0M359.7 46.2h0M201.9 96.0h0M559.9 214.8h0"/><path stroke="#ff9b00" d="M556.1 302.9h0M155.7 348.9h0M529.1 145.8h0M494.5 394.9h0M506.0 115.1h0M506.0 383.4h0M321.2 46.2h0M405.9 53.8h0M529.1 352.7h0M417.5 57.7h0M502.2 387.2h0M556.1 195.6h0M494.5 103.6h0M563.8 241.6h0M559.9 291.4h0M548.4 180.3h0M563.8 249.3h0M563.8 256.9h0M563.8 264.6h0M552.2 184.1h0M405.9 444.7h0M498.3 391.0h0M321.2 452.4h0M417.5 440.9h0M502.2 111.3h0M548.4 318.2h0M563.8 233.9h0M552.2 314.4h0M155.7 149.6h0M498.3 107.5h0M559.9 207.1h0"/><path stroke="#ff9500" d="M509.9 379.5h0M294.2 50.0h0M429.0 61.5h0M459.8 76.8h0M429.0 437.0h0M294.2 448.5h0M490.6 398.7h0M509.9 119.0h0M205.7 92.1h0M367.4 452.4h0M367.4 46.2h0M563.8 272.3h0M490.6 99.8h0M171.1 371.9h0M171.1 126.6h0M563.8 226.3h0M205.7 406.4h0"/><path stroke="#ff8e00" d="M513.7 122.8h0M209.6 410.2h0M556.1 310.6h0M394.4 50.0h0M248.1 65.3h0M209.6 88.3h0M313.5 46.2h0M248.1 433.2h0M144.1 168.8h0M394.4 448.5h0M559.9 299.1h0M486.8 402.5h0M563.8 279.9h0M459.8 421.7h0M486.8 96.0h0M563.8 218.6h0M556.1 187.9h0M144.1 329.7h0M559.9 199.4h0"/><path stroke="#ff8700" d="M513.7 375.7h0M540.7 165.0h0M375.1 452.4h0M540.7 333.6h0M232.7 73.0h0M567.6 237.8h0M567.6 245.4h0M567.6 253.1h0M313.5 452.4h0M167.2 368.1h0M167.2 130.5h0M563.8 287.6h0M563.8 210.9h0M482.9 406.4h0M375.1 46.2h0M232.7 425.5h0M482.9 92.1h0M567.6 260.8h0"/><path stroke="#ff8000" d="M567.6 268.4h0M533.0 348.9h0M517.6 371.9h0M544.5 168.8h0M151.8 345.1h0M567.6 230.1h0M563.8 295.2h0M517.6 126.6h0M548.4 172.6h0M440.6 65.3h0M559.9 306.7h0M552.2 176.5h0M544.5 329.7h0M151.8 153.5h0M563.8 203.3h0M440.6 433.2h0M548.4 325.9h0M533.0 149.6h0M559.9 191.8h0M552.2 322.1h0"/><path stroke="#ff7a00" d="M163.4 134.3h0M456.0 73.0h0M567.6 276.1h0M275.0 444.7h0M556.1 318.2h0M213.4 414.0h0M567.6 222.4h0M163.4 364.2h0M275.0 53.8h0M456.0 425.5h0M263.5 57.7h0M213.4 84.5h0M479.1 410.2h0M556.1 180.3h0M479.1 88.3h0M263.5 440.9h0"/><path stroke="#ff7300" d="M286.6 448.5h0M521.4 368.1h0M521.4 130.5h0M382.8 452.4h0M305.8 46.2h0M382.8 46.2h0M413.6 53.8h0M286.6 50.0h0M305.8 452.4h0M413.6 444.7h0"/><path stroke="#ff6c00" d="M475.2 84.5h0M402.1 448.5h0M159.5 138.1h0M251.9 437.0h0M236.5 429.4h0M217.2 417.9h0M536.8 153.5h0M536.8 345.1h0M475.2 414.0h0M425.2 57.7h0M251.9 61.5h0M236.5 69.2h0M402.1 50.0h0M425.2 440.9h0M217.2 80.7h0"/><path stroke="#ff6500" d="M348.2 456.2h0M332.8 456.2h0M159.5 360.4h0M340.5 456.2h0M355.9 42.3h0M548.4 165.0h0M525.2 364.2h0M552.2 168.8h0M348.2 42.3h0M525.2 134.3h0M148.0 157.3h0M332.8 42.3h0M148.0 341.2h0M355.9 456.2h0M548.4 333.6h0M340.5 42.3h0M552.2 329.7h0"/><path stroke="#ff5f00" d="M540.7 157.3h0M436.7 61.5h0M540.7 341.2h0M452.1 429.4h0M325.1 456.2h0M325.1 42.3h0M298.1 46.2h0M544.5 161.1h0M544.5 337.4h0M452.1 69.2h0M298.1 452.4h0M436.7 437.0h0"/><path stroke="#ff5800" d="M363.6 456.2h0M363.6 42.3h0M471.4 417.9h0M221.1 76.8h0M390.5 46.2h0M471.4 80.7h0M390.5 452.4h0M221.1 421.7h0"/><path stroke="#ff5100" d="M529.1 138.1h0M267.3 53.8h0M240.4 433.2h0M317.4 42.3h0M186.5 394.9h0M190.3 398.7h0M182.6 107.5h0M182.6 391.0h0M267.3 444.7h0M186.5 103.6h0M190.3 99.8h0M317.4 456.2h0M529.1 360.4h0M240.4 65.3h0"/><path stroke="#ff4a00" d="M194.2 402.5h0M194.2 96.0h0M371.2 42.3h0M467.5 76.8h0M278.9 50.0h0M371.2 456.2h0M278.9 448.5h0M467.5 421.7h0"/><path stroke="#ff4400" d="M448.2 433.2h0M409.8 50.0h0M421.3 444.7h0M255.8 440.9h0M198.0 92.1h0M540.7 149.6h0M290.4 46.2h0M540.7 348.9h0M409.8 448.5h0M225.0 73.0h0M198.0 406.4h0M544.5 153.5h0M290.4 452.4h0M225.0 425.5h0M544.5 345.1h0M421.3 53.8h0M448.2 65.3h0M255.8 57.7h0"/><path stroke="#ff3d00" d="M379.0 456.2h0M509.9 387.2h0M533.0 356.6h0M432.9 440.9h0M506.0 107.5h0M309.7 42.3h0M506.0 391.0h0M509.9 111.3h0M502.2 394.9h0M379.0 42.3h0M498.3 398.7h0M309.7 456.2h0M502.2 103.6h0M432.9 57.7h0M533.0 142.0h0M498.3 99.8h0M398.2 452.4h0M398.2 46.2h0"/><path stroke="#ff3600" d="M513.7 383.4h0M494.5 402.5h0M463.7 73.0h0M536.8 145.8h0M494.5 96.0h0M513.7 115.1h0M536.8 352.7h0M463.7 425.5h0M244.2 61.5h0"/><path stroke="#ff2f00" d="M517.6 119.0h0M517.6 379.5h0M490.6 92.1h0M244.2 437.0h0M490.6 406.4h0"/><path stroke="#ff2900" d="M336.6 38.5h0M486.8 88.3h0M271.2 448.5h0M444.4 437.0h0M302.0 42.3h0M444.4 61.5h0M486.8 410.2h0M302.0 456.2h0M344.3 38.5h0M344.3 460.0h0M271.2 50.0h0"/><path stroke="#ff2200" d="M282.7 46.2h0M429.0 53.8h0M459.8 69.2h0M259.6 444.7h0M336.6 460.0h0M536.8 360.4h0M321.2 38.5h0M405.9 452.4h0M405.9 46.2h0M386.7 42.3h0M521.4 375.7h0M536.8 138.1h0M417.5 50.0h0M521.4 122.8h0M359.7 460.0h0M429.0 444.7h0M525.2 371.9h0M525.2 126.6h0M352.0 38.5h0M352.0 460.0h0M321.2 460.0h0M417.5 448.5h0M386.7 456.2h0M459.8 429.4h0M482.9 414.0h0M259.6 53.8h0M328.9 38.5h0M328.9 460.0h0M359.7 38.5h0M482.9 84.5h0M282.7 452.4h0"/><path stroke="#ff1b00" d="M456.0 65.3h0M529.1 130.5h0M475.2 76.8h0M394.4 42.3h0M533.0 364.2h0M471.4 425.5h0M456.0 433.2h0M313.5 38.5h0M294.2 456.2h0M313.5 460.0h0M452.1 437.0h0M440.6 57.7h0M394.4 456.2h0M413.6 46.2h0M425.2 50.0h0M367.4 38.5h0M367.4 460.0h0M475.2 421.7h0M471.4 73.0h0M402.1 42.3h0M479.1 417.9h0M440.6 440.9h0M452.1 61.5h0M375.1 38.5h0M533.0 134.3h0M375.1 460.0h0M479.1 80.7h0M425.2 448.5h0M413.6 452.4h0M529.1 368.1h0M294.2 42.3h0"/><path stroke="#ff1400" d="M436.7 444.7h0M509.9 394.9h0M509.9 103.6h0M506.0 99.8h0M436.7 53.8h0M506.0 398.7h0"/></g></g><path d="M95.4 484.5V440" stroke="#00f000" stroke-width="2.6"/><path d="M95.4 429.5L102 441.5H88.8Z" fill="#00f000"/><path d="M94.5 483.7H139" stroke="#ff0000" stroke-width="2.4"/><path d="M149.8 483.7L137.6 477.3V490.1Z" fill="#ff0000"/><g fill="none" stroke="#00f000" stroke-linecap="round"><path d="M90 411.5C92 410.9 93.6 410.9 94.1 412.5C94.8 415 94.8 418.5 94.5 421.8" stroke-width="1.7"/><path d="M100.2 412.6C99.8 415.5 97.5 419 95 421.8C92.8 424.5 90.5 427 88.3 427.9" stroke-width="0.9"/></g><circle cx="100.2" cy="412.4" r="1.2" fill="#00f000"/><circle cx="88.3" cy="427.5" r="1.1" fill="#00f000"/><g fill="none" stroke="#ff0000" stroke-linecap="round"><path d="M151.7 481.4C153.9 480.8 155.3 482.2 156 485.3L157.4 491C158 493 159.4 492.8 160.9 490.5" stroke-width="1.65"/><path d="M150 492C151.4 493.2 152.8 492.2 154.4 490.3L158.7 484.6C160 482.8 161 481.8 162.3 481.9" stroke-width="0.85"/></g><circle cx="150.5" cy="492.2" r="0.95" fill="#ff0000"/><circle cx="161.8" cy="482.2" r="1.0" fill="#ff0000"/><text x="342.7" y="556.0" font-family="Liberation Serif, serif" font-size="33" text-anchor="middle">(a)</text>
<rect x="0" y="602" width="685" height="570" fill="#fdfdfd"/><defs><clipPath id="pc"><rect x="94.1" y="622.1" width="588.7" height="469.1"/></clipPath></defs><g clip-path="url(#pc)" fill="none" stroke-width="2.3" stroke-linejoin="round"><path stroke="#505050" d="M94.4 1048.3C98.7 1048.4 113.2 1048.9 120.0 1048.8C126.8 1048.7 130.0 1047.8 135.0 1047.8C140.0 1047.8 143.3 1048.7 150.0 1048.8C156.7 1048.9 166.7 1048.3 175.0 1048.3C183.3 1048.3 190.8 1048.9 200.0 1048.8C209.2 1048.7 221.1 1047.9 230.0 1047.9C238.9 1047.9 245.6 1048.4 253.4 1048.6C261.2 1048.8 270.1 1049.4 276.7 1049.3C283.3 1049.2 287.6 1048.1 293.0 1047.9C298.4 1047.7 303.5 1047.8 309.4 1047.9C315.2 1048.0 319.9 1048.5 328.1 1048.6C336.3 1048.6 350.7 1048.2 358.5 1048.2C366.3 1048.2 369.8 1048.8 375.0 1048.9C380.2 1049.1 384.2 1049.2 390.0 1049.1C395.8 1049.0 403.3 1048.3 410.0 1048.2C416.7 1048.1 421.7 1048.6 430.0 1048.6C438.3 1048.6 451.7 1048.2 460.0 1048.3C468.3 1048.4 473.3 1049.0 480.0 1049.0C486.7 1049.0 492.5 1048.2 500.0 1048.2C507.5 1048.2 516.7 1048.7 525.0 1048.7C533.3 1048.7 541.7 1048.2 550.0 1048.2C558.3 1048.2 566.7 1048.8 575.0 1048.8C583.3 1048.8 591.7 1048.2 600.0 1048.2C608.3 1048.2 616.7 1048.8 625.0 1048.8C633.3 1048.8 643.3 1048.2 650.0 1048.1C656.7 1048.0 659.5 1048.3 665.0 1048.3C670.5 1048.3 679.8 1048.2 682.8 1048.2"/><path stroke="#f14040" d="M94.4 972.8C95.9 974.3 99.8 978.8 103.1 982.0C106.4 985.2 109.7 988.1 114.1 991.8C118.5 995.4 124.3 999.9 129.4 1003.9C134.5 1007.9 140.3 1013.0 144.7 1015.9C149.1 1018.8 152.0 1019.8 155.7 1021.4C159.3 1023.0 162.9 1024.6 166.6 1025.8C170.2 1027.0 172.8 1027.6 177.6 1028.6C182.3 1029.6 189.6 1030.8 195.1 1031.9C200.6 1033.0 206.0 1034.3 210.4 1035.0C214.8 1035.7 216.5 1036.0 221.4 1036.3C226.3 1036.6 233.5 1036.2 240.0 1036.7C246.5 1037.2 254.3 1039.1 260.4 1039.3C266.5 1039.5 271.3 1038.1 276.7 1038.1C282.1 1038.1 287.1 1039.1 293.0 1039.3C298.9 1039.5 305.6 1039.0 311.8 1039.3C318.0 1039.6 324.6 1040.6 330.4 1040.9C336.2 1041.2 341.4 1041.1 346.8 1040.9C352.2 1040.8 358.0 1039.9 363.1 1040.0C368.2 1040.1 372.7 1041.4 377.2 1041.6C381.7 1041.8 385.6 1041.0 390.0 1040.9C394.4 1040.8 397.9 1041.0 403.7 1040.9C409.5 1040.8 417.7 1040.7 424.7 1040.4C431.7 1040.1 439.9 1039.5 445.7 1039.3C451.5 1039.1 454.2 1039.0 459.7 1039.3C465.1 1039.6 472.5 1040.9 478.4 1040.9C484.2 1040.9 488.2 1039.6 494.8 1039.3C501.4 1039.0 512.3 1039.6 518.1 1039.3C523.9 1039.0 525.3 1038.1 529.8 1037.6C534.3 1037.1 538.7 1036.9 545.0 1036.2C551.3 1035.5 560.3 1034.4 567.8 1033.4C575.2 1032.4 583.5 1031.4 589.7 1030.1C595.9 1028.8 599.6 1027.2 605.1 1025.8C610.6 1024.3 617.1 1023.8 622.6 1021.4C628.1 1019.0 632.8 1015.3 637.9 1011.5C643.0 1007.7 648.1 1002.8 653.2 998.4C658.3 994.0 663.7 989.5 668.6 985.3C673.5 981.1 680.4 975.0 682.8 973.0"/><path stroke="#1a6fdf" d="M94.4 892.3C95.9 895.6 99.8 905.7 103.1 911.9C106.4 918.1 110.4 923.2 114.1 929.4C117.8 935.6 121.7 943.4 125.0 949.1C128.3 954.8 130.5 958.3 133.8 963.4C137.1 968.5 141.0 975.6 144.7 979.8C148.3 984.0 152.0 985.0 155.7 988.5C159.3 992.0 162.9 997.3 166.6 1000.6C170.2 1003.9 173.2 1005.8 177.6 1008.2C182.0 1010.6 188.2 1013.0 192.9 1014.8C197.6 1016.6 201.6 1017.9 206.0 1019.2C210.4 1020.5 213.5 1021.4 219.2 1022.5C224.9 1023.6 232.4 1024.7 240.0 1025.8C247.6 1026.9 256.6 1028.2 265.0 1029.2C273.4 1030.2 282.9 1031.6 290.7 1031.8C298.5 1032.0 305.6 1030.3 311.8 1030.4C318.0 1030.5 323.1 1031.7 328.1 1032.3C333.2 1032.9 336.7 1033.6 342.1 1033.9C347.6 1034.2 354.6 1033.8 360.8 1033.9C367.0 1034.0 374.6 1034.6 379.5 1034.6C384.4 1034.6 385.2 1034.2 390.0 1034.1C394.8 1034.0 401.0 1034.0 408.4 1033.9C415.8 1033.8 427.1 1033.8 434.1 1033.4C441.1 1033.1 444.9 1032.4 450.4 1031.8C455.8 1031.2 461.4 1030.0 466.8 1029.9C472.2 1029.8 477.7 1030.8 483.1 1031.1C488.6 1031.4 494.1 1032.3 499.5 1031.8C504.9 1031.3 510.7 1029.1 515.8 1028.3C520.8 1027.5 524.9 1027.8 529.8 1027.1C534.7 1026.4 540.1 1024.9 545.0 1024.1C549.9 1023.3 551.6 1024.4 559.1 1022.5C566.6 1020.6 581.0 1016.2 589.7 1012.6C598.5 1009.0 604.7 1006.1 611.6 1000.6C618.5 995.1 624.8 988.0 631.4 979.8C638.0 971.6 645.2 960.8 651.0 951.3C656.8 941.8 661.1 932.7 666.4 922.8C671.7 912.9 680.1 897.1 682.8 892.0"/><path stroke="#37ad6b" d="M94.4 817.4C96.6 823.3 102.9 840.8 107.5 852.9C112.1 865.0 117.4 878.7 121.8 890.0C126.2 901.3 130.0 911.9 133.8 920.7C137.6 929.5 141.0 936.1 144.7 942.6C148.3 949.1 152.0 954.7 155.7 960.0C159.3 965.3 163.3 970.1 166.6 974.3C169.9 978.5 171.8 982.0 175.4 985.3C179.1 988.6 183.2 990.9 188.5 994.0C193.8 997.1 202.4 1001.9 207.2 1003.9C211.9 1005.9 213.2 1004.9 217.0 1006.0C220.8 1007.1 224.7 1008.9 230.0 1010.5C235.3 1012.1 241.7 1014.3 248.7 1015.9C255.7 1017.5 265.0 1018.9 272.0 1020.1C279.0 1021.3 284.5 1022.1 290.7 1022.9C296.9 1023.6 303.2 1024.3 309.4 1024.6C315.6 1024.9 322.7 1024.5 328.1 1024.6C333.6 1024.7 337.0 1025.3 342.1 1025.3C347.2 1025.3 353.1 1024.6 358.5 1024.6C363.9 1024.6 369.6 1025.1 374.8 1025.3C380.1 1025.5 384.4 1025.8 390.0 1025.7C395.6 1025.6 402.2 1024.7 408.4 1024.6C414.6 1024.5 420.4 1025.5 427.0 1025.3C433.6 1025.1 441.9 1023.8 448.1 1023.6C454.3 1023.4 459.3 1024.4 464.4 1024.1C469.4 1023.8 474.5 1022.0 478.4 1021.8C482.3 1021.6 483.1 1023.2 487.8 1022.9C492.5 1022.6 500.7 1021.1 506.5 1019.9C512.3 1018.7 518.0 1017.0 522.8 1015.9C527.5 1014.8 530.0 1014.8 535.0 1013.5C540.0 1012.2 546.7 1009.8 552.5 1008.2C558.3 1006.6 563.8 1006.5 570.0 1003.9C576.2 1001.3 582.8 998.0 589.7 992.9C596.6 987.8 604.7 981.2 611.6 973.2C618.5 965.2 625.9 953.8 631.4 944.7C636.9 935.6 641.0 926.0 644.5 918.5C648.0 911.0 648.6 909.8 652.2 900.0C655.9 890.2 662.2 871.4 666.4 859.5C670.6 847.6 674.6 836.0 677.3 828.8C680.0 821.6 681.9 818.5 682.8 816.5"/><path stroke="#b177de" d="M94.4 714.7C96.0 720.6 100.2 735.7 104.2 750.0C108.2 764.3 114.3 785.8 118.5 800.4C122.7 815.0 125.8 825.9 129.4 837.6C133.1 849.3 137.7 861.7 140.4 870.4C143.1 879.1 143.2 882.7 145.8 890.0C148.4 897.3 152.2 906.4 155.7 914.1C159.2 921.8 162.9 929.4 166.6 936.0C170.2 942.6 174.3 948.4 177.6 953.5C180.9 958.6 182.8 962.6 186.4 966.6C190.1 970.6 194.4 973.8 199.5 977.6C204.6 981.4 211.9 986.7 217.0 989.6C222.1 992.5 225.5 993.1 230.0 994.9C234.5 996.7 238.6 998.5 244.0 1000.3C249.4 1002.0 256.9 1003.8 262.7 1005.4C268.5 1007.0 274.3 1008.9 279.0 1009.6C283.7 1010.3 286.4 1009.1 290.7 1009.6C295.0 1010.1 299.2 1011.6 304.7 1012.4C310.1 1013.2 317.2 1013.8 323.4 1014.3C329.6 1014.8 335.9 1015.1 342.1 1015.4C348.3 1015.7 355.7 1015.8 360.8 1015.9C365.9 1016.0 369.4 1015.9 372.5 1016.2C375.6 1016.5 376.6 1017.6 379.5 1017.8C382.4 1017.9 386.8 1017.2 390.0 1017.1C393.2 1017.0 395.6 1017.5 399.0 1017.1C402.4 1016.7 406.4 1014.9 410.7 1014.7C415.0 1014.5 419.2 1016.0 424.7 1015.9C430.1 1015.8 437.2 1014.8 443.4 1014.3C449.6 1013.8 456.3 1013.4 462.1 1012.9C467.9 1012.4 472.6 1011.8 478.4 1011.2C484.2 1010.6 491.7 1010.2 497.1 1009.4C502.6 1008.5 506.0 1007.4 511.1 1006.1C516.2 1004.9 523.5 1003.2 527.5 1001.9C531.5 1000.6 531.6 999.7 535.0 998.4C538.4 997.1 542.6 996.4 548.1 994.0C553.6 991.6 561.2 988.6 567.8 984.2C574.4 979.8 582.1 973.2 587.6 967.7C593.1 962.2 596.7 956.6 600.7 951.3C604.7 946.0 608.3 941.8 611.6 936.0C614.9 930.2 617.8 922.3 620.4 916.3C623.0 910.3 624.1 908.4 627.0 900.0C629.9 891.6 633.9 879.0 637.9 866.0C641.9 853.0 647.0 835.4 651.0 822.3C655.0 809.2 658.9 797.6 662.0 787.2C665.1 776.8 667.9 766.2 669.7 760.0C671.5 753.8 670.8 757.6 673.0 750.0C675.2 742.4 681.2 720.4 682.8 714.5"/><path stroke="#cc9900" d="M103.6 622.0C106.1 632.7 113.3 664.7 118.5 686.0C123.7 707.3 130.5 733.9 134.9 750.0C139.3 766.1 141.2 771.1 144.7 782.8C148.2 794.5 152.0 808.0 155.7 820.0C159.3 832.0 162.9 843.4 166.6 855.1C170.2 866.8 174.3 880.9 177.6 890.0C180.9 899.1 182.8 902.8 186.4 909.7C190.1 916.6 194.4 923.9 199.5 931.6C204.6 939.3 212.2 949.9 217.0 955.7C221.8 961.5 224.2 963.3 228.0 966.6C231.8 969.9 236.6 973.0 240.0 975.4C243.4 977.8 244.5 978.6 248.7 980.9C252.9 983.2 259.2 986.7 265.0 989.0C270.8 991.3 277.9 993.4 283.7 994.9C289.5 996.4 294.1 997.1 300.0 998.0C305.9 998.9 312.2 999.5 318.8 1000.3C325.4 1001.1 332.8 1002.1 339.8 1002.6C346.8 1003.1 355.4 1003.2 360.8 1003.5C366.2 1003.8 369.4 1004.4 372.5 1004.2C375.6 1004.1 376.6 1002.8 379.5 1002.6C382.4 1002.4 386.0 1002.6 390.0 1003.0C394.0 1003.4 397.9 1004.7 403.7 1004.7C409.5 1004.7 417.7 1003.7 424.7 1003.1C431.7 1002.5 439.5 1001.9 445.7 1001.2C451.9 1000.5 456.7 999.6 462.1 998.9C467.6 998.2 472.6 998.1 478.4 997.2C484.2 996.3 491.7 994.7 497.1 993.3C502.6 991.9 506.0 990.5 511.1 988.6C516.2 986.7 523.5 983.8 527.5 982.0C531.5 980.2 531.9 979.4 535.0 977.6C538.1 975.8 541.6 974.6 546.0 971.0C550.4 967.4 556.9 960.4 561.3 955.7C565.7 951.0 568.9 947.0 572.2 942.6C575.5 938.2 578.1 934.5 581.0 929.4C583.9 924.3 587.3 916.8 589.7 911.9C592.1 907.0 591.6 909.5 595.2 900.0C598.9 890.5 607.0 867.7 611.6 855.1C616.2 842.5 619.3 834.7 622.6 824.5C625.9 814.3 628.1 806.2 631.4 793.8C634.7 781.4 637.8 768.0 642.4 750.0C647.0 732.0 653.7 707.3 659.0 686.0C664.3 664.7 671.5 632.7 674.0 622.0"/></g><path d="M132.6 1091.2v-9M132.6 622.1v9M196.6 1091.2v-5M196.6 622.1v5M260.7 1091.2v-9M260.7 622.1v9M324.7 1091.2v-5M324.7 622.1v5M388.8 1091.2v-9M388.8 622.1v9M452.8 1091.2v-5M452.8 622.1v5M516.8 1091.2v-9M516.8 622.1v9M580.9 1091.2v-5M580.9 622.1v5M644.9 1091.2v-9M644.9 622.1v9M94.1 1048.8h9M682.8 1048.8h-9M94.1 1006.1h5M682.8 1006.1h-5M94.1 963.5h9M682.8 963.5h-9M94.1 920.8h5M682.8 920.8h-5M94.1 878.1h9M682.8 878.1h-9M94.1 835.4h5M682.8 835.4h-5M94.1 792.8h9M682.8 792.8h-9M94.1 750.1h5M682.8 750.1h-5M94.1 707.4h9M682.8 707.4h-9M94.1 664.8h5M682.8 664.8h-5" stroke="#000" stroke-width="1.7" fill="none"/><rect x="94.1" y="622.1" width="588.7" height="469.1" fill="none" stroke="#000" stroke-width="1.75"/><g font-family="Liberation Serif, serif" font-size="29.6" fill="#000"><text x="85.9" y="1058.6" text-anchor="end">0.0</text><text x="85.9" y="973.3" text-anchor="end">0.2</text><text x="85.9" y="887.9" text-anchor="end">0.4</text><text x="85.9" y="802.6" text-anchor="end">0.6</text><text x="85.9" y="717.2" text-anchor="end">0.8</text><text x="85.9" y="631.9" text-anchor="end">1.0</text><text x="132.6" y="1124.1" text-anchor="middle">-100</text><text x="260.7" y="1124.1" text-anchor="middle">-50</text><text x="388.8" y="1124.1" text-anchor="middle">0</text><text x="516.8" y="1124.1" text-anchor="middle">50</text><text x="644.9" y="1124.1" text-anchor="middle">100</text></g><text x="388.7" y="1163.9" font-family="Liberation Serif, serif" font-size="31.5" text-anchor="middle"><tspan font-style="italic">r</tspan> (&#197;)</text><text transform="translate(29.9,846.4) rotate(-90)" font-family="Liberation Serif, serif" font-size="31.5" text-anchor="middle"><tspan font-style="italic">s</tspan><tspan font-style="italic" font-size="21.5" dy="8.4">x</tspan><tspan dy="-8.4"> (&#197;)</tspan></text><path d="M306 687.9H363.8" stroke="#505050" stroke-width="2.4"/><text x="370.7" y="696.7" font-family="Liberation Serif, serif" font-size="24"><tspan font-style="italic">&#948;</tspan><tspan font-style="italic" font-size="17.5" dy="7">x</tspan><tspan dy="-7"> = 0&#160;&#160;&#160;&#160;&#197;</tspan></text><path d="M306 721.2H363.8" stroke="#f14040" stroke-width="2.4"/><text x="370.7" y="730.0" font-family="Liberation Serif, serif" font-size="24"><tspan font-style="italic">&#948;</tspan><tspan font-style="italic" font-size="17.5" dy="7">x</tspan><tspan dy="-7"> = 0.5 &#197;</tspan></text><path d="M306 754.6H363.8" stroke="#1a6fdf" stroke-width="2.4"/><text x="370.7" y="763.4" font-family="Liberation Serif, serif" font-size="24"><tspan font-style="italic">&#948;</tspan><tspan font-style="italic" font-size="17.5" dy="7">x</tspan><tspan dy="-7"> = 1.0 &#197;</tspan></text><path d="M306 788.0H363.8" stroke="#37ad6b" stroke-width="2.4"/><text x="370.7" y="796.8" font-family="Liberation Serif, serif" font-size="24"><tspan font-style="italic">&#948;</tspan><tspan font-style="italic" font-size="17.5" dy="7">x</tspan><tspan dy="-7"> = 1.5 &#197;</tspan></text><path d="M306 821.3H363.8" stroke="#b177de" stroke-width="2.4"/><text x="370.7" y="830.1" font-family="Liberation Serif, serif" font-size="24"><tspan font-style="italic">&#948;</tspan><tspan font-style="italic" font-size="17.5" dy="7">x</tspan><tspan dy="-7"> = 2.0 &#197;</tspan></text><path d="M306 854.6H363.8" stroke="#cc9900" stroke-width="2.4"/><text x="370.7" y="863.4" font-family="Liberation Serif, serif" font-size="24"><tspan font-style="italic">&#948;</tspan><tspan font-style="italic" font-size="17.5" dy="7">x</tspan><tspan dy="-7"> = 2.5 &#197;</tspan></text><text x="342.2" y="1244.0" font-family="Liberation Serif, serif" font-size="33" text-anchor="middle">(b)</text>
</svg>
</body></html>
